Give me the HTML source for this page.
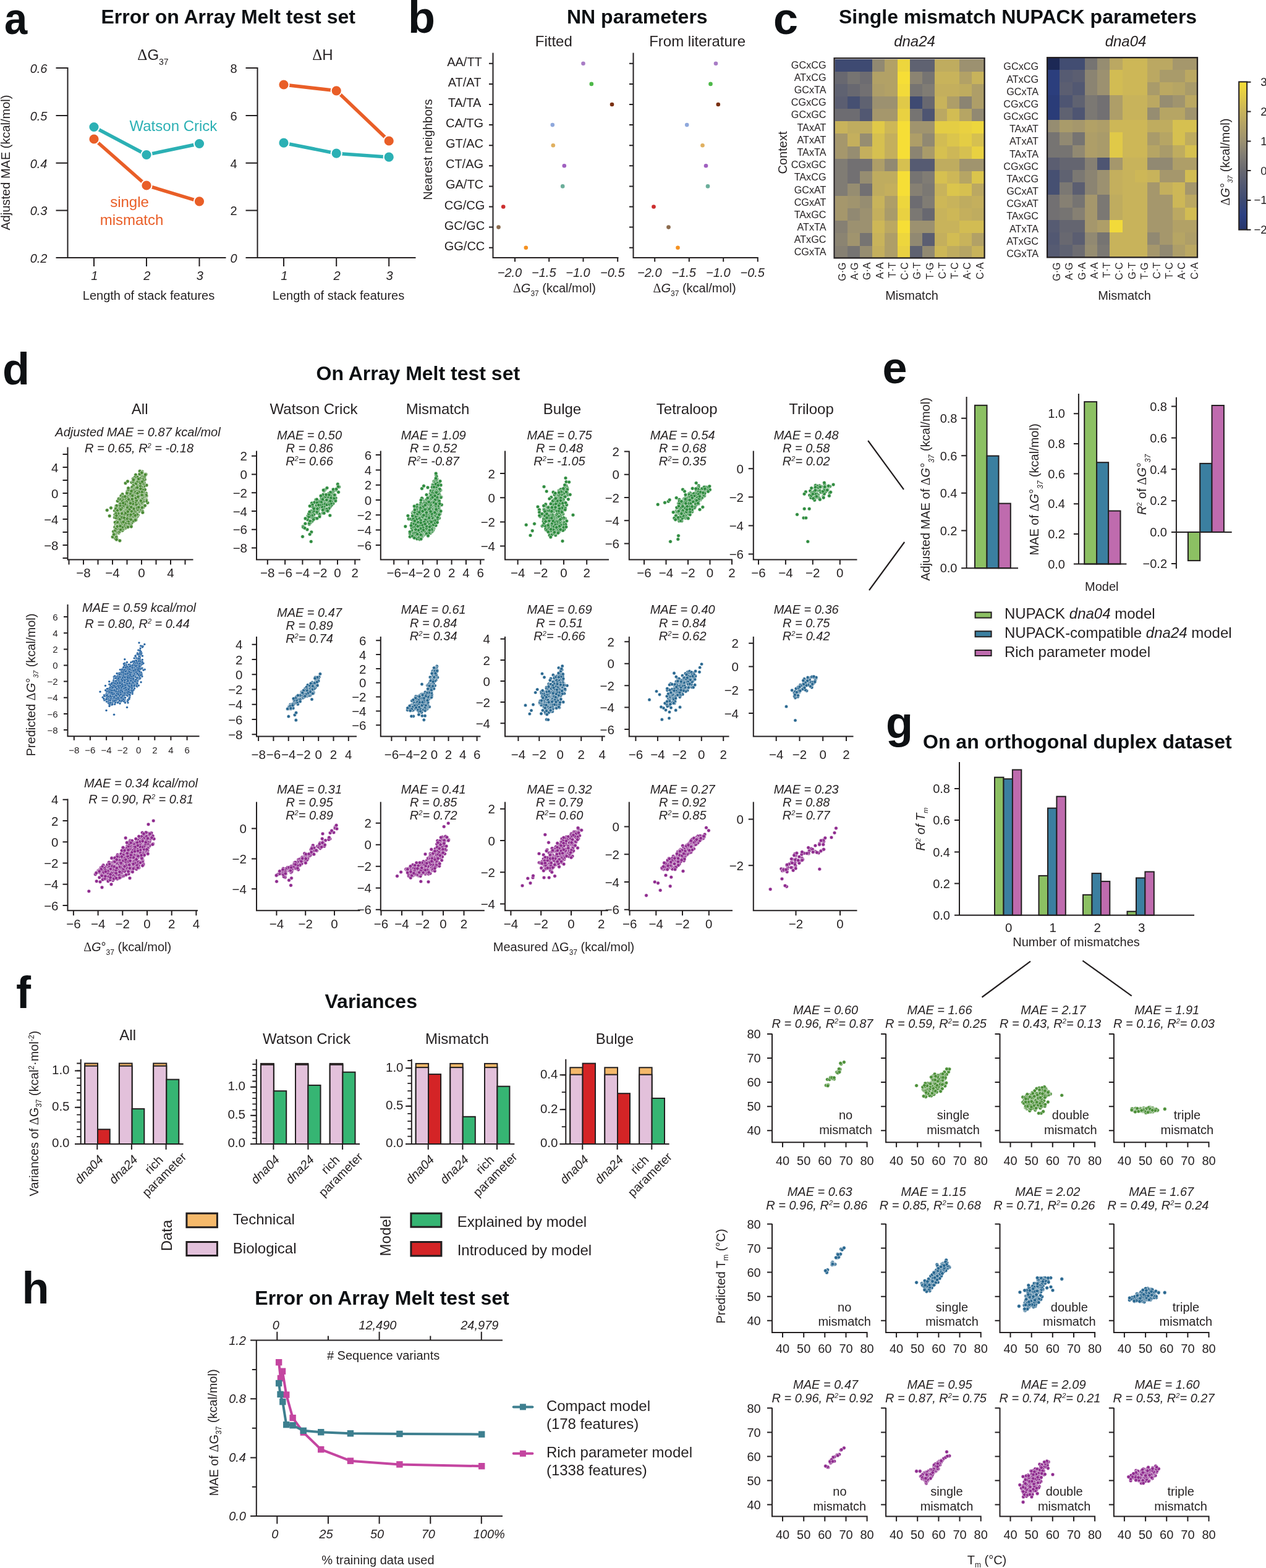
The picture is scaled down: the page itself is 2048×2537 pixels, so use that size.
<!DOCTYPE html>
<html lang="en"><head><meta charset="utf-8"><title>Figure</title>
<style>html,body{margin:0;padding:0;background:#fff}body{width:2048px;height:2537px;overflow:hidden}svg{display:block}.m0{fill:none;stroke:none;marker-start:url(#m0);marker-mid:url(#m0);marker-end:url(#m0)}.m1{fill:none;stroke:none;marker-start:url(#m1);marker-mid:url(#m1);marker-end:url(#m1)}.m2{fill:none;stroke:none;marker-start:url(#m2);marker-mid:url(#m2);marker-end:url(#m2)}.m3{fill:none;stroke:none;marker-start:url(#m3);marker-mid:url(#m3);marker-end:url(#m3)}.m4{fill:none;stroke:none;marker-start:url(#m4);marker-mid:url(#m4);marker-end:url(#m4)}.m5{fill:none;stroke:none;marker-start:url(#m5);marker-mid:url(#m5);marker-end:url(#m5)}.m6{fill:none;stroke:none;marker-start:url(#m6);marker-mid:url(#m6);marker-end:url(#m6)}</style></head>
<body><svg width="2048" height="2537" viewBox="0 0 2048 2537"><defs><marker id="m0" markerUnits="userSpaceOnUse" markerWidth="8.2" markerHeight="8.2" refX="4.1" refY="4.1"><circle cx="4.1" cy="4.1" r="2.8" fill="#4a8a34" stroke="#fff" stroke-width="0.5"/></marker><marker id="m1" markerUnits="userSpaceOnUse" markerWidth="6.2" markerHeight="6.2" refX="3.1" refY="3.1"><circle cx="3.1" cy="3.1" r="1.8" fill="#1f5f9e" stroke="#fff" stroke-width="0.3"/></marker><marker id="m2" markerUnits="userSpaceOnUse" markerWidth="8.2" markerHeight="8.2" refX="4.1" refY="4.1"><circle cx="4.1" cy="4.1" r="2.8" fill="#8e2a8e" stroke="#fff" stroke-width="0.5"/></marker><marker id="m3" markerUnits="userSpaceOnUse" markerWidth="8.2" markerHeight="8.2" refX="4.1" refY="4.1"><circle cx="4.1" cy="4.1" r="2.8" fill="#2e8b3e" stroke="#fff" stroke-width="0.5"/></marker><marker id="m4" markerUnits="userSpaceOnUse" markerWidth="7.8" markerHeight="7.8" refX="3.9" refY="3.9"><circle cx="3.9" cy="3.9" r="2.6" fill="#27668f" stroke="#fff" stroke-width="0.5"/></marker><marker id="m5" markerUnits="userSpaceOnUse" markerWidth="8.2" markerHeight="8.2" refX="4.1" refY="4.1"><circle cx="4.1" cy="4.1" r="2.8" fill="#4a8e36" stroke="#fff" stroke-width="0.5"/></marker><marker id="m6" markerUnits="userSpaceOnUse" markerWidth="8.2" markerHeight="8.2" refX="4.1" refY="4.1"><circle cx="4.1" cy="4.1" r="2.8" fill="#27668f" stroke="#fff" stroke-width="0.5"/></marker></defs>
<g font-family="'Liberation Sans',sans-serif" font-size="20" text-anchor="middle" fill="#231f20">
<text transform="translate(7,54.5) scale(0.93,1)" font-size="72" text-anchor="start" font-weight="bold" fill="#0d1013">a</text>
<text x="163.5" y="38" font-size="32" text-anchor="start" font-weight="bold" fill="#0d1013">Error on Array Melt test set</text>
<path d="M109.5 109V417H365.5M90.5 110H109.5M90.5 187H109.5M90.5 263.8H109.5M90.5 340.5H109.5M90.5 417H109.5M152 417V431M237 417V431M322.5 417V431" fill="none" stroke="#231f20" stroke-width="2"/>
<text x="76.5" y="117.8" text-anchor="end" font-style="italic">0.6</text>
<text x="76.5" y="194.8" text-anchor="end" font-style="italic">0.5</text>
<text x="76.5" y="271.6" text-anchor="end" font-style="italic">0.4</text>
<text x="76.5" y="348.3" text-anchor="end" font-style="italic">0.3</text>
<text x="76.5" y="424.8" text-anchor="end" font-style="italic">0.2</text>
<text x="152.8" y="452.5" font-style="italic">1</text>
<text x="237.8" y="452.5" font-style="italic">2</text>
<text x="323.3" y="452.5" font-style="italic">3</text>
<text x="240.5" y="485">Length of stack features</text>
<text x="247.5" y="97" font-size="24"><tspan font-family="Liberation Serif" font-size="25">Δ</tspan>G<tspan dy="8" font-size="14" font-style="normal">37</tspan><tspan dy="-8"></tspan></text>
<path d="M416.5 109V417H672.5M397.5 110H416.5M397.5 187H416.5M397.5 263.8H416.5M397.5 340.5H416.5M397.5 417H416.5M459 417V431M544.2 417V431M629.2 417V431" fill="none" stroke="#231f20" stroke-width="2"/>
<text x="383.5" y="117.8" text-anchor="end">8</text>
<text x="383.5" y="194.8" text-anchor="end">6</text>
<text x="383.5" y="271.6" text-anchor="end">4</text>
<text x="383.5" y="348.3" text-anchor="end">2</text>
<text x="383.5" y="424.8" text-anchor="end" font-style="italic">0</text>
<text x="459.8" y="452.5" font-style="italic">1</text>
<text x="545" y="452.5" font-style="italic">2</text>
<text x="630" y="452.5" font-style="italic">3</text>
<text x="547.5" y="485">Length of stack features</text>
<text x="522" y="97" font-size="24"><tspan font-family="Liberation Serif" font-size="25">Δ</tspan>H</text>
<text transform="translate(15.5,263) rotate(-90)">Adjusted MAE (kcal/mol)</text>
<path d="M152 205.5 L237 250.5 L322.5 232.5" fill="none" stroke="#2bb0b4" stroke-width="5.5" stroke-linejoin="round"/>
<circle cx="152" cy="205.5" r="8.6" fill="#2bb0b4" stroke="#fff" stroke-width="2"/>
<circle cx="237" cy="250.5" r="8.6" fill="#2bb0b4" stroke="#fff" stroke-width="2"/>
<circle cx="322.5" cy="232.5" r="8.6" fill="#2bb0b4" stroke="#fff" stroke-width="2"/>
<path d="M152 225 L237 300 L322.5 325.8" fill="none" stroke="#e95e27" stroke-width="5.5" stroke-linejoin="round"/>
<circle cx="152" cy="225" r="8.6" fill="#e95e27" stroke="#fff" stroke-width="2"/>
<circle cx="237" cy="300" r="8.6" fill="#e95e27" stroke="#fff" stroke-width="2"/>
<circle cx="322.5" cy="325.8" r="8.6" fill="#e95e27" stroke="#fff" stroke-width="2"/>
<path d="M459 231.2 L544.2 248.2 L629.2 254.2" fill="none" stroke="#2bb0b4" stroke-width="5.5" stroke-linejoin="round"/>
<circle cx="459" cy="231.2" r="8.6" fill="#2bb0b4" stroke="#fff" stroke-width="2"/>
<circle cx="544.2" cy="248.2" r="8.6" fill="#2bb0b4" stroke="#fff" stroke-width="2"/>
<circle cx="629.2" cy="254.2" r="8.6" fill="#2bb0b4" stroke="#fff" stroke-width="2"/>
<path d="M459 137 L544.2 146.8 L629.2 228" fill="none" stroke="#e95e27" stroke-width="5.5" stroke-linejoin="round"/>
<circle cx="459" cy="137" r="8.6" fill="#e95e27" stroke="#fff" stroke-width="2"/>
<circle cx="544.2" cy="146.8" r="8.6" fill="#e95e27" stroke="#fff" stroke-width="2"/>
<circle cx="629.2" cy="228" r="8.6" fill="#e95e27" stroke="#fff" stroke-width="2"/>
<text x="209.5" y="212" font-size="24" text-anchor="start" fill="#2bb0b4">Watson Crick</text>
<text x="209.5" y="335" font-size="24" fill="#e95e27">single</text>
<text x="213" y="364" font-size="24" fill="#e95e27">mismatch</text>
<text x="660" y="52.5" font-size="72" text-anchor="start" font-weight="bold" fill="#0d1013">b</text>
<text x="917" y="38" font-size="32" text-anchor="start" font-weight="bold" fill="#0d1013">NN parameters</text>
<text x="895.8" y="74.5" font-size="24">Fitted</text>
<text x="1128.2" y="74.5" font-size="24">From literature</text>
<path d="M797.5 85.5V417H1000.5M791 102.8H797.5M791 135.9H797.5M791 169H797.5M791 202.1H797.5M791 235.2H797.5M791 268.3H797.5M791 301.4H797.5M791 334.5H797.5M791 367.6H797.5M791 400.7H797.5M833 417V423.5M888.2 417V423.5M943.5 417V423.5M999.2 417V423.5" fill="none" stroke="#231f20" stroke-width="2"/>
<text x="824.5" y="447.5" font-style="italic">−2.0</text>
<text x="879.8" y="447.5" font-style="italic">−1.5</text>
<text x="935" y="447.5" font-style="italic">−1.0</text>
<text x="990.8" y="447.5" font-style="italic">−0.5</text>
<circle cx="943.5" cy="102.8" r="3.3" fill="#a87cc6"/>
<circle cx="956.8" cy="135.9" r="3.3" fill="#4db848"/>
<circle cx="990" cy="169" r="3.3" fill="#7a3010"/>
<circle cx="893.8" cy="202.1" r="3.3" fill="#8fa8dc"/>
<circle cx="894.8" cy="235.2" r="3.3" fill="#e0b060"/>
<circle cx="912.8" cy="268.3" r="3.3" fill="#a060c0"/>
<circle cx="910.2" cy="301.4" r="3.3" fill="#6bae9a"/>
<circle cx="814.2" cy="334.5" r="3.3" fill="#cc2e2e"/>
<circle cx="806.5" cy="367.6" r="3.3" fill="#8b6b4e"/>
<circle cx="850.8" cy="400.7" r="3.3" fill="#f59120"/>
<text x="751.5" y="106.8">AA/TT</text>
<text x="751.5" y="139.9">AT/AT</text>
<text x="751.5" y="173">TA/TA</text>
<text x="751.5" y="206.1">CA/TG</text>
<text x="751.5" y="239.2">GT/AC</text>
<text x="751.5" y="272.3">CT/AG</text>
<text x="751.5" y="305.4">GA/TC</text>
<text x="751.5" y="338.5">CG/CG</text>
<text x="751.5" y="371.6">GC/GC</text>
<text x="751.5" y="404.7">GG/CC</text>
<text x="897" y="472.5"><tspan font-family="Liberation Serif">Δ</tspan><tspan font-style="italic">G</tspan><tspan dy="6" font-size="12" font-style="normal">37</tspan><tspan dy="-6"> (kcal/mol)</tspan></text>
<path d="M1024.5 85.5V417H1226.8M1018 102.8H1024.5M1018 135.9H1024.5M1018 169H1024.5M1018 202.1H1024.5M1018 235.2H1024.5M1018 268.3H1024.5M1018 301.4H1024.5M1018 334.5H1024.5M1018 367.6H1024.5M1018 400.7H1024.5M1059.2 417V423.5M1114.8 417V423.5M1170.2 417V423.5M1225.8 417V423.5" fill="none" stroke="#231f20" stroke-width="2"/>
<text x="1050.8" y="447.5" font-style="italic">−2.0</text>
<text x="1106.2" y="447.5" font-style="italic">−1.5</text>
<text x="1161.8" y="447.5" font-style="italic">−1.0</text>
<text x="1217.2" y="447.5" font-style="italic">−0.5</text>
<circle cx="1158" cy="102.8" r="3.3" fill="#a87cc6"/>
<circle cx="1149.5" cy="135.9" r="3.3" fill="#4db848"/>
<circle cx="1161.8" cy="169" r="3.3" fill="#7a3010"/>
<circle cx="1111.2" cy="202.1" r="3.3" fill="#8fa8dc"/>
<circle cx="1136.5" cy="235.2" r="3.3" fill="#e0b060"/>
<circle cx="1142" cy="268.3" r="3.3" fill="#a060c0"/>
<circle cx="1145" cy="301.4" r="3.3" fill="#6bae9a"/>
<circle cx="1057.5" cy="334.5" r="3.3" fill="#cc2e2e"/>
<circle cx="1081.5" cy="367.6" r="3.3" fill="#8b6b4e"/>
<circle cx="1096.5" cy="400.7" r="3.3" fill="#f59120"/>
<text x="1123.6" y="472.5"><tspan font-family="Liberation Serif">Δ</tspan><tspan font-style="italic">G</tspan><tspan dy="6" font-size="12" font-style="normal">37</tspan><tspan dy="-6"> (kcal/mol)</tspan></text>
<text transform="translate(699,242) rotate(-90)">Nearest neighbors</text>
<text x="1251" y="54.5" font-size="72" text-anchor="start" font-weight="bold" fill="#0d1013">c</text>
<text x="1357" y="38" font-size="32" text-anchor="start" font-weight="bold" fill="#0d1013">Single mismatch NUPACK parameters</text>
<g shape-rendering="crispEdges">
<rect x="1350.7" y="95.6" width="20.5" height="20.5" fill="#3e4a72"/>
<rect x="1370.9" y="95.6" width="20.5" height="20.5" fill="#3e4a72"/>
<rect x="1391" y="95.6" width="20.5" height="20.5" fill="#3e4a72"/>
<rect x="1411.2" y="95.6" width="20.5" height="20.5" fill="#918972"/>
<rect x="1431.3" y="95.6" width="20.5" height="20.5" fill="#b2a166"/>
<rect x="1451.5" y="95.6" width="20.5" height="20.5" fill="#edd63d"/>
<rect x="1471.6" y="95.6" width="20.5" height="20.5" fill="#5f6271"/>
<rect x="1491.8" y="95.6" width="20.5" height="20.5" fill="#5f6271"/>
<rect x="1511.9" y="95.6" width="20.5" height="20.5" fill="#bfac5f"/>
<rect x="1532" y="95.6" width="20.5" height="20.5" fill="#bfac5f"/>
<rect x="1552.2" y="95.6" width="20.5" height="20.5" fill="#9c9170"/>
<rect x="1572.3" y="95.6" width="20.5" height="20.5" fill="#9c9170"/>
<rect x="1350.7" y="115.7" width="20.5" height="20.5" fill="#686870"/>
<rect x="1370.9" y="115.7" width="20.5" height="20.5" fill="#767472"/>
<rect x="1391" y="115.7" width="20.5" height="20.5" fill="#6d6c71"/>
<rect x="1411.2" y="115.7" width="20.5" height="20.5" fill="#b2a166"/>
<rect x="1431.3" y="115.7" width="20.5" height="20.5" fill="#b2a166"/>
<rect x="1451.5" y="115.7" width="20.5" height="20.5" fill="#f6de36"/>
<rect x="1471.6" y="115.7" width="20.5" height="20.5" fill="#8b8472"/>
<rect x="1491.8" y="115.7" width="20.5" height="20.5" fill="#767472"/>
<rect x="1511.9" y="115.7" width="20.5" height="20.5" fill="#c8b35b"/>
<rect x="1532" y="115.7" width="20.5" height="20.5" fill="#c8b35b"/>
<rect x="1552.2" y="115.7" width="20.5" height="20.5" fill="#b2a166"/>
<rect x="1572.3" y="115.7" width="20.5" height="20.5" fill="#c8b35b"/>
<rect x="1350.7" y="135.9" width="20.5" height="20.5" fill="#5f6271"/>
<rect x="1370.9" y="135.9" width="20.5" height="20.5" fill="#686870"/>
<rect x="1391" y="135.9" width="20.5" height="20.5" fill="#727072"/>
<rect x="1411.2" y="135.9" width="20.5" height="20.5" fill="#ae9e68"/>
<rect x="1431.3" y="135.9" width="20.5" height="20.5" fill="#b2a166"/>
<rect x="1451.5" y="135.9" width="20.5" height="20.5" fill="#f2da3a"/>
<rect x="1471.6" y="135.9" width="20.5" height="20.5" fill="#767472"/>
<rect x="1491.8" y="135.9" width="20.5" height="20.5" fill="#807c74"/>
<rect x="1511.9" y="135.9" width="20.5" height="20.5" fill="#c4af5d"/>
<rect x="1532" y="135.9" width="20.5" height="20.5" fill="#c4af5d"/>
<rect x="1552.2" y="135.9" width="20.5" height="20.5" fill="#bfac5f"/>
<rect x="1572.3" y="135.9" width="20.5" height="20.5" fill="#ae9e68"/>
<rect x="1350.7" y="156" width="20.5" height="20.5" fill="#5b5e71"/>
<rect x="1370.9" y="156" width="20.5" height="20.5" fill="#465072"/>
<rect x="1391" y="156" width="20.5" height="20.5" fill="#5f6271"/>
<rect x="1411.2" y="156" width="20.5" height="20.5" fill="#9c9170"/>
<rect x="1431.3" y="156" width="20.5" height="20.5" fill="#9c9170"/>
<rect x="1451.5" y="156" width="20.5" height="20.5" fill="#e0c948"/>
<rect x="1471.6" y="156" width="20.5" height="20.5" fill="#3e4a72"/>
<rect x="1491.8" y="156" width="20.5" height="20.5" fill="#686870"/>
<rect x="1511.9" y="156" width="20.5" height="20.5" fill="#c8b35b"/>
<rect x="1532" y="156" width="20.5" height="20.5" fill="#ae9e68"/>
<rect x="1552.2" y="156" width="20.5" height="20.5" fill="#8b8472"/>
<rect x="1572.3" y="156" width="20.5" height="20.5" fill="#ae9e68"/>
<rect x="1350.7" y="176.1" width="20.5" height="20.5" fill="#6d6c71"/>
<rect x="1370.9" y="176.1" width="20.5" height="20.5" fill="#6d6c71"/>
<rect x="1391" y="176.1" width="20.5" height="20.5" fill="#525872"/>
<rect x="1411.2" y="176.1" width="20.5" height="20.5" fill="#a5976c"/>
<rect x="1431.3" y="176.1" width="20.5" height="20.5" fill="#a5976c"/>
<rect x="1451.5" y="176.1" width="20.5" height="20.5" fill="#e9d141"/>
<rect x="1471.6" y="176.1" width="20.5" height="20.5" fill="#767472"/>
<rect x="1491.8" y="176.1" width="20.5" height="20.5" fill="#4e5572"/>
<rect x="1511.9" y="176.1" width="20.5" height="20.5" fill="#bba862"/>
<rect x="1532" y="176.1" width="20.5" height="20.5" fill="#d2bc53"/>
<rect x="1552.2" y="176.1" width="20.5" height="20.5" fill="#b6a564"/>
<rect x="1572.3" y="176.1" width="20.5" height="20.5" fill="#918972"/>
<rect x="1350.7" y="196.3" width="20.5" height="20.5" fill="#c8b35b"/>
<rect x="1370.9" y="196.3" width="20.5" height="20.5" fill="#bfac5f"/>
<rect x="1391" y="196.3" width="20.5" height="20.5" fill="#bfac5f"/>
<rect x="1411.2" y="196.3" width="20.5" height="20.5" fill="#e0c948"/>
<rect x="1431.3" y="196.3" width="20.5" height="20.5" fill="#cdb757"/>
<rect x="1451.5" y="196.3" width="20.5" height="20.5" fill="#f6de36"/>
<rect x="1471.6" y="196.3" width="20.5" height="20.5" fill="#a0946e"/>
<rect x="1491.8" y="196.3" width="20.5" height="20.5" fill="#a0946e"/>
<rect x="1511.9" y="196.3" width="20.5" height="20.5" fill="#e4cd44"/>
<rect x="1532" y="196.3" width="20.5" height="20.5" fill="#e4cd44"/>
<rect x="1552.2" y="196.3" width="20.5" height="20.5" fill="#e9d141"/>
<rect x="1572.3" y="196.3" width="20.5" height="20.5" fill="#edd63d"/>
<rect x="1350.7" y="216.4" width="20.5" height="20.5" fill="#a5976c"/>
<rect x="1370.9" y="216.4" width="20.5" height="20.5" fill="#c4af5d"/>
<rect x="1391" y="216.4" width="20.5" height="20.5" fill="#968d71"/>
<rect x="1411.2" y="216.4" width="20.5" height="20.5" fill="#d6c050"/>
<rect x="1431.3" y="216.4" width="20.5" height="20.5" fill="#c4af5d"/>
<rect x="1451.5" y="216.4" width="20.5" height="20.5" fill="#f6de36"/>
<rect x="1471.6" y="216.4" width="20.5" height="20.5" fill="#ae9e68"/>
<rect x="1491.8" y="216.4" width="20.5" height="20.5" fill="#918972"/>
<rect x="1511.9" y="216.4" width="20.5" height="20.5" fill="#d2bc53"/>
<rect x="1532" y="216.4" width="20.5" height="20.5" fill="#dbc54c"/>
<rect x="1552.2" y="216.4" width="20.5" height="20.5" fill="#e4cd44"/>
<rect x="1572.3" y="216.4" width="20.5" height="20.5" fill="#d6c050"/>
<rect x="1350.7" y="236.5" width="20.5" height="20.5" fill="#a5976c"/>
<rect x="1370.9" y="236.5" width="20.5" height="20.5" fill="#968d71"/>
<rect x="1391" y="236.5" width="20.5" height="20.5" fill="#c4af5d"/>
<rect x="1411.2" y="236.5" width="20.5" height="20.5" fill="#d6c050"/>
<rect x="1431.3" y="236.5" width="20.5" height="20.5" fill="#c4af5d"/>
<rect x="1451.5" y="236.5" width="20.5" height="20.5" fill="#f6de36"/>
<rect x="1471.6" y="236.5" width="20.5" height="20.5" fill="#8b8472"/>
<rect x="1491.8" y="236.5" width="20.5" height="20.5" fill="#a99b6a"/>
<rect x="1511.9" y="236.5" width="20.5" height="20.5" fill="#d6c050"/>
<rect x="1532" y="236.5" width="20.5" height="20.5" fill="#cdb757"/>
<rect x="1552.2" y="236.5" width="20.5" height="20.5" fill="#d6c050"/>
<rect x="1572.3" y="236.5" width="20.5" height="20.5" fill="#e9d141"/>
<rect x="1350.7" y="256.6" width="20.5" height="20.5" fill="#807c74"/>
<rect x="1370.9" y="256.6" width="20.5" height="20.5" fill="#727072"/>
<rect x="1391" y="256.6" width="20.5" height="20.5" fill="#727072"/>
<rect x="1411.2" y="256.6" width="20.5" height="20.5" fill="#ae9e68"/>
<rect x="1431.3" y="256.6" width="20.5" height="20.5" fill="#918972"/>
<rect x="1451.5" y="256.6" width="20.5" height="20.5" fill="#d6c050"/>
<rect x="1471.6" y="256.6" width="20.5" height="20.5" fill="#565b72"/>
<rect x="1491.8" y="256.6" width="20.5" height="20.5" fill="#565b72"/>
<rect x="1511.9" y="256.6" width="20.5" height="20.5" fill="#bfac5f"/>
<rect x="1532" y="256.6" width="20.5" height="20.5" fill="#bfac5f"/>
<rect x="1552.2" y="256.6" width="20.5" height="20.5" fill="#a0946e"/>
<rect x="1572.3" y="256.6" width="20.5" height="20.5" fill="#a0946e"/>
<rect x="1350.7" y="276.8" width="20.5" height="20.5" fill="#807c74"/>
<rect x="1370.9" y="276.8" width="20.5" height="20.5" fill="#727072"/>
<rect x="1391" y="276.8" width="20.5" height="20.5" fill="#968d71"/>
<rect x="1411.2" y="276.8" width="20.5" height="20.5" fill="#bfac5f"/>
<rect x="1431.3" y="276.8" width="20.5" height="20.5" fill="#bfac5f"/>
<rect x="1451.5" y="276.8" width="20.5" height="20.5" fill="#f6de36"/>
<rect x="1471.6" y="276.8" width="20.5" height="20.5" fill="#767472"/>
<rect x="1491.8" y="276.8" width="20.5" height="20.5" fill="#807c74"/>
<rect x="1511.9" y="276.8" width="20.5" height="20.5" fill="#d6c050"/>
<rect x="1532" y="276.8" width="20.5" height="20.5" fill="#cdb757"/>
<rect x="1552.2" y="276.8" width="20.5" height="20.5" fill="#b6a564"/>
<rect x="1572.3" y="276.8" width="20.5" height="20.5" fill="#dbc54c"/>
<rect x="1350.7" y="296.9" width="20.5" height="20.5" fill="#807c74"/>
<rect x="1370.9" y="296.9" width="20.5" height="20.5" fill="#968d71"/>
<rect x="1391" y="296.9" width="20.5" height="20.5" fill="#727072"/>
<rect x="1411.2" y="296.9" width="20.5" height="20.5" fill="#bfac5f"/>
<rect x="1431.3" y="296.9" width="20.5" height="20.5" fill="#c4af5d"/>
<rect x="1451.5" y="296.9" width="20.5" height="20.5" fill="#f6de36"/>
<rect x="1471.6" y="296.9" width="20.5" height="20.5" fill="#868073"/>
<rect x="1491.8" y="296.9" width="20.5" height="20.5" fill="#7b7873"/>
<rect x="1511.9" y="296.9" width="20.5" height="20.5" fill="#c8b35b"/>
<rect x="1532" y="296.9" width="20.5" height="20.5" fill="#dbc54c"/>
<rect x="1552.2" y="296.9" width="20.5" height="20.5" fill="#d6c050"/>
<rect x="1572.3" y="296.9" width="20.5" height="20.5" fill="#bba862"/>
<rect x="1350.7" y="317" width="20.5" height="20.5" fill="#a5976c"/>
<rect x="1370.9" y="317" width="20.5" height="20.5" fill="#a0946e"/>
<rect x="1391" y="317" width="20.5" height="20.5" fill="#968d71"/>
<rect x="1411.2" y="317" width="20.5" height="20.5" fill="#c8b35b"/>
<rect x="1431.3" y="317" width="20.5" height="20.5" fill="#ae9e68"/>
<rect x="1451.5" y="317" width="20.5" height="20.5" fill="#edd63d"/>
<rect x="1471.6" y="317" width="20.5" height="20.5" fill="#6d6c71"/>
<rect x="1491.8" y="317" width="20.5" height="20.5" fill="#807c74"/>
<rect x="1511.9" y="317" width="20.5" height="20.5" fill="#cdb757"/>
<rect x="1532" y="317" width="20.5" height="20.5" fill="#c8b35b"/>
<rect x="1552.2" y="317" width="20.5" height="20.5" fill="#bfac5f"/>
<rect x="1572.3" y="317" width="20.5" height="20.5" fill="#c4af5d"/>
<rect x="1350.7" y="337.2" width="20.5" height="20.5" fill="#a5976c"/>
<rect x="1370.9" y="337.2" width="20.5" height="20.5" fill="#918972"/>
<rect x="1391" y="337.2" width="20.5" height="20.5" fill="#9c9170"/>
<rect x="1411.2" y="337.2" width="20.5" height="20.5" fill="#c4af5d"/>
<rect x="1431.3" y="337.2" width="20.5" height="20.5" fill="#a99b6a"/>
<rect x="1451.5" y="337.2" width="20.5" height="20.5" fill="#e9d141"/>
<rect x="1471.6" y="337.2" width="20.5" height="20.5" fill="#7b7873"/>
<rect x="1491.8" y="337.2" width="20.5" height="20.5" fill="#686870"/>
<rect x="1511.9" y="337.2" width="20.5" height="20.5" fill="#c8b35b"/>
<rect x="1532" y="337.2" width="20.5" height="20.5" fill="#cdb757"/>
<rect x="1552.2" y="337.2" width="20.5" height="20.5" fill="#c4af5d"/>
<rect x="1572.3" y="337.2" width="20.5" height="20.5" fill="#bfac5f"/>
<rect x="1350.7" y="357.3" width="20.5" height="20.5" fill="#868073"/>
<rect x="1370.9" y="357.3" width="20.5" height="20.5" fill="#9c9170"/>
<rect x="1391" y="357.3" width="20.5" height="20.5" fill="#9c9170"/>
<rect x="1411.2" y="357.3" width="20.5" height="20.5" fill="#cdb757"/>
<rect x="1431.3" y="357.3" width="20.5" height="20.5" fill="#bba862"/>
<rect x="1451.5" y="357.3" width="20.5" height="20.5" fill="#f6de36"/>
<rect x="1471.6" y="357.3" width="20.5" height="20.5" fill="#9c9170"/>
<rect x="1491.8" y="357.3" width="20.5" height="20.5" fill="#9c9170"/>
<rect x="1511.9" y="357.3" width="20.5" height="20.5" fill="#c8b35b"/>
<rect x="1532" y="357.3" width="20.5" height="20.5" fill="#c8b35b"/>
<rect x="1552.2" y="357.3" width="20.5" height="20.5" fill="#d2bc53"/>
<rect x="1572.3" y="357.3" width="20.5" height="20.5" fill="#d2bc53"/>
<rect x="1350.7" y="377.4" width="20.5" height="20.5" fill="#8b8472"/>
<rect x="1370.9" y="377.4" width="20.5" height="20.5" fill="#a0946e"/>
<rect x="1391" y="377.4" width="20.5" height="20.5" fill="#767472"/>
<rect x="1411.2" y="377.4" width="20.5" height="20.5" fill="#c8b35b"/>
<rect x="1431.3" y="377.4" width="20.5" height="20.5" fill="#ae9e68"/>
<rect x="1451.5" y="377.4" width="20.5" height="20.5" fill="#edd63d"/>
<rect x="1471.6" y="377.4" width="20.5" height="20.5" fill="#918972"/>
<rect x="1491.8" y="377.4" width="20.5" height="20.5" fill="#5b5e71"/>
<rect x="1511.9" y="377.4" width="20.5" height="20.5" fill="#c4af5d"/>
<rect x="1532" y="377.4" width="20.5" height="20.5" fill="#d2bc53"/>
<rect x="1552.2" y="377.4" width="20.5" height="20.5" fill="#c8b35b"/>
<rect x="1572.3" y="377.4" width="20.5" height="20.5" fill="#b2a166"/>
<rect x="1350.7" y="397.6" width="20.5" height="20.5" fill="#868073"/>
<rect x="1370.9" y="397.6" width="20.5" height="20.5" fill="#767472"/>
<rect x="1391" y="397.6" width="20.5" height="20.5" fill="#968d71"/>
<rect x="1411.2" y="397.6" width="20.5" height="20.5" fill="#c4af5d"/>
<rect x="1431.3" y="397.6" width="20.5" height="20.5" fill="#ae9e68"/>
<rect x="1451.5" y="397.6" width="20.5" height="20.5" fill="#e9d141"/>
<rect x="1471.6" y="397.6" width="20.5" height="20.5" fill="#5f6271"/>
<rect x="1491.8" y="397.6" width="20.5" height="20.5" fill="#918972"/>
<rect x="1511.9" y="397.6" width="20.5" height="20.5" fill="#cdb757"/>
<rect x="1532" y="397.6" width="20.5" height="20.5" fill="#bfac5f"/>
<rect x="1552.2" y="397.6" width="20.5" height="20.5" fill="#b6a564"/>
<rect x="1572.3" y="397.6" width="20.5" height="20.5" fill="#c8b35b"/>
</g>
<rect x="1349.6" y="94.2" width="243" height="323.2" fill="none" stroke="#231f20" stroke-width="2.3"/>
<text x="1336.5" y="110.8" font-size="16.2" text-anchor="end">GCxCG</text>
<text x="1336.5" y="130.9" font-size="16.2" text-anchor="end">ATxCG</text>
<text x="1336.5" y="151.1" font-size="16.2" text-anchor="end">GCxTA</text>
<text x="1336.5" y="171.3" font-size="16.2" text-anchor="end">CGxCG</text>
<text x="1336.5" y="191.4" font-size="16.2" text-anchor="end">GCxGC</text>
<text x="1336.5" y="211.6" font-size="16.2" text-anchor="end">TAxAT</text>
<text x="1336.5" y="231.8" font-size="16.2" text-anchor="end">ATxAT</text>
<text x="1336.5" y="251.9" font-size="16.2" text-anchor="end">TAxTA</text>
<text x="1336.5" y="272.1" font-size="16.2" text-anchor="end">CGxGC</text>
<text x="1336.5" y="292.3" font-size="16.2" text-anchor="end">TAxCG</text>
<text x="1336.5" y="312.5" font-size="16.2" text-anchor="end">GCxAT</text>
<text x="1336.5" y="332.6" font-size="16.2" text-anchor="end">CGxAT</text>
<text x="1336.5" y="352.8" font-size="16.2" text-anchor="end">TAxGC</text>
<text x="1336.5" y="373" font-size="16.2" text-anchor="end">ATxTA</text>
<text x="1336.5" y="393.1" font-size="16.2" text-anchor="end">ATxGC</text>
<text x="1336.5" y="413.3" font-size="16.2" text-anchor="end">CGxTA</text>
<text transform="translate(1367.7,424.5) rotate(-90)" font-size="16" text-anchor="end">G·G</text>
<text transform="translate(1388,424.5) rotate(-90)" font-size="16" text-anchor="end">A·G</text>
<text transform="translate(1408.2,424.5) rotate(-90)" font-size="16" text-anchor="end">G·A</text>
<text transform="translate(1428.5,424.5) rotate(-90)" font-size="16" text-anchor="end">A·A</text>
<text transform="translate(1448.7,424.5) rotate(-90)" font-size="16" text-anchor="end">T·T</text>
<text transform="translate(1469,424.5) rotate(-90)" font-size="16" text-anchor="end">C·C</text>
<text transform="translate(1489.2,424.5) rotate(-90)" font-size="16" text-anchor="end">G·T</text>
<text transform="translate(1509.5,424.5) rotate(-90)" font-size="16" text-anchor="end">T·G</text>
<text transform="translate(1529.7,424.5) rotate(-90)" font-size="16" text-anchor="end">C·T</text>
<text transform="translate(1550,424.5) rotate(-90)" font-size="16" text-anchor="end">T·C</text>
<text transform="translate(1570.2,424.5) rotate(-90)" font-size="16" text-anchor="end">A·C</text>
<text transform="translate(1590.5,424.5) rotate(-90)" font-size="16" text-anchor="end">C·A</text>
<text x="1479.5" y="74.5" font-size="24" font-style="italic">dna24</text>
<text x="1475" y="484.7">Mismatch</text>
<g shape-rendering="crispEdges">
<rect x="1694" y="93" width="20.6" height="20.6" fill="#1c2855"/>
<rect x="1714.2" y="93" width="20.6" height="20.6" fill="#424d72"/>
<rect x="1734.5" y="93" width="20.6" height="20.6" fill="#424d72"/>
<rect x="1754.8" y="93" width="20.6" height="20.6" fill="#767472"/>
<rect x="1775" y="93" width="20.6" height="20.6" fill="#968d71"/>
<rect x="1795.2" y="93" width="20.6" height="20.6" fill="#bba862"/>
<rect x="1815.5" y="93" width="20.6" height="20.6" fill="#cdb757"/>
<rect x="1835.8" y="93" width="20.6" height="20.6" fill="#cdb757"/>
<rect x="1856" y="93" width="20.6" height="20.6" fill="#bba862"/>
<rect x="1876.2" y="93" width="20.6" height="20.6" fill="#bba862"/>
<rect x="1896.5" y="93" width="20.6" height="20.6" fill="#a5976c"/>
<rect x="1916.8" y="93" width="20.6" height="20.6" fill="#a5976c"/>
<rect x="1694" y="113.2" width="20.6" height="20.6" fill="#2b3e7d"/>
<rect x="1714.2" y="113.2" width="20.6" height="20.6" fill="#565b72"/>
<rect x="1734.5" y="113.2" width="20.6" height="20.6" fill="#5b5e71"/>
<rect x="1754.8" y="113.2" width="20.6" height="20.6" fill="#8b8472"/>
<rect x="1775" y="113.2" width="20.6" height="20.6" fill="#9c9170"/>
<rect x="1795.2" y="113.2" width="20.6" height="20.6" fill="#d2bc53"/>
<rect x="1815.5" y="113.2" width="20.6" height="20.6" fill="#cdb757"/>
<rect x="1835.8" y="113.2" width="20.6" height="20.6" fill="#cdb757"/>
<rect x="1856" y="113.2" width="20.6" height="20.6" fill="#bba862"/>
<rect x="1876.2" y="113.2" width="20.6" height="20.6" fill="#a99b6a"/>
<rect x="1896.5" y="113.2" width="20.6" height="20.6" fill="#a99b6a"/>
<rect x="1916.8" y="113.2" width="20.6" height="20.6" fill="#bba862"/>
<rect x="1694" y="133.4" width="20.6" height="20.6" fill="#2b3e7d"/>
<rect x="1714.2" y="133.4" width="20.6" height="20.6" fill="#5b5e71"/>
<rect x="1734.5" y="133.4" width="20.6" height="20.6" fill="#525872"/>
<rect x="1754.8" y="133.4" width="20.6" height="20.6" fill="#8b8472"/>
<rect x="1775" y="133.4" width="20.6" height="20.6" fill="#9c9170"/>
<rect x="1795.2" y="133.4" width="20.6" height="20.6" fill="#d2bc53"/>
<rect x="1815.5" y="133.4" width="20.6" height="20.6" fill="#cdb757"/>
<rect x="1835.8" y="133.4" width="20.6" height="20.6" fill="#cdb757"/>
<rect x="1856" y="133.4" width="20.6" height="20.6" fill="#a99b6a"/>
<rect x="1876.2" y="133.4" width="20.6" height="20.6" fill="#bba862"/>
<rect x="1896.5" y="133.4" width="20.6" height="20.6" fill="#b6a564"/>
<rect x="1916.8" y="133.4" width="20.6" height="20.6" fill="#a99b6a"/>
<rect x="1694" y="153.7" width="20.6" height="20.6" fill="#2a3c78"/>
<rect x="1714.2" y="153.7" width="20.6" height="20.6" fill="#4e5572"/>
<rect x="1734.5" y="153.7" width="20.6" height="20.6" fill="#5f6271"/>
<rect x="1754.8" y="153.7" width="20.6" height="20.6" fill="#7b7873"/>
<rect x="1775" y="153.7" width="20.6" height="20.6" fill="#727072"/>
<rect x="1795.2" y="153.7" width="20.6" height="20.6" fill="#ae9e68"/>
<rect x="1815.5" y="153.7" width="20.6" height="20.6" fill="#c8b35b"/>
<rect x="1835.8" y="153.7" width="20.6" height="20.6" fill="#c8b35b"/>
<rect x="1856" y="153.7" width="20.6" height="20.6" fill="#bba862"/>
<rect x="1876.2" y="153.7" width="20.6" height="20.6" fill="#968d71"/>
<rect x="1896.5" y="153.7" width="20.6" height="20.6" fill="#a0946e"/>
<rect x="1916.8" y="153.7" width="20.6" height="20.6" fill="#bba862"/>
<rect x="1694" y="173.9" width="20.6" height="20.6" fill="#2a3c78"/>
<rect x="1714.2" y="173.9" width="20.6" height="20.6" fill="#5f6271"/>
<rect x="1734.5" y="173.9" width="20.6" height="20.6" fill="#4e5572"/>
<rect x="1754.8" y="173.9" width="20.6" height="20.6" fill="#7b7873"/>
<rect x="1775" y="173.9" width="20.6" height="20.6" fill="#727072"/>
<rect x="1795.2" y="173.9" width="20.6" height="20.6" fill="#ae9e68"/>
<rect x="1815.5" y="173.9" width="20.6" height="20.6" fill="#c8b35b"/>
<rect x="1835.8" y="173.9" width="20.6" height="20.6" fill="#c8b35b"/>
<rect x="1856" y="173.9" width="20.6" height="20.6" fill="#968d71"/>
<rect x="1876.2" y="173.9" width="20.6" height="20.6" fill="#b6a564"/>
<rect x="1896.5" y="173.9" width="20.6" height="20.6" fill="#b6a564"/>
<rect x="1916.8" y="173.9" width="20.6" height="20.6" fill="#a0946e"/>
<rect x="1694" y="194.1" width="20.6" height="20.6" fill="#968d71"/>
<rect x="1714.2" y="194.1" width="20.6" height="20.6" fill="#a99b6a"/>
<rect x="1734.5" y="194.1" width="20.6" height="20.6" fill="#a5976c"/>
<rect x="1754.8" y="194.1" width="20.6" height="20.6" fill="#b2a166"/>
<rect x="1775" y="194.1" width="20.6" height="20.6" fill="#ae9e68"/>
<rect x="1795.2" y="194.1" width="20.6" height="20.6" fill="#cdb757"/>
<rect x="1815.5" y="194.1" width="20.6" height="20.6" fill="#cdb757"/>
<rect x="1835.8" y="194.1" width="20.6" height="20.6" fill="#cdb757"/>
<rect x="1856" y="194.1" width="20.6" height="20.6" fill="#bfac5f"/>
<rect x="1876.2" y="194.1" width="20.6" height="20.6" fill="#bfac5f"/>
<rect x="1896.5" y="194.1" width="20.6" height="20.6" fill="#d6c050"/>
<rect x="1916.8" y="194.1" width="20.6" height="20.6" fill="#d6c050"/>
<rect x="1694" y="214.3" width="20.6" height="20.6" fill="#767472"/>
<rect x="1714.2" y="214.3" width="20.6" height="20.6" fill="#918972"/>
<rect x="1734.5" y="214.3" width="20.6" height="20.6" fill="#767472"/>
<rect x="1754.8" y="214.3" width="20.6" height="20.6" fill="#ae9e68"/>
<rect x="1775" y="214.3" width="20.6" height="20.6" fill="#a99b6a"/>
<rect x="1795.2" y="214.3" width="20.6" height="20.6" fill="#e0c948"/>
<rect x="1815.5" y="214.3" width="20.6" height="20.6" fill="#cdb757"/>
<rect x="1835.8" y="214.3" width="20.6" height="20.6" fill="#cdb757"/>
<rect x="1856" y="214.3" width="20.6" height="20.6" fill="#a99b6a"/>
<rect x="1876.2" y="214.3" width="20.6" height="20.6" fill="#b6a564"/>
<rect x="1896.5" y="214.3" width="20.6" height="20.6" fill="#d6c050"/>
<rect x="1916.8" y="214.3" width="20.6" height="20.6" fill="#bfac5f"/>
<rect x="1694" y="234.5" width="20.6" height="20.6" fill="#767472"/>
<rect x="1714.2" y="234.5" width="20.6" height="20.6" fill="#767472"/>
<rect x="1734.5" y="234.5" width="20.6" height="20.6" fill="#918972"/>
<rect x="1754.8" y="234.5" width="20.6" height="20.6" fill="#ae9e68"/>
<rect x="1775" y="234.5" width="20.6" height="20.6" fill="#a99b6a"/>
<rect x="1795.2" y="234.5" width="20.6" height="20.6" fill="#e0c948"/>
<rect x="1815.5" y="234.5" width="20.6" height="20.6" fill="#cdb757"/>
<rect x="1835.8" y="234.5" width="20.6" height="20.6" fill="#cdb757"/>
<rect x="1856" y="234.5" width="20.6" height="20.6" fill="#b6a564"/>
<rect x="1876.2" y="234.5" width="20.6" height="20.6" fill="#a99b6a"/>
<rect x="1896.5" y="234.5" width="20.6" height="20.6" fill="#bfac5f"/>
<rect x="1916.8" y="234.5" width="20.6" height="20.6" fill="#d6c050"/>
<rect x="1694" y="254.8" width="20.6" height="20.6" fill="#5b5e71"/>
<rect x="1714.2" y="254.8" width="20.6" height="20.6" fill="#646570"/>
<rect x="1734.5" y="254.8" width="20.6" height="20.6" fill="#646570"/>
<rect x="1754.8" y="254.8" width="20.6" height="20.6" fill="#868073"/>
<rect x="1775" y="254.8" width="20.6" height="20.6" fill="#4e5572"/>
<rect x="1795.2" y="254.8" width="20.6" height="20.6" fill="#a5976c"/>
<rect x="1815.5" y="254.8" width="20.6" height="20.6" fill="#c8b35b"/>
<rect x="1835.8" y="254.8" width="20.6" height="20.6" fill="#c8b35b"/>
<rect x="1856" y="254.8" width="20.6" height="20.6" fill="#918972"/>
<rect x="1876.2" y="254.8" width="20.6" height="20.6" fill="#918972"/>
<rect x="1896.5" y="254.8" width="20.6" height="20.6" fill="#ae9e68"/>
<rect x="1916.8" y="254.8" width="20.6" height="20.6" fill="#ae9e68"/>
<rect x="1694" y="275" width="20.6" height="20.6" fill="#465072"/>
<rect x="1714.2" y="275" width="20.6" height="20.6" fill="#5f6271"/>
<rect x="1734.5" y="275" width="20.6" height="20.6" fill="#7b7873"/>
<rect x="1754.8" y="275" width="20.6" height="20.6" fill="#8b8472"/>
<rect x="1775" y="275" width="20.6" height="20.6" fill="#9c9170"/>
<rect x="1795.2" y="275" width="20.6" height="20.6" fill="#c4af5d"/>
<rect x="1815.5" y="275" width="20.6" height="20.6" fill="#c8b35b"/>
<rect x="1835.8" y="275" width="20.6" height="20.6" fill="#cdb757"/>
<rect x="1856" y="275" width="20.6" height="20.6" fill="#c8b35b"/>
<rect x="1876.2" y="275" width="20.6" height="20.6" fill="#a5976c"/>
<rect x="1896.5" y="275" width="20.6" height="20.6" fill="#a5976c"/>
<rect x="1916.8" y="275" width="20.6" height="20.6" fill="#d2bc53"/>
<rect x="1694" y="295.2" width="20.6" height="20.6" fill="#465072"/>
<rect x="1714.2" y="295.2" width="20.6" height="20.6" fill="#7b7873"/>
<rect x="1734.5" y="295.2" width="20.6" height="20.6" fill="#5b5e71"/>
<rect x="1754.8" y="295.2" width="20.6" height="20.6" fill="#8b8472"/>
<rect x="1775" y="295.2" width="20.6" height="20.6" fill="#9c9170"/>
<rect x="1795.2" y="295.2" width="20.6" height="20.6" fill="#c4af5d"/>
<rect x="1815.5" y="295.2" width="20.6" height="20.6" fill="#c8b35b"/>
<rect x="1835.8" y="295.2" width="20.6" height="20.6" fill="#c8b35b"/>
<rect x="1856" y="295.2" width="20.6" height="20.6" fill="#a5976c"/>
<rect x="1876.2" y="295.2" width="20.6" height="20.6" fill="#c4af5d"/>
<rect x="1896.5" y="295.2" width="20.6" height="20.6" fill="#cdb757"/>
<rect x="1916.8" y="295.2" width="20.6" height="20.6" fill="#a5976c"/>
<rect x="1694" y="315.4" width="20.6" height="20.6" fill="#727072"/>
<rect x="1714.2" y="315.4" width="20.6" height="20.6" fill="#868073"/>
<rect x="1734.5" y="315.4" width="20.6" height="20.6" fill="#767472"/>
<rect x="1754.8" y="315.4" width="20.6" height="20.6" fill="#a5976c"/>
<rect x="1775" y="315.4" width="20.6" height="20.6" fill="#7b7873"/>
<rect x="1795.2" y="315.4" width="20.6" height="20.6" fill="#bfac5f"/>
<rect x="1815.5" y="315.4" width="20.6" height="20.6" fill="#c8b35b"/>
<rect x="1835.8" y="315.4" width="20.6" height="20.6" fill="#c8b35b"/>
<rect x="1856" y="315.4" width="20.6" height="20.6" fill="#a5976c"/>
<rect x="1876.2" y="315.4" width="20.6" height="20.6" fill="#a5976c"/>
<rect x="1896.5" y="315.4" width="20.6" height="20.6" fill="#cdb757"/>
<rect x="1916.8" y="315.4" width="20.6" height="20.6" fill="#bba862"/>
<rect x="1694" y="335.6" width="20.6" height="20.6" fill="#727072"/>
<rect x="1714.2" y="335.6" width="20.6" height="20.6" fill="#767472"/>
<rect x="1734.5" y="335.6" width="20.6" height="20.6" fill="#868073"/>
<rect x="1754.8" y="335.6" width="20.6" height="20.6" fill="#a5976c"/>
<rect x="1775" y="335.6" width="20.6" height="20.6" fill="#7b7873"/>
<rect x="1795.2" y="335.6" width="20.6" height="20.6" fill="#bfac5f"/>
<rect x="1815.5" y="335.6" width="20.6" height="20.6" fill="#c8b35b"/>
<rect x="1835.8" y="335.6" width="20.6" height="20.6" fill="#c8b35b"/>
<rect x="1856" y="335.6" width="20.6" height="20.6" fill="#a5976c"/>
<rect x="1876.2" y="335.6" width="20.6" height="20.6" fill="#a5976c"/>
<rect x="1896.5" y="335.6" width="20.6" height="20.6" fill="#bba862"/>
<rect x="1916.8" y="335.6" width="20.6" height="20.6" fill="#d2bc53"/>
<rect x="1694" y="355.8" width="20.6" height="20.6" fill="#565b72"/>
<rect x="1714.2" y="355.8" width="20.6" height="20.6" fill="#646570"/>
<rect x="1734.5" y="355.8" width="20.6" height="20.6" fill="#646570"/>
<rect x="1754.8" y="355.8" width="20.6" height="20.6" fill="#a5976c"/>
<rect x="1775" y="355.8" width="20.6" height="20.6" fill="#ae9e68"/>
<rect x="1795.2" y="355.8" width="20.6" height="20.6" fill="#f2da3a"/>
<rect x="1815.5" y="355.8" width="20.6" height="20.6" fill="#c8b35b"/>
<rect x="1835.8" y="355.8" width="20.6" height="20.6" fill="#c8b35b"/>
<rect x="1856" y="355.8" width="20.6" height="20.6" fill="#a5976c"/>
<rect x="1876.2" y="355.8" width="20.6" height="20.6" fill="#a5976c"/>
<rect x="1896.5" y="355.8" width="20.6" height="20.6" fill="#b2a166"/>
<rect x="1916.8" y="355.8" width="20.6" height="20.6" fill="#b2a166"/>
<rect x="1694" y="376.1" width="20.6" height="20.6" fill="#525872"/>
<rect x="1714.2" y="376.1" width="20.6" height="20.6" fill="#686870"/>
<rect x="1734.5" y="376.1" width="20.6" height="20.6" fill="#5b5e71"/>
<rect x="1754.8" y="376.1" width="20.6" height="20.6" fill="#918972"/>
<rect x="1775" y="376.1" width="20.6" height="20.6" fill="#767472"/>
<rect x="1795.2" y="376.1" width="20.6" height="20.6" fill="#c8b35b"/>
<rect x="1815.5" y="376.1" width="20.6" height="20.6" fill="#c8b35b"/>
<rect x="1835.8" y="376.1" width="20.6" height="20.6" fill="#c8b35b"/>
<rect x="1856" y="376.1" width="20.6" height="20.6" fill="#918972"/>
<rect x="1876.2" y="376.1" width="20.6" height="20.6" fill="#a5976c"/>
<rect x="1896.5" y="376.1" width="20.6" height="20.6" fill="#b6a564"/>
<rect x="1916.8" y="376.1" width="20.6" height="20.6" fill="#ae9e68"/>
<rect x="1694" y="396.3" width="20.6" height="20.6" fill="#565b72"/>
<rect x="1714.2" y="396.3" width="20.6" height="20.6" fill="#5f6271"/>
<rect x="1734.5" y="396.3" width="20.6" height="20.6" fill="#6d6c71"/>
<rect x="1754.8" y="396.3" width="20.6" height="20.6" fill="#968d71"/>
<rect x="1775" y="396.3" width="20.6" height="20.6" fill="#7b7873"/>
<rect x="1795.2" y="396.3" width="20.6" height="20.6" fill="#c8b35b"/>
<rect x="1815.5" y="396.3" width="20.6" height="20.6" fill="#c8b35b"/>
<rect x="1835.8" y="396.3" width="20.6" height="20.6" fill="#c8b35b"/>
<rect x="1856" y="396.3" width="20.6" height="20.6" fill="#a5976c"/>
<rect x="1876.2" y="396.3" width="20.6" height="20.6" fill="#918972"/>
<rect x="1896.5" y="396.3" width="20.6" height="20.6" fill="#ae9e68"/>
<rect x="1916.8" y="396.3" width="20.6" height="20.6" fill="#bba862"/>
</g>
<rect x="1694.1" y="93.2" width="242.9" height="323.2" fill="none" stroke="#231f20" stroke-width="2.3"/>
<text x="1680" y="113.4" font-size="16.2" text-anchor="end">GCxCG</text>
<text x="1680" y="133.6" font-size="16.2" text-anchor="end">ATxCG</text>
<text x="1680" y="153.7" font-size="16.2" text-anchor="end">GCxTA</text>
<text x="1680" y="173.9" font-size="16.2" text-anchor="end">CGxCG</text>
<text x="1680" y="194.1" font-size="16.2" text-anchor="end">GCxGC</text>
<text x="1680" y="214.2" font-size="16.2" text-anchor="end">TAxAT</text>
<text x="1680" y="234.4" font-size="16.2" text-anchor="end">ATxAT</text>
<text x="1680" y="254.6" font-size="16.2" text-anchor="end">TAxTA</text>
<text x="1680" y="274.8" font-size="16.2" text-anchor="end">CGxGC</text>
<text x="1680" y="294.9" font-size="16.2" text-anchor="end">TAxCG</text>
<text x="1680" y="315.1" font-size="16.2" text-anchor="end">GCxAT</text>
<text x="1680" y="335.3" font-size="16.2" text-anchor="end">CGxAT</text>
<text x="1680" y="355.4" font-size="16.2" text-anchor="end">TAxGC</text>
<text x="1680" y="375.6" font-size="16.2" text-anchor="end">ATxTA</text>
<text x="1680" y="395.8" font-size="16.2" text-anchor="end">ATxGC</text>
<text x="1680" y="416" font-size="16.2" text-anchor="end">CGxTA</text>
<text transform="translate(1715,424.5) rotate(-90)" font-size="16" text-anchor="end">G·G</text>
<text transform="translate(1735.3,424.5) rotate(-90)" font-size="16" text-anchor="end">A·G</text>
<text transform="translate(1755.5,424.5) rotate(-90)" font-size="16" text-anchor="end">G·A</text>
<text transform="translate(1775.7,424.5) rotate(-90)" font-size="16" text-anchor="end">A·A</text>
<text transform="translate(1796,424.5) rotate(-90)" font-size="16" text-anchor="end">T·T</text>
<text transform="translate(1816.2,424.5) rotate(-90)" font-size="16" text-anchor="end">C·C</text>
<text transform="translate(1836.5,424.5) rotate(-90)" font-size="16" text-anchor="end">G·T</text>
<text transform="translate(1856.7,424.5) rotate(-90)" font-size="16" text-anchor="end">T·G</text>
<text transform="translate(1877,424.5) rotate(-90)" font-size="16" text-anchor="end">C·T</text>
<text transform="translate(1897.2,424.5) rotate(-90)" font-size="16" text-anchor="end">T·C</text>
<text transform="translate(1917.4,424.5) rotate(-90)" font-size="16" text-anchor="end">A·C</text>
<text transform="translate(1937.7,424.5) rotate(-90)" font-size="16" text-anchor="end">C·A</text>
<text x="1821" y="74.5" font-size="24" font-style="italic">dna04</text>
<text x="1819" y="484.7">Mismatch</text>
<text transform="translate(1272.5,247) rotate(-90)">Context</text>
<linearGradient id="cb" x1="0" y1="0" x2="0" y2="1"><stop offset="0%" stop-color="#f6de36"/><stop offset="10%" stop-color="#e0c948"/><stop offset="20%" stop-color="#c8b35b"/><stop offset="30%" stop-color="#b2a166"/><stop offset="40%" stop-color="#9c9170"/><stop offset="50%" stop-color="#807c74"/><stop offset="60%" stop-color="#686870"/><stop offset="70%" stop-color="#525872"/><stop offset="80%" stop-color="#3e4a72"/><stop offset="90%" stop-color="#2c4082"/><stop offset="100%" stop-color="#27356a"/></linearGradient>
<rect x="2004.2" y="132.4" width="13" height="239.3" fill="url(#cb)" stroke="#231f20" stroke-width="2"/>
<text x="2049.5" y="139.3" font-size="18.5" text-anchor="end">3</text>
<text x="2049.5" y="187.1" font-size="18.5" text-anchor="end">2</text>
<text x="2049.5" y="234.9" font-size="18.5" text-anchor="end">1</text>
<text x="2049.5" y="282.6" font-size="18.5" text-anchor="end">0</text>
<text x="2049.5" y="330.4" font-size="18.5" text-anchor="end">−1</text>
<text x="2049.5" y="378.2" font-size="18.5" text-anchor="end">−2</text>
<path d="M2017 132.8H2023.5M2017 180.6H2023.5M2017 228.4H2023.5M2017 276.1H2023.5M2017 323.9H2023.5M2017 371.7H2023.5" fill="none" stroke="#231f20" stroke-width="2"/>
<text transform="translate(1989,262) rotate(-90)"><tspan font-family="Liberation Serif">Δ</tspan><tspan font-style="italic">G</tspan>°<tspan dy="5" font-size="11" font-style="italic">37</tspan><tspan dy="-5"> (kcal/mol)</tspan></text>
<text x="4" y="621.5" font-size="72" text-anchor="start" font-weight="bold" fill="#0d1013">d</text>
<text x="511.5" y="615" font-size="32" text-anchor="start" font-weight="bold" fill="#0d1013">On Array Melt test set</text>
<text x="226.2" y="670" font-size="24">All</text>
<text x="507.5" y="670" font-size="24">Watson Crick</text>
<text x="708" y="670" font-size="24">Mismatch</text>
<text x="909.5" y="670" font-size="24">Bulge</text>
<text x="1111.2" y="670" font-size="24">Tetraloop</text>
<text x="1312.5" y="670" font-size="24">Triloop</text>
<path d="M109.5 723.5V905.5H312.5M101.5 735H109.5M101.5 756H109.5M101.5 777H109.5M101.5 798H109.5M101.5 819H109.5M101.5 840H109.5M101.5 861H109.5M101.5 882H109.5M101.5 903H109.5M111.5 905.5V913.5M135 905.5V913.5M158.5 905.5V913.5M182 905.5V913.5M205.5 905.5V913.5M229 905.5V913.5M252.5 905.5V913.5M276 905.5V913.5M299.5 905.5V913.5" fill="none" stroke="#231f20" stroke-width="2" stroke-linecap="butt"/>
<text x="94.5" y="763.6" font-size="20.5" text-anchor="end">4</text>
<text x="94.5" y="805.6" font-size="20.5" text-anchor="end">0</text>
<text x="94.5" y="847.6" font-size="20.5" text-anchor="end">−4</text>
<text x="94.5" y="889.6" font-size="20.5" text-anchor="end">−8</text>
<text x="135" y="933.5" font-size="20.5">−8</text>
<text x="182" y="933.5" font-size="20.5">−4</text>
<text x="229" y="933.5" font-size="20.5">0</text>
<text x="276" y="933.5" font-size="20.5">4</text>
<text x="223" y="705.5" font-style="italic">Adjusted MAE = 0.87 kcal/mol</text>
<text x="225" y="731.8" font-style="italic">R = 0.65, R<tspan dy="-7" font-size="11">2</tspan><tspan dy="7"> = -0.18</tspan></text>
<path d="M109.5 978V1191.2H322.5M103 998.1H109.5M103 1024.2H109.5M103 1050.4H109.5M103 1076.5H109.5M103 1102.6H109.5M103 1128.8H109.5M103 1154.9H109.5M103 1181.1H109.5M119.8 1191.2V1197.8M145.9 1191.2V1197.8M172.1 1191.2V1197.8M198.2 1191.2V1197.8M224.2 1191.2V1197.8M250.3 1191.2V1197.8M276.4 1191.2V1197.8M302.6 1191.2V1197.8" fill="none" stroke="#231f20" stroke-width="2" stroke-linecap="butt"/>
<text x="93.5" y="1003.7" font-size="15" text-anchor="end">6</text>
<text x="93.5" y="1029.8" font-size="15" text-anchor="end">4</text>
<text x="93.5" y="1056" font-size="15" text-anchor="end">2</text>
<text x="93.5" y="1082.1" font-size="15" text-anchor="end">0</text>
<text x="93.5" y="1108.2" font-size="15" text-anchor="end">−2</text>
<text x="93.5" y="1134.4" font-size="15" text-anchor="end">−4</text>
<text x="93.5" y="1160.5" font-size="15" text-anchor="end">−6</text>
<text x="93.5" y="1186.7" font-size="15" text-anchor="end">−8</text>
<text x="119.8" y="1219" font-size="15">−8</text>
<text x="145.9" y="1219" font-size="15">−6</text>
<text x="172.1" y="1219" font-size="15">−4</text>
<text x="198.2" y="1219" font-size="15">−2</text>
<text x="224.2" y="1219" font-size="15">0</text>
<text x="250.3" y="1219" font-size="15">2</text>
<text x="276.4" y="1219" font-size="15">4</text>
<text x="302.6" y="1219" font-size="15">6</text>
<text x="225" y="989.5" font-style="italic">MAE = 0.59 kcal/mol</text>
<text x="222" y="1015.5" font-style="italic">R = 0.80, R<tspan dy="-7" font-size="11">2</tspan><tspan dy="7"> = 0.44</tspan></text>
<path d="M109.5 1292.5V1473.2H320M101.5 1293.8H109.5M101.5 1328H109.5M101.5 1362.2H109.5M101.5 1396.5H109.5M101.5 1430.7H109.5M101.5 1465H109.5M118.9 1473.2V1481.2M158.6 1473.2V1481.2M198.3 1473.2V1481.2M238 1473.2V1481.2M277.7 1473.2V1481.2M317.4 1473.2V1481.2" fill="none" stroke="#231f20" stroke-width="2" stroke-linecap="butt"/>
<text x="94.5" y="1301.4" font-size="20.5" text-anchor="end">4</text>
<text x="94.5" y="1335.6" font-size="20.5" text-anchor="end">2</text>
<text x="94.5" y="1369.8" font-size="20.5" text-anchor="end">0</text>
<text x="94.5" y="1404.1" font-size="20.5" text-anchor="end">−2</text>
<text x="94.5" y="1438.3" font-size="20.5" text-anchor="end">−4</text>
<text x="94.5" y="1472.6" font-size="20.5" text-anchor="end">−6</text>
<text x="118.9" y="1502" font-size="20.5">−6</text>
<text x="158.6" y="1502" font-size="20.5">−4</text>
<text x="198.3" y="1502" font-size="20.5">−2</text>
<text x="238" y="1502" font-size="20.5">0</text>
<text x="277.7" y="1502" font-size="20.5">2</text>
<text x="317.4" y="1502" font-size="20.5">4</text>
<text x="228" y="1273.8" font-style="italic">MAE = 0.34 kcal/mol</text>
<text x="228" y="1300" font-style="italic">R = 0.90, R<tspan dy="-7" font-size="11">2</tspan><tspan dy="7"> = 0.81</tspan></text>
<text transform="translate(57,1108) rotate(-90)">Predicted <tspan font-family="Liberation Serif">Δ</tspan><tspan font-style="italic">G</tspan>°<tspan dy="5" font-size="11" font-style="italic">37</tspan><tspan dy="-5"> (kcal/mol)</tspan></text>
<text x="206.2" y="1538.8"><tspan font-family="Liberation Serif">Δ</tspan><tspan font-style="italic">G</tspan>°<tspan dy="6" font-size="12" font-style="normal">37</tspan><tspan dy="-6"> (kcal/mol)</tspan></text>
<text x="912" y="1538.8">Measured <tspan font-family="Liberation Serif">Δ</tspan>G<tspan dy="6" font-size="12" font-style="normal">37</tspan><tspan dy="-6"> (kcal/mol)</tspan></text>
<path d="M415 729.5V905.5H583M407 737.8H415M407 767.5H415M407 797.2H415M407 827H415M407 856.7H415M407 886.5H415M432.8 905.5V913.5M461.1 905.5V913.5M489.4 905.5V913.5M517.7 905.5V913.5M546 905.5V913.5M574.3 905.5V913.5" fill="none" stroke="#231f20" stroke-width="2" stroke-linecap="butt"/>
<text x="400" y="745.4" font-size="20.5" text-anchor="end">2</text>
<text x="400" y="775.1" font-size="20.5" text-anchor="end">0</text>
<text x="400" y="804.8" font-size="20.5" text-anchor="end">−2</text>
<text x="400" y="834.6" font-size="20.5" text-anchor="end">−4</text>
<text x="400" y="864.3" font-size="20.5" text-anchor="end">−6</text>
<text x="400" y="894.1" font-size="20.5" text-anchor="end">−8</text>
<text x="432.8" y="933.5" font-size="20.5">−8</text>
<text x="461.1" y="933.5" font-size="20.5">−6</text>
<text x="489.4" y="933.5" font-size="20.5">−4</text>
<text x="517.7" y="933.5" font-size="20.5">−2</text>
<text x="546" y="933.5" font-size="20.5">0</text>
<text x="574.3" y="933.5" font-size="20.5">2</text>
<text x="500.5" y="710.8" font-style="italic">MAE = 0.50</text>
<text x="500.5" y="731.8" font-style="italic">R = 0.86</text>
<text x="500.5" y="753" font-style="italic">R<tspan dy="-7" font-size="11">2</tspan><tspan dy="7">= 0.66</tspan></text>
<path d="M615.8 729.5V905.5H783.8M607.8 736.1H615.8M607.8 760.4H615.8M607.8 784.7H615.8M607.8 809H615.8M607.8 833.3H615.8M607.8 857.6H615.8M607.8 881.9H615.8M637.2 905.5V913.5M660.6 905.5V913.5M683.9 905.5V913.5M707.2 905.5V913.5M730.6 905.5V913.5M753.9 905.5V913.5M777.3 905.5V913.5" fill="none" stroke="#231f20" stroke-width="2" stroke-linecap="butt"/>
<text x="601.2" y="743.7" font-size="20.5" text-anchor="end">6</text>
<text x="601.2" y="768" font-size="20.5" text-anchor="end">4</text>
<text x="601.2" y="792.3" font-size="20.5" text-anchor="end">2</text>
<text x="601.2" y="816.6" font-size="20.5" text-anchor="end">0</text>
<text x="601.2" y="840.9" font-size="20.5" text-anchor="end">−2</text>
<text x="601.2" y="865.2" font-size="20.5" text-anchor="end">−4</text>
<text x="601.2" y="889.5" font-size="20.5" text-anchor="end">−6</text>
<text x="637.2" y="933.5" font-size="20.5">−6</text>
<text x="660.6" y="933.5" font-size="20.5">−4</text>
<text x="683.9" y="933.5" font-size="20.5">−2</text>
<text x="707.2" y="933.5" font-size="20.5">0</text>
<text x="730.6" y="933.5" font-size="20.5">2</text>
<text x="753.9" y="933.5" font-size="20.5">4</text>
<text x="777.3" y="933.5" font-size="20.5">6</text>
<text x="701.2" y="710.8" font-style="italic">MAE = 1.09</text>
<text x="701.2" y="731.8" font-style="italic">R = 0.52</text>
<text x="701.2" y="753" font-style="italic">R<tspan dy="-7" font-size="11">2</tspan><tspan dy="7">= -0.87</tspan></text>
<path d="M817 729.5V905.5H985M809 766H817M809 805.2H817M809 844.5H817M809 883.6H817M837.6 905.5V913.5M874.8 905.5V913.5M912 905.5V913.5M949.2 905.5V913.5" fill="none" stroke="#231f20" stroke-width="2" stroke-linecap="butt"/>
<text x="801" y="773.6" font-size="20.5" text-anchor="end">2</text>
<text x="801" y="812.9" font-size="20.5" text-anchor="end">0</text>
<text x="801" y="852.1" font-size="20.5" text-anchor="end">−2</text>
<text x="801" y="891.2" font-size="20.5" text-anchor="end">−4</text>
<text x="837.6" y="933.5" font-size="20.5">−4</text>
<text x="874.8" y="933.5" font-size="20.5">−2</text>
<text x="912" y="933.5" font-size="20.5">0</text>
<text x="949.2" y="933.5" font-size="20.5">2</text>
<text x="905" y="710.8" font-style="italic">MAE = 0.75</text>
<text x="905" y="731.8" font-style="italic">R = 0.48</text>
<text x="905" y="753" font-style="italic">R<tspan dy="-7" font-size="11">2</tspan><tspan dy="7">= -1.05</tspan></text>
<path d="M1017.8 729.5V905.5H1185M1009.8 730.5H1017.8M1009.8 767.8H1017.8M1009.8 805H1017.8M1009.8 842.3H1017.8M1009.8 879.5H1017.8M1042 905.5V913.5M1077.5 905.5V913.5M1113 905.5V913.5M1148.5 905.5V913.5M1184 905.5V913.5" fill="none" stroke="#231f20" stroke-width="2" stroke-linecap="butt"/>
<text x="1002" y="738.1" font-size="20.5" text-anchor="end">2</text>
<text x="1002" y="775.4" font-size="20.5" text-anchor="end">0</text>
<text x="1002" y="812.6" font-size="20.5" text-anchor="end">−2</text>
<text x="1002" y="849.9" font-size="20.5" text-anchor="end">−4</text>
<text x="1002" y="887.1" font-size="20.5" text-anchor="end">−6</text>
<text x="1042" y="933.5" font-size="20.5">−6</text>
<text x="1077.5" y="933.5" font-size="20.5">−4</text>
<text x="1113" y="933.5" font-size="20.5">−2</text>
<text x="1148.5" y="933.5" font-size="20.5">0</text>
<text x="1184" y="933.5" font-size="20.5">2</text>
<text x="1104.2" y="710.8" font-style="italic">MAE = 0.54</text>
<text x="1104.2" y="731.8" font-style="italic">R = 0.68</text>
<text x="1104.2" y="753" font-style="italic">R<tspan dy="-7" font-size="11">2</tspan><tspan dy="7">= 0.35</tspan></text>
<path d="M1218.8 729.5V905.5H1386.5M1210.8 758.2H1218.8M1210.8 804.3H1218.8M1210.8 850.4H1218.8M1210.8 896.5H1218.8M1227 905.5V913.5M1270.9 905.5V913.5M1314.8 905.5V913.5M1358.8 905.5V913.5" fill="none" stroke="#231f20" stroke-width="2" stroke-linecap="butt"/>
<text x="1203" y="765.9" font-size="20.5" text-anchor="end">0</text>
<text x="1203" y="811.9" font-size="20.5" text-anchor="end">−2</text>
<text x="1203" y="858" font-size="20.5" text-anchor="end">−4</text>
<text x="1203" y="904.1" font-size="20.5" text-anchor="end">−6</text>
<text x="1227" y="933.5" font-size="20.5">−6</text>
<text x="1270.9" y="933.5" font-size="20.5">−4</text>
<text x="1314.8" y="933.5" font-size="20.5">−2</text>
<text x="1358.8" y="933.5" font-size="20.5">0</text>
<text x="1304.2" y="710.8" font-style="italic">MAE = 0.48</text>
<text x="1304.2" y="731.8" font-style="italic">R = 0.58</text>
<text x="1304.2" y="753" font-style="italic">R<tspan dy="-7" font-size="11">2</tspan><tspan dy="7">= 0.02</tspan></text>
<path d="M415 1030V1191.5H577M407.5 1042.8H415M407.5 1067H415M407.5 1091.2H415M407.5 1115.5H415M407.5 1139.8H415M407.5 1164H415M407.5 1188.2H415M418.1 1191.5V1199M442.4 1191.5V1199M466.7 1191.5V1199M491 1191.5V1199M515.2 1191.5V1199M539.5 1191.5V1199M563.8 1191.5V1199" fill="none" stroke="#231f20" stroke-width="2" stroke-linecap="butt"/>
<text x="392.5" y="1050.3" font-size="20.5" text-anchor="end">4</text>
<text x="392.5" y="1074.6" font-size="20.5" text-anchor="end">2</text>
<text x="392.5" y="1098.8" font-size="20.5" text-anchor="end">0</text>
<text x="392.5" y="1123.1" font-size="20.5" text-anchor="end">−2</text>
<text x="392.5" y="1147.3" font-size="20.5" text-anchor="end">−4</text>
<text x="392.5" y="1171.6" font-size="20.5" text-anchor="end">−6</text>
<text x="392.5" y="1195.8" font-size="20.5" text-anchor="end">−8</text>
<text x="418.1" y="1227.5" font-size="20.5">−8</text>
<text x="442.4" y="1227.5" font-size="20.5">−6</text>
<text x="466.7" y="1227.5" font-size="20.5">−4</text>
<text x="491" y="1227.5" font-size="20.5">−2</text>
<text x="515.2" y="1227.5" font-size="20.5">0</text>
<text x="539.5" y="1227.5" font-size="20.5">2</text>
<text x="563.8" y="1227.5" font-size="20.5">4</text>
<text x="500.5" y="997.5" font-style="italic">MAE = 0.47</text>
<text x="500.5" y="1018.8" font-style="italic">R = 0.89</text>
<text x="500.5" y="1040" font-style="italic">R<tspan dy="-7" font-size="11">2</tspan><tspan dy="7">= 0.74</tspan></text>
<path d="M615.8 1030V1191.5H777.5M608.2 1036.2H615.8M608.2 1059.1H615.8M608.2 1081.9H615.8M608.2 1104.8H615.8M608.2 1127.6H615.8M608.2 1150.4H615.8M608.2 1173.3H615.8M633.4 1191.5V1199M656.4 1191.5V1199M679.5 1191.5V1199M702.5 1191.5V1199M725.5 1191.5V1199M748.6 1191.5V1199M771.6 1191.5V1199" fill="none" stroke="#231f20" stroke-width="2" stroke-linecap="butt"/>
<text x="592.5" y="1043.8" font-size="20.5" text-anchor="end">6</text>
<text x="592.5" y="1066.7" font-size="20.5" text-anchor="end">4</text>
<text x="592.5" y="1089.5" font-size="20.5" text-anchor="end">2</text>
<text x="592.5" y="1112.3" font-size="20.5" text-anchor="end">0</text>
<text x="592.5" y="1135.2" font-size="20.5" text-anchor="end">−2</text>
<text x="592.5" y="1158" font-size="20.5" text-anchor="end">−4</text>
<text x="592.5" y="1180.9" font-size="20.5" text-anchor="end">−6</text>
<text x="633.4" y="1227.5" font-size="20.5">−6</text>
<text x="656.4" y="1227.5" font-size="20.5">−4</text>
<text x="679.5" y="1227.5" font-size="20.5">−2</text>
<text x="702.5" y="1227.5" font-size="20.5">0</text>
<text x="725.5" y="1227.5" font-size="20.5">2</text>
<text x="748.6" y="1227.5" font-size="20.5">4</text>
<text x="771.6" y="1227.5" font-size="20.5">6</text>
<text x="701.2" y="993" font-style="italic">MAE = 0.61</text>
<text x="701.2" y="1014.5" font-style="italic">R = 0.84</text>
<text x="701.2" y="1035.5" font-style="italic">R<tspan dy="-7" font-size="11">2</tspan><tspan dy="7">= 0.34</tspan></text>
<path d="M817 1030V1191.5H978.8M809.5 1033.8H817M809.5 1067.9H817M809.5 1102H817M809.5 1136.1H817M809.5 1170.2H817M838.4 1191.5V1199M872.3 1191.5V1199M906.2 1191.5V1199M940.2 1191.5V1199M974.1 1191.5V1199" fill="none" stroke="#231f20" stroke-width="2" stroke-linecap="butt"/>
<text x="793" y="1041.4" font-size="20.5" text-anchor="end">4</text>
<text x="793" y="1075.5" font-size="20.5" text-anchor="end">2</text>
<text x="793" y="1109.6" font-size="20.5" text-anchor="end">0</text>
<text x="793" y="1143.7" font-size="20.5" text-anchor="end">−2</text>
<text x="793" y="1177.8" font-size="20.5" text-anchor="end">−4</text>
<text x="838.4" y="1227.5" font-size="20.5">−4</text>
<text x="872.3" y="1227.5" font-size="20.5">−2</text>
<text x="906.2" y="1227.5" font-size="20.5">0</text>
<text x="940.2" y="1227.5" font-size="20.5">2</text>
<text x="974.1" y="1227.5" font-size="20.5">4</text>
<text x="905" y="993" font-style="italic">MAE = 0.69</text>
<text x="905" y="1014.5" font-style="italic">R = 0.51</text>
<text x="905" y="1035.5" font-style="italic">R<tspan dy="-7" font-size="11">2</tspan><tspan dy="7">= -0.66</tspan></text>
<path d="M1017.8 1030V1191.5H1179.5M1010.2 1038.3H1017.8M1010.2 1073.8H1017.8M1010.2 1109.2H1017.8M1010.2 1144.6H1017.8M1010.2 1180.1H1017.8M1028.4 1191.5V1199M1063.9 1191.5V1199M1099.3 1191.5V1199M1134.8 1191.5V1199M1170.2 1191.5V1199" fill="none" stroke="#231f20" stroke-width="2" stroke-linecap="butt"/>
<text x="993.8" y="1045.9" font-size="20.5" text-anchor="end">2</text>
<text x="993.8" y="1081.3" font-size="20.5" text-anchor="end">0</text>
<text x="993.8" y="1116.8" font-size="20.5" text-anchor="end">−2</text>
<text x="993.8" y="1152.2" font-size="20.5" text-anchor="end">−4</text>
<text x="993.8" y="1187.7" font-size="20.5" text-anchor="end">−6</text>
<text x="1028.4" y="1227.5" font-size="20.5">−6</text>
<text x="1063.9" y="1227.5" font-size="20.5">−4</text>
<text x="1099.3" y="1227.5" font-size="20.5">−2</text>
<text x="1134.8" y="1227.5" font-size="20.5">0</text>
<text x="1170.2" y="1227.5" font-size="20.5">2</text>
<text x="1104.2" y="993" font-style="italic">MAE = 0.40</text>
<text x="1104.2" y="1014.5" font-style="italic">R = 0.84</text>
<text x="1104.2" y="1035.5" font-style="italic">R<tspan dy="-7" font-size="11">2</tspan><tspan dy="7">= 0.62</tspan></text>
<path d="M1218.8 1030V1191.5H1380.5M1211.2 1040.8H1218.8M1211.2 1078.5H1218.8M1211.2 1116.2H1218.8M1211.2 1154H1218.8M1255.7 1191.5V1199M1293.5 1191.5V1199M1331.2 1191.5V1199M1369 1191.5V1199" fill="none" stroke="#231f20" stroke-width="2" stroke-linecap="butt"/>
<text x="1195" y="1048.3" font-size="20.5" text-anchor="end">2</text>
<text x="1195" y="1086.1" font-size="20.5" text-anchor="end">0</text>
<text x="1195" y="1123.8" font-size="20.5" text-anchor="end">−2</text>
<text x="1195" y="1161.6" font-size="20.5" text-anchor="end">−4</text>
<text x="1255.7" y="1227.5" font-size="20.5">−4</text>
<text x="1293.5" y="1227.5" font-size="20.5">−2</text>
<text x="1331.2" y="1227.5" font-size="20.5">0</text>
<text x="1369" y="1227.5" font-size="20.5">2</text>
<text x="1304.2" y="993" font-style="italic">MAE = 0.36</text>
<text x="1304.2" y="1014.5" font-style="italic">R = 0.75</text>
<text x="1304.2" y="1035.5" font-style="italic">R<tspan dy="-7" font-size="11">2</tspan><tspan dy="7">= 0.42</tspan></text>
<path d="M415 1297.5V1473.2H582.5M407 1340.5H415M407 1389.4H415M407 1438.3H415M447.4 1473.2V1481.2M494.2 1473.2V1481.2M541 1473.2V1481.2" fill="none" stroke="#231f20" stroke-width="2" stroke-linecap="butt"/>
<text x="398.8" y="1348.1" font-size="20.5" text-anchor="end">0</text>
<text x="398.8" y="1397" font-size="20.5" text-anchor="end">−2</text>
<text x="398.8" y="1445.9" font-size="20.5" text-anchor="end">−4</text>
<text x="447.4" y="1502" font-size="20.5">−4</text>
<text x="494.2" y="1502" font-size="20.5">−2</text>
<text x="541" y="1502" font-size="20.5">0</text>
<text x="500.5" y="1283.8" font-style="italic">MAE = 0.31</text>
<text x="500.5" y="1304.5" font-style="italic">R = 0.95</text>
<text x="500.5" y="1325.8" font-style="italic">R<tspan dy="-7" font-size="11">2</tspan><tspan dy="7">= 0.89</tspan></text>
<path d="M615.8 1297.5V1473.2H783.8M607.8 1331.8H615.8M607.8 1366.8H615.8M607.8 1401.8H615.8M607.8 1436.8H615.8M607.8 1471.8H615.8M616.5 1473.2V1481.2M650 1473.2V1481.2M683.5 1473.2V1481.2M717 1473.2V1481.2M750.5 1473.2V1481.2" fill="none" stroke="#231f20" stroke-width="2" stroke-linecap="butt"/>
<text x="601" y="1339.3" font-size="20.5" text-anchor="end">2</text>
<text x="601" y="1374.3" font-size="20.5" text-anchor="end">0</text>
<text x="601" y="1409.3" font-size="20.5" text-anchor="end">−2</text>
<text x="601" y="1444.3" font-size="20.5" text-anchor="end">−4</text>
<text x="601" y="1479.3" font-size="20.5" text-anchor="end">−6</text>
<text x="616.5" y="1502" font-size="20.5">−6</text>
<text x="650" y="1502" font-size="20.5">−4</text>
<text x="683.5" y="1502" font-size="20.5">−2</text>
<text x="717" y="1502" font-size="20.5">0</text>
<text x="750.5" y="1502" font-size="20.5">2</text>
<text x="701.2" y="1283.8" font-style="italic">MAE = 0.41</text>
<text x="701.2" y="1304.5" font-style="italic">R = 0.85</text>
<text x="701.2" y="1325.8" font-style="italic">R<tspan dy="-7" font-size="11">2</tspan><tspan dy="7">= 0.72</tspan></text>
<path d="M817 1297.5V1473.2H983.8M809 1308.7H817M809 1360H817M809 1411.3H817M809 1462.6H817M826.4 1473.2V1481.2M875.2 1473.2V1481.2M924 1473.2V1481.2M972.8 1473.2V1481.2" fill="none" stroke="#231f20" stroke-width="2" stroke-linecap="butt"/>
<text x="801" y="1316.3" font-size="20.5" text-anchor="end">2</text>
<text x="801" y="1367.6" font-size="20.5" text-anchor="end">0</text>
<text x="801" y="1418.9" font-size="20.5" text-anchor="end">−2</text>
<text x="801" y="1470.2" font-size="20.5" text-anchor="end">−4</text>
<text x="826.4" y="1502" font-size="20.5">−4</text>
<text x="875.2" y="1502" font-size="20.5">−2</text>
<text x="924" y="1502" font-size="20.5">0</text>
<text x="972.8" y="1502" font-size="20.5">2</text>
<text x="905" y="1283.8" font-style="italic">MAE = 0.32</text>
<text x="905" y="1304.5" font-style="italic">R = 0.79</text>
<text x="905" y="1325.8" font-style="italic">R<tspan dy="-7" font-size="11">2</tspan><tspan dy="7">= 0.60</tspan></text>
<path d="M1017.8 1297.5V1473.2H1185M1009.8 1337.5H1017.8M1009.8 1382.2H1017.8M1009.8 1427H1017.8M1009.8 1471.8H1017.8M1018.6 1473.2V1481.2M1061.3 1473.2V1481.2M1104 1473.2V1481.2M1146.8 1473.2V1481.2" fill="none" stroke="#231f20" stroke-width="2" stroke-linecap="butt"/>
<text x="1002" y="1345.1" font-size="20.5" text-anchor="end">0</text>
<text x="1002" y="1389.8" font-size="20.5" text-anchor="end">−2</text>
<text x="1002" y="1434.6" font-size="20.5" text-anchor="end">−4</text>
<text x="1002" y="1479.3" font-size="20.5" text-anchor="end">−6</text>
<text x="1018.6" y="1502" font-size="20.5">−6</text>
<text x="1061.3" y="1502" font-size="20.5">−4</text>
<text x="1104" y="1502" font-size="20.5">−2</text>
<text x="1146.8" y="1502" font-size="20.5">0</text>
<text x="1104.2" y="1283.8" font-style="italic">MAE = 0.27</text>
<text x="1104.2" y="1304.5" font-style="italic">R = 0.92</text>
<text x="1104.2" y="1325.8" font-style="italic">R<tspan dy="-7" font-size="11">2</tspan><tspan dy="7">= 0.85</tspan></text>
<path d="M1218.8 1297.5V1473.2H1386.5M1210.8 1325.5H1218.8M1210.8 1400.2H1218.8M1287.5 1473.2V1481.2M1359 1473.2V1481.2" fill="none" stroke="#231f20" stroke-width="2" stroke-linecap="butt"/>
<text x="1203" y="1333.1" font-size="20.5" text-anchor="end">0</text>
<text x="1203" y="1407.8" font-size="20.5" text-anchor="end">−2</text>
<text x="1287.5" y="1502" font-size="20.5">−2</text>
<text x="1359" y="1502" font-size="20.5">0</text>
<text x="1304.2" y="1283.8" font-style="italic">MAE = 0.23</text>
<text x="1304.2" y="1304.5" font-style="italic">R = 0.88</text>
<text x="1304.2" y="1325.8" font-style="italic">R<tspan dy="-7" font-size="11">2</tspan><tspan dy="7">= 0.77</tspan></text>
<path d="M226.5 818.8 230.5 806.5 219 818.9 199 821.3 198.2 815.4 224.1 784.7 219.3 820.5 225.1 798.1 214.2 829.8 202.7 819.8 229.3 817.5 209.8 845.4 223.5 800.7 202.8 805.1 191.4 857.1 196.9 816.9 213 780.5 231.5 778.3 192 849.6 214.9 806.7 200.5 806.2 226.7 825.5 206.1 794.8 228.7 763.5 202.7 828.7 192.6 823 224.1 774.4 208.8 825.3 206.9 811.6 232.8 801.6 196.1 830.8 201.5 842.1 216.3 814.8 173.2 825.5 229.7 793 215.2 824.7 204.9 812.3 224.8 827.4 211.9 818.7 225 796.5 230.1 763.1 214.9 812.5 206.7 814.7 203.1 810.6 192.7 834.8 228.9 817.4 225.3 795.7 200.8 855.6 203.6 835.6 198 799.6 222.8 788 198.3 815.6 196.6 807 213.1 799.2 216.3 801 211.3 802.1 211.1 807.3 215.5 843.6 223.1 819.7 214.8 815.9 203.7 843 226 817.8 220 815.4 195 817.9 193.5 854.3 223.4 833.6 221.2 780.9 203.4 834.5 225.4 795.1 217.4 806.2 221.3 799.6 224 798.5 217.1 818.3 217 778.5 219.6 808.3 206.6 817.4 227.5 785.3 230.9 797.1 211 811.4 199.3 835.4 219.8 836.1 198.8 823 210.9 825 201.9 843.6 214.3 814.3 191.1 856.5 216 813.5 216 828.4 220.4 818 229.5 769.6 195 811.9 197.6 812.5 220.3 820.8 195 832.4 195.1 846.5 209.6 834.7 229.1 766.5 217.1 807 226.6 807.6 216.9 788.4 236.3 798.1 230.2 801.7 230.9 811.1 230.4 827.1 212.5 800.5 209.2 796.7 206 817.1 230.3 798 204.5 818.7 207.7 837.3 194.9 818.4 202.3 820.2 215.5 836 237 802.6 229.2 774.5 206.1 821.5 186.1 865.7 200.4 836.9 213.7 806.6 194.3 814.5 192.3 807.2 197.8 820 206.8 827.2 219.1 825.2 226.5 800.9 194.4 829.8 238.8 813.5 233.9 798.5 197.3 856.8 219.9 839.1 191.2 822.4 199.9 825.9 212 802.5 217.9 840.3 197.4 840.6 191.6 842.3 193.6 812.7 227.7 815.5 226 777.9 200.3 852.8 216.3 796.1 230.7 802.1 231.1 810.4 206.8 801.7 212.9 821.9 194 827.3 195.1 828.2 206.1 804.6 222.6 789.6 200.6 829.5 204.8 835.5 237.1 785.1 213.4 801.4 225.1 806.3 194.1 818.4 209.6 817.5 190.2 810.7 227.4 800.6 191.4 822.5 192 862.4 193.6 846.5 202 816.9 208.8 841.9 227.7 812.2 201.8 825.1 223.8 784.6 209.4 839.4 195.2 826.3 219.1 802.5 227.4 792.5 193.6 818.5 202.1 807.8 198 806.5 226 784.3 187.1 821.6 212 839.6 228.7 811.9 219.3 774.3 201.5 819.2 214.9 800.7 227 777.5 230.8 829.3 226.3 811.5 190.2 825.2 203 781.8 187.1 863.7 211.6 810.3 202.6 818.8 213.2 790.8 219.1 808.2 193.7 820.7 201.6 812.2 192 840.5 198.6 851.6 197.8 813 212.5 822.8 202.3 825.4 214.9 833.9 213.3 821.4 228.5 781.3 226.1 800.9 226.9 802 219.5 768.2 179.5 821.8 236.7 808.8 218 779 224.8 783.4 229 792.6 193.3 849.8 188.6 833.6 211.1 799.2 215.3 778.6 214 799.3 197.4 824 211.3 826.3 189.1 872.4 219.8 828.6 227.2 789.9 209 799.1 230.4 765.2 218.1 789.6 232.1 799.2 194.8 825.6 202.7 813.2 208 803.5 191.5 827.8 215.2 817.3 226.6 790.6 217.6 827.5 185.8 852.9 198 830.8 206 795.8 190.1 849.2 220.9 830.5 228.4 793.7 226.1 784.7 182.2 868.8 187.1 823 220.6 799 204.6 817.4 224.2 787.8 222.1 792.6 233.1 802 214.2 816.6 221.1 782.2 189.8 843.5 209.2 819.3 192.2 850.3 228.4 818.4 230.6 782.1 236.5 810.5 221.8 783.9 219.7 827 215 820.7 200.9 826.4 215.9 805.9 195.7 818.1 193.3 841.4 183.5 860 204.3 830.8 177.2 834.8 199.1 830.7 207.4 836.6 199.9 809.2 230.9 771.6 229.1 806.3 208.9 832.4 210.1 829.4 232.8 808.4 228.6 814.2 214.3 813 217.8 827.5 221.5 823.9 218.9 814.3 215.8 779.7 209.3 798.1 212.6 837.7 227.2 790.4 185.8 865.4 221.6 775.2 223.2 806.1 213.3 832.4 204.5 846.9 224.5 782.2 191.2 836.5 195.6 842.7 195.6 821 223.5 816.8 219.9 828.1 188.8 820.9 212.8 806.3 186.6 871.3 208 850 189 843.5 222.2 779.5 213.1 846.1 211.3 816.3 231.6 774 206.2 839.5 217.1 791.1 216.4 816 208 818.8 213.8 826.6 215 807.1 233.2 775.9 198.9 848.5 198.5 829.6 200.3 847.7 217.8 841.5 213.4 838.6 211.5 811.9 198 832.8 193.6 844.4 199.1 829.5 220.8 805.5 226 808.2 200.2 853.6 189.1 848 220 827 186.8 866.2 196.6 808.9 207 811.4 233 786.9 222.3 803.2 229.5 814.1 220.8 781.6 223.8 825.7 226.9 788.8 210.3 844.3 188.4 859.3 228.9 801.5 215.8 821.4 216.7 834.5 205.1 802.1 226.1 779.8 213.9 827.5 208 831 196.1 852 199.6 853.1 230 779 211.9 816 234.2 802 188.6 832.7 203.7 843.2 222.5 798.7 208.4 844 205.6 825.7 218 842.1 216.4 805.2 195.7 817.6 212.4 810.3 204.4 817.9 196.3 806.7 197.3 850.5 199.6 842.5 225 784.7 221.9 812.1 220.9 814.6 199.2 849.3 207.9 812.1 201.8 825.3 215.3 803.9 197.9 832.1 214 801.4 219.4 835.1 226.1 812.3 221.6 801.8 193.5 856.4 214.2 830.3 206.6 840.9 201.3 817 220.8 809.2 231.5 799.1 227.9 810.8 214.3 828.5 205.9 816 222.7 790.9 224.3 800.1 227.3 803.7 189.9 845.8 211.1 809.9 222.7 777.7 232.3 810.8 233 793.3 222.4 772 202 820.9 198.1 819.4 236.5 801.3 226.2 762.3 211.6 821.1 192.6 848.1 192.9 827.6 227.7 781.4 203.6 808.5 213.9 837.2 203.2 818.3 216.5 805.2 212.3 851.1 198.9 815 199.9 851.6 200.7 852.2 196 813.6 192.1 828.8 197.3 824 191.9 818.1 223.2 808.7 223.3 815.3 229.1 804.3 217.9 827.6 216.7 825.2 230.3 814.8 187.3 848.4 222 835.4 196.2 836.6 204.3 817.4 201 821.8 197.3 819.2 190.1 854.4 223.1 819.3 220 841.2 207.5 812.4 207.5 811.9 223.2 780.6 224.3 818.3 217.8 798.6 218 795.6 219.5 799.4 195.2 832.6 215.6 816.4 203 809.8 203 844.1 192.4 842.5 206.1 816.7 206.3 823.6 228.6 785.8 233.5 776.7 204.8 807.6 201.9 824.7 216.1 811.2 201.3 808.9 214 798.1 226.9 787.3 208.7 827.1 194.6 819.1 200.8 849.7 233.3 781.6 195 814.2 217.1 832.3 220.7 822.5 208.6 834.8 221.1 808.7 214.2 794.6 192 806.8 189.9 854.8 214.4 818.7 217.1 798.7 211.1 825.5 231.7 821 229.8 786.9 218.8 828.9 212.8 832.8 214.2 799.7 200 804.6 188.3 868.3 216.5 788.1 192.3 807.4 230.8 812.3 208.4 816.9 226.1 804.6 199.9 805.8 223.4 790 221.2 781.1 195.3 837.4 218.7 831.1 198.9 832.9 203 826.8 209.1 808.4 203.3 823 200.1 834.7 196.7 846 212.5 831.4 204.1 848.8 212.3 797.6 200.5 818.3 206.2 824 200.3 824.7 214 811.3 189.7 856.3 222.8 778.4 232.3 808.6 235.2 767.4 220 798.5 226.5 810.4 188.1 869.3 207.6 792.3 230.2 775.4 233.5 804 208 830.5 209.7 842.1 219.6 839.9 185.5 826.5 219.1 819.4 202.7 838.6 213.8 822 213.9 801.2 192.1 861.2 216.3 813 189.9 847.2 196.4 817.1 198.3 821.9 197 837.8 213.9 809.3 209.7 803.4 217 835 201.1 814.4 193.7 848.2 236.1 767.6 195.5 848.8 212.7 816.9 221 780 224.4 807.2 187.9 818.6 195.9 802.3 206.1 842.1 218.2 840.9 213.6 828.2 216.1 832.8 188.7 832.6 221.8 813.3 212.6 837.9 208.1 812.4 229.6 810.8 224.3 786.8 227.5 802.7 197.1 809.2 225.8 767.2 203 854.3 212 803.2 198.3 813.9 195.6 825.1 233.9 770.9 230.9 811.3 198 804.4 232.1 804.4 186 832.5 204.7 842.8 208.2 842.8 195.3 808.4 206.5 823.3 211.2 805.2 188.4 872.9 229.6 822.1 219.7 782.9 209.9 805 201.4 831.2 208.4 819.8 213.7 793.4 226.8 820.8 193 847.7 209.6 805.7 200.5 820.5 192.7 855.7 197.9 822.6 226.8 811.3 220.2 788 193.7 859.7 208.4 825.5 196.3 857.5 218.6 782.6 215.7 799.8 228.2 786.7 225.1 797.2 201.3 811.4 221.2 817 197.6 812.9 193.6 834.9 211.1 820.9 222.6 796.8 211.6 808.1 226.7 823.7 201.7 824.8 219.1 811.1 217 822.4 200.2 811.4 196 836.1 212.8 810.6 201.7 829.4 208.4 822.1 186.2 845.1 201.6 842.6 215.9 842.9 226.8 777 208.8 809.2 217.9 772.6 229.3 777.9 225.2 788.2 218.1 832.5 223.2 806.4 211.4 849.4 231.7 809 221.1 793.8 209.3 838.7 223.5 801.9 222.1 785.6 228.2 775.7 204.5 820.7 230.9 804.9 203.2 810 205.4 816.5 212 815.8 217.1 837.1 210.3 836.6 224.4 777.9 217.3 799.2 189.6 829.7 190.4 827.4 220.2 830.2 221.2 798 189 847.9 193.8 874.8 194.7 853.1 205.9 833.9 224.7 814.2 210.1 827.7 205.9 846.1 197.6 820.5 207.9 818.3 224 799.7 211.4 829.5 208.8 846.1 226.6 778.3 198.3 844.2 216.1 792.1 222.5 821.5 208.2 840.9 232.1 783 222.4 802.1 210.2 809.3 202.2 819.3 219 825.8 214.6 798.2 196.1 821.3 206.3 816.5 218.1 823.8 217.6 798.1 191.6 820.6 218.2 800.4 199.5 822.5 222.3 786.3 205.9 802 198.5 848.2 222.5 821.5 190.8 838.5 221.1 818.9 197.9 858.5 198.7 824.1 187.9 828.3 190.6 849.9 224.8 780 200 813.6 215 811.9 201.7 853 221.1 833.7 208.1 811 225.7 793.5 228.9 813.8 218.1 836.6 205.1 804.7 201.6 806.9 210.1 805.2 199.9 838.9 201 828.3 211.7 829.2 217 775.2 215.6 785.6 195 820.4 195.9 843.6 218.4 807.1 223.3 822.1 211.3 801.1 234.3 775.9 226.5 773.9 227.1 815.3 216.5 806.4 215.3 774.7 201.4 818.3 229.4 807.5 197.4 848 226.5 802.2 200.7 850.4 226.6 784.3 206.8 802.6 201.4 810 201.5 816.5 208 813.1 209.2 847.7 220.2 782.3 210 837.6 210.3 829 220.7 824.4 225.8 818.3 214.3 835.9 217.8 810 190.4 845.2 226.2 821.4 224.8 788.4 229.5 764.6 208.5 808 190.9 831.1 229.5 814.6 185.5 837.3 216.4 798.3 213.7 807.9 207.8 835 198.9 818.8 231 801.3 196.2 829.8 223 779.2 231.7 795.7 202.2 847.3 229.5 808.1 216.4 835.6 218.8 813.7 213 815.9 206 804.2 196.9 851.8 216.9 790.1 201.9 817.7 195.3 826.5 211 808.3 209.5 835.7 229.3 764.9 226.4 799.3 218.9 835.3 221.7 798.9 212.4 807.4 200.4 816.2 229.5 788.1 184.2 864.7 210.2 808.9 195.9 841.1 228.8 781.3 231.8 811.7 205.9 826 220.4 816.3 201.8 840.3 198.8 855.2 189.1 851.7 228.6 795.5 213.4 812.6 222.6 824.9 206.5 778.8 234.5 818.1 229.1 792.7 213.4 808.9 190.3 853.3 229.7 807.6 204.3 845.9 205.4 797.9 197.9 824.6 199.7 804 209.5 844.1 193 855.4 197.9 826.1 207.9 806.5 197.5 811.5 186.3 858.1 208.1 846.3 190 855.2 221.7 832.6 212.1 822.1 206.6 806 216.4 795.8 194.9 848.3 214.5 812.2 217.9 791.3 221.2 789.3 207.9 842.5 201.2 814.1 227.3 788.3 197.1 853.7 228 809.4 225.9 802.2 195 825.7 231.6 775 198.3 856 234.5 792.2 229.3 813.2 188 854.7 235.1 768.1 212.3 852.1 225.1 820 218.4 827.6 195.9 844.1 193.6 848.3 216.8 825.6 191.3 830.8 193.9 821.4 221.5 810.9 194 840.1 230.6 792.4 187.7 831 196.8 824.5 205.7 818.8 224.5 802.9 193.8 850 211.2 822 196.2 824.7 215.6 799.1 218.9 806.5 212.5 810.8 212.8 828.2 197.1 847.4 210.5 833.8 220.5 798.2 200.6 819.3 231.8 777.4 188.8 818.2 229.6 796.1 219 841.4 219.5 812.3 224.2 775 187.5 823 225.9 780.4 197.5 829.7 190.1 825.7 209.9 819.6 204.2 808.2 224.8 796.3 187.6 837.7 199.6 835.4 197.9 853.2 206.5 835.3 214.9 812 197.3 830.9 221.1 808 205.7 810.1 197 814.6 210 813.3 229.6 801 229.1 812.7 205.9 830.2 214 796.1 206.2 821.2 219.5 797.3 206.1 842.9 211.5 840.1 216.3 823.1 229.9 821.3 193.7 817.6 220.8 809.6 217.8 795 223.1 789.8 197.5 845.4 227.9 810.3 196.3 822.5 197.6 837.2 195 857.1 188.4 834.3 209.6 809.7 198.8 808.9 197.8 811.1 222.6 824.3 189.5 851.7 204.3 832.2 206 829.3 194.7 815.3 216 776.4 213.7 788.4 214.9 815.3 222.4 798.1 199.8 818 227.1 786.5 219.9 789.6 212.8 827.3 227.4 790.9 204.8 811.3 222 788.8 208 808 209.4 824.3 201.8 813 211.4 799.1 216.4 831.5 230.8 781.6 202.2 815.6 189.8 851.8 219.9 805.8 208 843.3 202.2 803.4 227.4 781.9 215.1 791.5 194.6 818.7 201.9 832.1 213.9 807.6 199.2 813.9 207.6 789.7 206.5 832.6 221.9 821.6 211 814.3 210.9 834.9 200.8 837.7 206 839.4 203.3 830.1 210.1 839.9 218.7 833.9 230 779.5 211.5 832.8 194 822.8 215.8 792.7 214.2 802 206.9 852.7 206.8 827.8 213.9 793.7 212.2 820.5 194.5 851.2 211.9 840.6 212.5 794.6 224.2 820.8 199.5 844.5 197.1 822.4 195.4 824.3 223.3 803.8" class="m0"/>
<path d="M172 1149.5 211.2 1088.3 203.4 1091.1 185.7 1120.8 200.2 1129.3 198 1131.6 187.6 1125.9 205.1 1094.4 172.5 1135.3 194.1 1101 174.7 1126.9 200.5 1123.2 177.4 1123 186.2 1125.4 215.4 1083.8 204.6 1085.9 211.9 1107.9 201.3 1091.6 221.8 1100.5 208.7 1094.5 187.4 1112.9 220.3 1081.3 214.4 1116.6 198.2 1084.3 208.7 1099.8 198.5 1117 196.2 1130.7 219.3 1091.7 197.8 1089.7 216.3 1084.7 178.3 1113.9 171.6 1126.6 202.9 1086.8 190.8 1099.7 188.1 1133.6 220.1 1092.4 200.5 1126.7 181.1 1123.1 203.2 1095.9 220.5 1090.7 209 1122 219.7 1090.5 194.7 1098.3 208.3 1090 180.9 1123.6 184.3 1131.2 212.1 1094.7 202.5 1119.3 200.8 1096.2 185.3 1134.3 182.5 1121.5 216.9 1085.7 180.7 1115.9 230 1080.9 209.2 1080.7 219.7 1071.8 180 1140.3 225 1040 207.8 1103.1 209.3 1108.8 194.2 1093.7 216.1 1104.8 184.8 1118.7 192.7 1107.2 197.2 1128.4 177.5 1133.3 181.8 1131.4 207.5 1117.1 194 1122.2 226.1 1081.4 193 1130.2 179.2 1115.4 191.1 1120.7 222.2 1103.1 200.4 1099.4 185.9 1109.8 191.8 1101.9 198 1099.9 196.2 1120.8 211.2 1082.9 189.3 1131.9 186.8 1102.4 176.8 1107.2 227.7 1076.8 215.4 1102.6 220.7 1064.8 179.4 1127.6 206.2 1126.1 214.5 1118.6 224.2 1097.5 200.3 1113.2 178.7 1139.3 174.3 1118.2 204.4 1122.5 177.3 1107.2 215.3 1103.5 208.5 1080.4 193.7 1120.8 225.9 1098.6 212.7 1094.3 168.8 1132.9 217.2 1075.2 222.2 1078.4 191.4 1092.1 218.6 1077.1 214.4 1108.7 210.5 1100.4 207.8 1121.8 206.3 1095.7 221.8 1097.5 219.9 1069.7 191.9 1126.8 187.6 1111.2 196.3 1113 204.2 1103.6 192.8 1093.7 176 1120.8 208.9 1082.9 207.4 1091.9 223.2 1096.2 203.8 1118.5 175.6 1135.6 224.8 1064.7 199.2 1116.5 192.6 1090.9 200.4 1092 193 1127.3 229.6 1074.8 190.3 1105.9 192.2 1131.7 215.3 1106 201.1 1087.2 226.7 1092.6 207.2 1131.9 194 1117.7 220.7 1079.7 183.8 1103.5 209.9 1106.8 219.7 1092.1 201.5 1111.1 182.9 1133.4 181.5 1122.7 183.2 1118 207.7 1116.1 216.7 1074.3 210.9 1089 222.1 1058.5 203.5 1086.4 217 1086.4 183.2 1103.8 202.8 1100.6 191.5 1135.9 193.6 1118.8 196.7 1109.8 184.3 1094.9 213.2 1106.2 209.4 1088.3 198.3 1129.1 186.6 1129.2 222.3 1083.2 190.5 1131.4 219.3 1080.5 197.3 1109.6 189.3 1128.9 202.5 1096.2 206.1 1108.8 213.2 1090.8 190.4 1136.9 223.1 1072.9 187.7 1113.6 192.1 1128.1 202.4 1081.5 227.6 1045 199.1 1113.6 217.3 1092.2 211 1105.7 184 1106.5 227.2 1058.7 184.7 1097.5 184 1122 194.8 1127.6 206.6 1096 212.8 1091 188.9 1132.7 213.1 1116.9 179.1 1113.1 224.8 1079.9 183.5 1123.4 214.9 1070.5 183.7 1123.7 203.2 1124.2 196.2 1117 217.8 1075.7 201.8 1135.1 179.8 1118.3 213.1 1091.2 183.7 1133.2 212.9 1085.7 186 1096.7 199.7 1086.7 173.2 1121.9 186.1 1125 210.1 1091.8 201.2 1099.4 222 1080.6 176.9 1129.7 187.5 1134.8 201.1 1129.9 189.2 1101.4 215.1 1085.8 206.2 1118.1 216.9 1071 198.5 1113.5 229.2 1090.1 201.8 1066.8 217.2 1106.6 204.5 1101.2 180.4 1112.8 200.5 1125.7 205.7 1119.5 207.8 1085.8 205.2 1078.3 223.8 1083.6 194.8 1114.9 181 1107 183 1107.9 211.4 1109.7 219.2 1072.4 199.2 1122.3 206.8 1087.2 186.2 1106.5 216.3 1087.6 208.1 1117.6 184.5 1127.1 215.7 1098.3 199.5 1090.5 210.2 1104.1 213 1099.6 203.9 1077.8 196.4 1113.4 208.1 1118.3 195.6 1129.9 211.5 1079.8 207.9 1097.2 192.3 1115 183.7 1100.9 218.2 1103.1 202.7 1097.8 209.2 1101.8 186.8 1096.2 195.3 1112.4 218.4 1081.4 221.9 1111 162 1119.2 198.2 1098.9 209.5 1082.2 205.7 1121.4 221.2 1082.5 203 1087.8 219.5 1073.9 205.2 1078.6 219.8 1087.9 194.3 1117.1 202.5 1091.2 173 1114.7 197.7 1104.8 217.2 1065 211.2 1108.6 187.7 1123.4 222 1076.5 210.6 1102.7 203.5 1108.7 206.5 1132.6 222.9 1076.2 202.6 1111.8 203 1121.4 180.5 1129.7 183.6 1121 178.5 1125.9 191.7 1119.2 200.6 1096.9 193.1 1103.1 200.7 1131.9 218.1 1109.4 199.5 1091.1 221.6 1091.1 216.2 1100.3 218 1079 193.5 1103.3 218.5 1071.1 212.9 1088.8 204.4 1093.3 193.9 1117.5 217.6 1103.1 206 1116.1 193.5 1108.5 200.2 1134.8 222.3 1083.4 224.6 1080.3 204.1 1075 199.7 1084.9 227.3 1089 197.4 1090.5 197.7 1111.1 218 1077.3 196.8 1088.2 225.5 1064.5 193.3 1129.5 222.2 1090.1 175.3 1130.8 174.4 1120.3 184.6 1107.5 197 1128.4 221.1 1103.4 214.2 1122.6 208.4 1113 198 1110.3 208.9 1085.7 222.1 1088.1 223.2 1089.2 191 1096.9 227.6 1069.4 210 1107.9 197.9 1098.5 223.6 1081.4 189.5 1117.5 186.2 1128.7 172.5 1120 231.9 1073.1 192.6 1115.6 199.9 1112.2 223.8 1052 218.3 1081.1 187.8 1112.9 194.7 1098 227.9 1072.6 224 1098.4 179.7 1118.9 193.9 1091 183.8 1128 178.4 1128.6 178.2 1128.8 191.2 1128 205.2 1101.6 212.2 1093.4 185.8 1108 195.9 1120.9 173.2 1131.2 210.8 1083.8 212 1103.5 201.5 1098 209 1104.6 234.2 1083.2 192.1 1096.4 203.2 1093.9 221.4 1089 197.7 1117.2 171.6 1123.6 175.4 1137.7 203.9 1114.3 231.3 1045.8 200 1110.9 222.9 1076.9 197.6 1091.3 184.8 1133.2 207.4 1092.3 209.2 1085.4 214.8 1100.8 188.7 1117 194.2 1092.3 214.8 1105.7 214.3 1078.9 220.8 1106.8 211.6 1120.1 205.2 1097.1 192.6 1109.7 195.2 1098.5 179.6 1118.9 197.2 1092 222.5 1088.3 198.1 1102.3 189.4 1094.2 188.9 1106.7 196.3 1121.6 191.7 1103.4 215.1 1071.2 206.6 1110 224.4 1070.4 197 1094.7 192.4 1116.9 172.8 1118.8 186.8 1131.7 217.2 1085.2 184.8 1119.4 180.1 1125.5 206.7 1106.8 175.1 1135.2 190.2 1126.8 184.9 1106.7 195.6 1105.6 192.5 1127 205.6 1083.6 212.5 1109.2 183.3 1120.8 206.7 1090.9 197 1108.5 216 1101.6 188.4 1124.8 211.6 1110.3 195.4 1133.8 189.1 1131.9 226.9 1097.2 209.9 1094 196.6 1100.1 186.3 1123.1 224.9 1073.4 172.6 1126.2 202.5 1116.6 217.7 1100.9 202 1115 177 1125.9 213.4 1096.8 182.5 1119.6 178.3 1117.7 218.9 1069.9 232.1 1084.2 197.6 1111.1 214 1107.1 226.6 1074.6 210 1081.1 202.5 1112.7 205.4 1081.8 216.2 1091 211.5 1104.4 178.4 1124.6 205.6 1081.9 222.3 1084 221 1106.1 200.7 1087.9 203.3 1103.4 174 1119 197.1 1104 208.9 1129.2 207 1103.1 209.8 1109.1 186.5 1102.1 188 1111.2 226.4 1061.7 196.7 1116.3 201.1 1109.6 183.3 1117.8 209.1 1087.5 212.8 1076.7 215.8 1076.8 176 1121.9 202.4 1115.8 178.5 1116.2 195.9 1101.2 193.3 1114.4 226.6 1074.2 215.5 1078.5 194.9 1115.3 181.4 1132.8 188.1 1111.4 226.3 1066.6 191.2 1105.6 178.7 1108.8 189 1095.5 226 1062.8 198.1 1121.5 172.3 1129.5 222.1 1072.1 199.6 1124.3 194.8 1095.8 186.6 1127.1 199.6 1089.3 181.3 1104.6 188.6 1126.7 215.1 1083.2 219.5 1079.8 201.1 1103.2 193.8 1121.6 184.3 1104.5 225.1 1082.8 211.5 1112.7 207 1116.6 196.6 1131.4 220.1 1085.7 203.6 1095.6 176.7 1102.8 218.6 1108.2 185.9 1116.7 184.7 1107.8 193.7 1123.6 197.3 1127.8 177.6 1130.7 218.1 1086 186.8 1117.6 223.4 1070.2 176.6 1121.1 184.2 1102.9 192.3 1117.6 171.2 1132.2 215.5 1089.8 210.6 1105.6 213.6 1100.9 177.8 1117.1 229.5 1092 213.4 1089.8 198.5 1090.1 216 1089.6 214.4 1079.8 204.9 1102.8 212.7 1116 224.5 1096.8 214.6 1097.6 187.5 1096.4 177.1 1113.3 193 1101.7 204.5 1105 209.7 1103.1 201.8 1132.1 183.7 1134.6 179.4 1137.3 205 1109.3 194.3 1127.3 213 1112.5 176.1 1118.8 220.4 1100.3 205.5 1114.1 204.8 1096.7 213.5 1107.2 188 1115.6 212.2 1099.1 209.1 1110.6 189.4 1089.5 207.1 1133.3 177 1134.7 219 1081.3 207.5 1117.5 184.9 1124.4 171.9 1123.4 226.3 1063.9 217.1 1078.8 200.9 1100.9 183.8 1129.1 229.8 1081.6 217.8 1091 208.9 1105.7 219.9 1087.2 198.5 1090.2 229.9 1094.5 195.1 1113.3 200.3 1129.1 222.4 1056.8 195.8 1100.3 170.3 1126.3 194.2 1096.4 226.9 1080.6 207.2 1114.4 177.9 1121 206.9 1109.4 188.3 1118.4 217 1087.7 219.4 1060.9 193 1107 194.4 1083.5 200.4 1092.6 216.3 1073 207 1137 218.4 1081.9 182.7 1135.9 221.4 1100.3 189.8 1115.4 205.9 1107 173.5 1118.2 185.7 1139.4 188.2 1132.7 216 1116.4 194.9 1088.3 212.2 1080.5 190.5 1131 209.6 1117 203.9 1096.9 202.1 1114 220.7 1099.6 202.1 1129.7 189.5 1125.5 199.5 1131.9 213.3 1077.8 190.3 1098.9 181.4 1126 179.7 1131.9 213.8 1086.5 188.8 1128.2 208.1 1107.3 184.1 1134.6 194.2 1102.8 171 1125.8 193.7 1103.9 201.6 1075.3 223.6 1077.9 186.3 1116.1 173.5 1128.6 214.4 1103 198.4 1122.5 219.9 1078.2 205.6 1109.3 198.5 1100.3 215.2 1096.4 198.8 1121.1 200.9 1080.1 202.9 1097.5 200.4 1107.8 179.2 1127.8 202 1096.6 183 1117.9 195.2 1091.2 195.7 1134.9 203.5 1106.8 194.4 1127.9 209.7 1128 210.9 1084.8 200.3 1108.2 221.7 1080.1 209.7 1106.4 207.9 1105.2 195.9 1106.6 178.1 1112 204.1 1080.9 177.8 1115.4 221.8 1087.1 219.7 1102.9 181.6 1138.1 223.7 1074.9 191 1130.1 166.2 1128.2 195.6 1114.4 231.6 1073.4 221.5 1089.2 185.1 1118.1 203.8 1099.1 194 1138.3 199.5 1130.7 205.6 1124.8 192.1 1096.3 219.5 1095.3 199.7 1123.2 195.1 1125.3 204.1 1095.7 181.6 1121.2 182.4 1117.5 208.5 1130.8 214.2 1119.9 198.8 1098.8 226.3 1078.4 225.6 1085.2 203.2 1098.7 182 1116.3 198.6 1118.6 190.2 1129.2 200.9 1091 196.8 1117.8 217.1 1111.1 222.6 1071 219.7 1073.3 186.5 1115.6 205.2 1099.6 209.3 1093.2 213.1 1080.8 206.6 1081.9 182.4 1108 221.9 1090.7 213.6 1099.5 200.1 1085.4 224.8 1077.9 197.5 1116 200.9 1129.6 183.5 1106.4 191.8 1129.8 215.2 1099.6 223.8 1059.4 217.8 1071.6 223.8 1072.5 211.6 1106 189 1110.3 192.5 1097.5 228.4 1088 206.9 1121.1 213.4 1100.4 230.3 1071.1 198.7 1094.7 179.8 1126.5 216.1 1100.1 225.8 1073.4 211.9 1071.7 205.2 1113 201.7 1075.8 186.7 1108.7 206.3 1101.1 195.9 1118.7 198.3 1084.2 223.6 1070.1 184.4 1118 215.8 1075.8 170.9 1126.3 204.5 1120.3 216.3 1091.2 193.8 1131.4 186.8 1136.7 215.7 1094.8 176 1117.7 226.1 1058.8 197.6 1121.4 179.9 1115.1 226.3 1081.5 183.4 1104.7 199.4 1080.6 215.1 1079.2 191 1115.7 203.5 1104.8 188.2 1119.5 179 1119.1 198.9 1129.8 182.4 1126.7 205.7 1091.8 188.8 1126.2 216.8 1086.8 198 1119 189.9 1103.7 217.6 1114 205.2 1103.5 182.8 1112.3 181.9 1124.1 197.5 1091.5 192.9 1119.6 205.9 1088.2 203.1 1083.1 185.6 1124.2 219 1085.3 202.5 1137 184.8 1115.5 205.4 1118.7 211.2 1101.8 214.3 1084.2 218.6 1101.8 213.6 1096.7 225.2 1090.4 181 1123.2 206.4 1122.1 193.7 1103.4 219.6 1068.5 212.7 1107.8 199.9 1125.8 207.8 1102.1 191.4 1107.9 192.1 1095.3 225.3 1076.7 177.1 1139.9 193.1 1127.8 179 1129.4 210.4 1100.3 203.2 1080.6 212.3 1092.3 196 1127.4 219 1095.4 217.3 1092.8 220 1085.9 229.6 1045.5 207.8 1103 199.9 1098.5 181.4 1105.2 188.8 1132.1 168.5 1124.5 180.3 1130.7 191.7 1111.3 197.2 1126.3 193.7 1123.8 209.3 1090 207.9 1100.8 193.3 1117.9 179.1 1136.3 202.4 1121.6 176.3 1131.2 197.6 1126 211 1087.1 226.4 1054.1 230.4 1047 220.2 1101.6 187.1 1113 211 1083.9 209.3 1106.5 186.3 1102.2 228.6 1081.8 207.9 1093.8 188.5 1129.5 206.3 1102.7 193.4 1131.1 201.2 1124.4 183.6 1130.4 200.6 1100.8 209.9 1102.1 182 1123 202 1107.3 201.5 1128.6 209.3 1114.1 208.2 1085.5 204.4 1108.4 198.8 1125.3 187.4 1097.4 176.9 1129.2 221.9 1073 225.1 1062.2 173.7 1125.9 192.1 1106.4 205.9 1089.2 220 1084.8 187.5 1120.9 189.2 1089.7 193 1128.1 200.5 1095.8 178.1 1137.3 213.1 1090.7 214.6 1070.3 182.8 1109.1 216.2 1092 222.5 1089.7 203.7 1090.1 201.3 1103.9 211.6 1097.6 204.7 1077.6 209.7 1088 194.9 1103.3 198.9 1088.5 192.1 1121.3 192.4 1100.9 167.9 1130.4 230.3 1067.5 220.1 1087.6 200.4 1079.5 178.1 1125.2 202.9 1108.6 210.1 1122.2 222.7 1095.7 196.1 1109.8 223.3 1066.7 199 1092.8 189 1107.4 195.9 1123.7 214.4 1111.2 193.9 1095.3 192.7 1103.5 188 1120.3 179.7 1129.2 224 1064.8 182.3 1117.3 192 1115.9 172 1125.4 200.8 1110.3 205.5 1093 176.8 1119.8 197.3 1113.1 195 1120 181.5 1113.6 220.4 1076.2 205.8 1087.9 185.9 1093.9 200.1 1092 211.5 1090.2 199.7 1084 226.7 1082.4 177.5 1115 190.5 1128.6 228.1 1103.7 206.2 1134.5 196 1115.5 194.1 1112.4 214.4 1078.4 190.1 1099.7 199.9 1130.3 168.4 1125.8 175.2 1131.4 192.7 1118.8 201.4 1110.7 207.1 1082.7 203.5 1091.3 226.3 1097 208.3 1080.1 216.6 1093.2 192.3 1126.4 213.1 1094.8 210.3 1124.9 224.3 1109.1 208.2 1098.2 192 1101.2 221.5 1107.4 191.7 1104.3 193 1103.8 208.3 1103.1 181.8 1139.9 179.8 1122.6 184.6 1109.7 221.2 1070.6 218 1076.4 209.1 1078.8 219.5 1062 185.1 1134.5 191.3 1112.1 190.5 1113.8 199.2 1120.5 233.8 1042.5 180.2 1106.4 222.1 1103.1 175 1114.5 212.7 1088.1 223.5 1091.9 225.8 1093.9 192.2 1098.8 207.3 1117.2 220.6 1105.1 202.3 1117.4 193.4 1113.3 190.7 1119.4 211.3 1090.3 203.2 1099.6 180.7 1111.3 199.2 1084.2 211.7 1101.4 186.8 1123.8 223.1 1096.5 226.8 1069.9 197.4 1131.7 178 1133.2 207.8 1102 187.6 1106.7 224.2 1092.1 192.7 1129.7 189.2 1103.6 201.7 1073 216.2 1081.1 183.2 1121 189.3 1110.5 209.9 1075.4 197.4 1105.1 210.7 1112.2 217.3 1083.4 221.4 1100.7 205.8 1103 208 1088.2 216.1 1084.9 178.8 1132.4 207.8 1109.3 189 1114.3 198.4 1106.4 189 1107.1 191.3 1097.6 187.4 1112.4 205.5 1080.6 201.6 1121.4 223.2 1058.3 208.3 1122.7 210 1080.6 192.9 1132.3 225.4 1078.4 211 1120.6 170.7 1116.9 220.3 1078.3 186.9 1119.5 216.9 1109.9 191 1131.2 202.1 1085.6 211.3 1097.8 221.1 1076.8 193.2 1113.5 222.7 1101.6 205.7 1095 206.1 1078.9 205.9 1121.1 178.1 1133.2 199.9 1094.8 184.4 1122.5 204.2 1116.4 220.6 1100 222.2 1097 200.6 1099.9 196.5 1112.7 223.4 1065.8 220.4 1103 208.7 1113.6 217.5 1090.5 189.9 1114.5 228.4 1090.4 222.1 1105.7 178.4 1126.4 220.9 1110 206.8 1115.1 205.5 1144.5 182.4 1123.3 222.3 1084.2 179.4 1130 211.5 1076.9 189.6 1126.2 197.4 1088.3 175.7 1133.2 198.7 1107.9 204 1085.4 198.2 1096.8 183.1 1134.1 207.1 1118.4 208.3 1080.9 207.7 1087.9 177.1 1127.4 199.2 1108.3 199.3 1088.6 187.5 1102.9 173.7 1114.5 224.7 1066 170.5 1109.5 193.5 1125.7 201.9 1114.7 228.3 1058.7 188 1124.2 188.4 1119.2 224.6 1069.5 189.9 1105.1 168.8 1126.1 181.8 1117 186.1 1105.7 196 1120.8 219.7 1077.8 219.2 1083.9 210.9 1090.1 202 1100.7 190.3 1124.8 194.4 1109.6 187.6 1118.1 198.3 1110.4 188.7 1126.1 216.8 1069.9 209.1 1078.9 216.9 1080.1 210.1 1082.2 216.4 1085.1 219.6 1103.2 207.3 1093.6 211.3 1089.2 202 1095.9 186.5 1136.8 192.3 1112.5 213.9 1098.3 219.7 1101.5 203.2 1079.9 187.7 1130.4 228.9 1056.7 209.5 1096.2 177 1132.9 201.2 1076.8 219 1061.5 205.4 1071.6 190.2 1109.6 205.8 1099.4 202 1121.3 215.1 1104.7 217.9 1109.8 212.4 1111.2 176.9 1127.3 179.1 1117.4 184.5 1156.2 197.6 1127.4 209.2 1105.4 209.4 1090.3 205.5 1091 194.1 1105.3 198.8 1130.6 226.4 1056.6 206.7 1096.4 207 1101.6 227.9 1054.3 190.5 1123.8 208.2 1075.3 207.4 1132.4 211.2 1088.2 203.3 1111.9 209.4 1124.3 199.9 1079.7 200.7 1114 196.9 1085.6 200.3 1074.1 226.5 1052.4 187 1133.5 196.4 1119.5 199.4 1131.9 220.4 1068.8 214.5 1076.4 185 1130 222.1 1089.9 217 1092.7 187.7 1125.3 209.3 1087.1 197.4 1083 184.2 1128.8 190.3 1109.5 182.7 1112.4 179.7 1127.6 213.1 1109.3 178.6 1126.2 202.6 1128.7 192.7 1089.3 173.8 1124.2 215.4 1080.2 228.4 1091.8 196.8 1099.4 189.3 1122 222.2 1082.8 207.9 1115.2 188.1 1111.6 210.7 1093.6 172.2 1131.3 216 1093.2 230.4 1061.3 224.4 1081.4 174.8 1126.7 178.4 1133 223 1085.6 194.8 1120 202.5 1108.7 184.7 1117 187.5 1101.7 186.4 1111.8 184.9 1127.7 194.6 1090.2 227.9 1092.3 208.6 1119.7 210.5 1091.4 190.9 1129.2 177 1142.5 199.7 1086.5 223.6 1084 193.4 1091.3 188.8 1114.7 214.1 1080.4 209.1 1130.7 213.7 1079 218.3 1102.2 197.4 1088.1 197.9 1118.9 181 1117.3 213.4 1117.5 179.4 1120.5 172.7 1125.5 210.5 1078.4 199.9 1088.9 191.4 1123.3 216 1098.3 204.1 1116 225.6 1086.8 195.4 1123.3 208.9 1110.5 206.4 1090 217 1110.2 201 1083.9 214 1080.7 195.5 1128.8 197.3 1133.8 185.2 1134 196.2 1129 202.9 1112.8 201.9 1090.2 213.5 1113.6 197.3 1107.1 203.3 1090.5 203.2 1086.5 209.8 1082.7 205.7 1106.2 195.7 1116.9 193.7 1133.7 181.1 1120.9 197.8 1101.6 227 1049.1 219.8 1099.5 217.2 1109 221.7 1096.9 191.4 1110.1" class="m1"/>
<path d="M231.1 1392.6 178.9 1411.9 225.7 1363.7 216.7 1396.2 238.2 1352.5 190.3 1394.1 184.6 1409.6 181.9 1416.1 224.3 1360.2 208.2 1376.8 181.6 1412.2 185 1407.7 214.8 1383.3 203.4 1384 183.8 1418.9 187 1400.2 241.8 1362.2 231 1374.2 186.3 1402.5 216.5 1389.1 218.9 1385.5 221.2 1378.8 197.1 1406 177.9 1407.7 212.1 1390 202.3 1379.3 238.6 1357.8 179.9 1396 233.1 1362.4 167.3 1412.7 188.4 1402.7 203.8 1394.2 187.1 1390.2 233.8 1380 205.7 1393.7 215.9 1396.7 163.2 1411 225.1 1379 242.5 1348.8 164.5 1413 224.9 1365.3 221.9 1395.6 209.6 1391.1 215.6 1392.4 236.4 1357.8 214.3 1403.3 170.5 1403 230.3 1377.4 186.2 1401.9 195.1 1390.3 241.6 1369.2 222.4 1363.1 190.9 1399.9 228.9 1362.5 204.4 1377.1 234.5 1356.3 221 1389.4 210 1392.7 188.1 1399.8 180.4 1403.3 199.5 1400.9 225.8 1358.6 235.8 1359.7 183.4 1412.3 219.5 1381.8 232.1 1358.8 182.3 1411.3 232.3 1384.8 230.2 1369.4 213.8 1372 198.1 1399 241.2 1348.7 217 1375.4 223.4 1369.4 225.2 1368 208.2 1366.8 230.7 1376.5 189.6 1393.9 234.6 1378.3 182.8 1416.4 201.5 1380.4 242.2 1367.7 225.4 1356.8 210.6 1366.1 180.9 1402.6 181.8 1396.7 240 1352.1 205.8 1399.4 216.1 1387.4 190.2 1396 219.6 1385.7 181 1405.3 230.2 1372.6 229 1395.1 185.9 1407.4 197.2 1386.4 197 1389.1 222.4 1395.4 182.5 1424.5 221.1 1386.3 202.6 1379.4 238.4 1360.7 232.7 1367 204.3 1372.3 229.9 1373 228.9 1375.7 208.2 1393.2 227.4 1363.5 239.2 1356.2 166.4 1408 212.8 1409.9 212 1379.5 186.7 1407.9 194.4 1386.2 231.8 1377.1 234.2 1356.5 174.8 1422.4 193.9 1404.6 210.1 1385.9 233.8 1352.1 208.8 1393.9 216 1373.3 191.5 1421.2 180.7 1419.2 211.7 1363.2 210.4 1386 196.6 1397.5 232.2 1351.8 230.4 1379.4 220.6 1374.8 239.3 1356.6 173 1421.9 182.6 1398.4 196.4 1402.1 164.7 1406.9 179.1 1403.6 184.9 1405.2 228.2 1376.5 197.2 1417.8 193 1403.1 198.1 1398.1 241.1 1354 241.6 1351 199.5 1383.5 182.2 1411.2 175.3 1398.6 225.1 1371.3 206 1397 232.1 1360.5 208.3 1409.3 245.9 1356.1 232.4 1353.4 235.2 1370.8 201.9 1376.4 228.1 1387 230.2 1347.3 193 1409 245.3 1356.5 192.6 1417.6 214.4 1388.4 198.4 1409.7 220.4 1400.3 207.8 1384.2 214.8 1399.7 243.2 1358.1 198.7 1392.2 247.5 1365.4 199.8 1382.4 182.7 1395.6 189.6 1422.1 199.9 1391.7 212.5 1390.2 236.7 1368.8 228.3 1372.8 239 1366.6 229.1 1353.4 180.2 1411.2 223.7 1393.5 192.1 1394.3 216.2 1388.6 160.8 1419.8 202 1408.2 217.6 1374.6 216.7 1375.2 199.1 1386 215.8 1390.5 214.6 1363.8 175.8 1403.5 222 1362.8 218.7 1400.7 214.2 1406 228.1 1373.1 174.9 1412.1 176.3 1395.3 189.6 1408.6 207.4 1387.3 233.7 1359.3 207.8 1396.9 178.3 1408.5 211.2 1406.3 238.7 1351.9 183.7 1399.2 206.9 1369.2 188.7 1400.9 175.1 1409.1 224 1373.4 207.4 1389.8 175 1411.1 212.2 1372.5 231.7 1397.3 199.6 1417.3 220.6 1391.4 186.4 1406.2 194.1 1402.8 222.1 1380.9 209.1 1401.4 196.5 1405.4 239.8 1352.3 227.9 1373 229 1369.9 223.7 1364 195.3 1394.1 161.3 1408.1 186.5 1400.7 193.3 1384.9 205.2 1385.1 207.7 1401.2 223.5 1385.3 215.5 1384.1 193.1 1399.8 189.9 1408.9 233.4 1356.6 221.6 1359.5 188.4 1386.3 195.2 1414.7 197.5 1408.4 195.7 1410.6 195.6 1398.3 197.1 1417.8 214.2 1370.1 220.8 1360.8 217.7 1391.7 166.1 1407.5 193.9 1383.7 225.4 1366.2 213.6 1392.5 232.6 1367 224.1 1377.7 220.1 1368.4 160.4 1408.6 218.5 1399.1 209.7 1387.4 237.3 1350.3 189.8 1389.8 227 1362.5 189.2 1391 172.5 1419.7 223.3 1372.5 186.6 1408.1 231.9 1398.9 184 1399 165 1435.8 242.3 1360.7 209.1 1387.1 204 1401.8 212.6 1377.9 161.2 1411.6 229.7 1364.7 179.6 1403.5 214.1 1365.4 242.7 1351.3 233.6 1365.3 214 1409.3 214.8 1382.2 194.3 1414.7 179.9 1404.4 198.9 1406.3 239.6 1360.1 170.6 1410.2 167.1 1399.8 178 1409.9 210.5 1360.1 216 1393.4 208.4 1399 226.1 1368.6 180 1430.8 239.1 1365.1 171.6 1410.7 214.4 1410.7 225.4 1377.7 199.3 1377.7 181.6 1400.4 193.6 1402.2 200.7 1401.6 187 1399.5 227.8 1365.9 198 1401.1 228.3 1379.5 176.7 1413.3 201.5 1386.5 242.6 1354.9 203.1 1384.3 175.5 1418.3 214.8 1391.6 220.9 1363.8 188 1399.7 200.3 1392.2 235.4 1364.9 203.2 1379.4 228.6 1370.6 202.5 1405.4 208.4 1404.8 173.3 1408 214 1384.7 199.5 1400.2 222.3 1377.9 166.2 1416.6 193.3 1397.9 192.4 1398.7 200.6 1393 196.9 1398.3 171 1414.7 164.8 1414.9 211.2 1393.6 159.1 1408.5 192.6 1403.9 248.2 1328 216.3 1376.1 173.8 1399.3 185.7 1411.3 171.5 1417.5 181.4 1409.3 228.8 1378.2 208.2 1389.9 169.8 1420.9 222.1 1396.8 205.9 1381.6 238.2 1347.8 188.2 1391.8 188.3 1403.8 176.6 1418.2 195 1417.5 178.7 1409.5 187.8 1391.6 212.7 1405.8 187.4 1410.9 213.6 1384.4 222.7 1369 206.8 1398.5 236.3 1367.7 240.2 1353.1 222.8 1373.8 204 1406.8 169.1 1422.3 240.1 1355.4 210.1 1361.9 224.3 1393.8 203.2 1355.8 237.6 1360.1 197.6 1383.9 187.6 1402.6 179.4 1423.2 154.3 1414.7 203.8 1381.6 190.9 1405.9 220.8 1382.8 224.4 1370.4 243.3 1351.4 198.2 1398.4 225.3 1394.7 227.2 1374.4 210.4 1399.4 180.5 1408.2 180.3 1410 223 1385.1 232.9 1383.7 230.5 1372 237.3 1362.8 184.9 1394.7 198.9 1371.7 226.8 1367.3 230.9 1358.1 217.5 1398.4 200 1382.9 190.2 1383 191.4 1385.5 223.2 1367 169.3 1415 170.8 1416.1 155.9 1411.9 196.1 1390.4 229 1389.7 240.3 1352.6 201.7 1387.6 221.3 1361.3 208 1393.2 213.6 1393.8 230.2 1389.3 199.4 1387.2 167.1 1413.5 217.7 1367.9 187.2 1394.3 239.9 1365.3 219.8 1382.1 207.4 1370.5 240.6 1351.3 212.6 1404.4 179.2 1399.6 166.8 1406 230.6 1391.1 224.6 1396.1 176.3 1408.6 177.6 1408.3 221.1 1402.2 231.6 1379.1 206.6 1386.8 225.4 1393.8 210.4 1384.4 235.9 1365.8 241.5 1362.6 201.6 1398.5 207.6 1386.5 214.4 1370 225.7 1375.6 189.7 1396.6 239.4 1352.7 223.9 1394 208 1414 236.1 1346.9 219.4 1369.7 237.6 1364.9 217.9 1366.1 186.2 1401.7 215.5 1386.5 200.2 1405.7 174.8 1417.7 222 1382 212.3 1396.9 143.8 1442 218.9 1390.5 215 1382.5 211.9 1368.9 178.8 1417.3 199.1 1393.5 213.2 1383.2 210.5 1403.1 218 1365.3 227 1380.1 166.9 1404.1 214.1 1364.5 168.7 1413.4 164.6 1414 201.2 1400.1 227.9 1378 231.3 1371.9 194.6 1398 195.7 1408.6 185.5 1419.1 229.5 1372.2 233.6 1369.1 196.1 1381.9 213.9 1389.3 215.9 1373.7 196.9 1412.5 209.9 1380 176.5 1414 175.5 1417.9 215.7 1394.8 207.6 1394 185.3 1408.9 211.6 1381.1 215.9 1403.8 226.9 1385.2 243.8 1347.9 211.5 1392.4 183.3 1420.9 205.5 1388.8 174.3 1413.7 230.5 1393.8 232.3 1366.4 225.2 1375.2 181.1 1404.7 233 1356.4 208.3 1379.8 239.3 1372.3 161.1 1407.3 189.7 1412.6 243.1 1356.8 224.3 1394.1 215.7 1367.2 202 1382.8 212.4 1368.4 229.2 1367.8 189.5 1396.4 226.5 1381.3 211.5 1391.4 174.9 1425.8 226.9 1378.1 180.3 1417.1 211.2 1393.1 190.7 1409.4 192.5 1387.3 175.7 1408.8 217.4 1390.1 209.8 1384.6 222.7 1379.6 183.5 1416.6 205.8 1369.1 233.9 1366 249.1 1357.3 201.3 1407.1 178 1423.7 224.6 1403.9 178.6 1405.1 217.2 1404.1 228.1 1368.4 202 1385.3 217.7 1382 224 1382.3 173.4 1412.9 195.8 1381.5 240 1333.8 188.5 1388.6 222.4 1373.3 222.7 1394.2 185 1392.2 192.5 1387.3 216.1 1395.4 163.4 1403.9 240.1 1365.9 188.9 1414.7 167.2 1420 219.3 1363 223.7 1384.9 230.6 1358.8 209 1394.6 198.8 1407.4 219.3 1377.1 220.3 1382.8 220.7 1406.3 225.1 1360.3 197.4 1398.4 196.3 1394.1 198.2 1398.6 222.9 1359 223.9 1384.6 227 1395.9 245 1347.9 237.1 1363.6 231.1 1370.9 216.1 1365 209.2 1391 192.8 1386.5 201.5 1409.9 222.9 1385.2 214.4 1381.6 227.5 1365.7 211.1 1384.7 202.9 1399 216 1371.2 219.8 1357.2 203.9 1415.4 223.1 1387.6 194.1 1406.5 200.4 1377.9 215.6 1405.4 209.8 1391.5 184.9 1411.5 211.2 1371.7 211.3 1400.1 193.2 1398.7 220.2 1383.3 214.7 1380.3 217 1377.8 165.7 1402.2 239.5 1355.9 176.3 1408.1 183.1 1404 196.8 1405.6 160.6 1408.6 208.2 1383.9 232.9 1370.6 185.9 1418.9 214.1 1388 239.1 1362.1 237.7 1359.5 230 1390 247.2 1352.5 182.6 1421 216.9 1393.5 229.8 1370.2 225.4 1362.1 190.3 1406.6 238.8 1376.2 184.9 1406.2 198.2 1409.2 218.4 1398.6 222.6 1375.1 176.6 1411 217.2 1382.6 222.4 1372.5 194.1 1394.9 224.3 1400.6 201.4 1390.5 210.9 1403.6 164 1415.8 203.9 1398.7 174.5 1412.2 217.1 1372.8 166.3 1409 210 1420.8 231.5 1368.9 237 1353.3 184 1402.2 210 1400 205.4 1384.1 208.1 1387.8 204 1398.1 226.3 1367.3 233.1 1372.2 236.7 1376.1 174.2 1409.1 184.2 1421.9 193.1 1416.4 187.5 1393.5 186.5 1391.7 222.6 1398.4 222.1 1403.3 187.2 1409.5 204.7 1386.5 188 1420.7 180.7 1388.4 209.9 1404.8 234.8 1363.7 193.6 1410.7 219 1391.5 195.5 1403.4 231.4 1383.1 204.6 1403.6 184.1 1406.4 199.6 1405.8 208.7 1390.4 232.9 1374.3 214.7 1383.1 184.1 1394.1 189.6 1391 201.4 1402.4 227.8 1380.6 193.2 1402.7 218.8 1374 233.3 1369.2 208.3 1388.4 221 1371.6 199.4 1383.2 204.1 1373 155.7 1412.5 169.4 1405 185.3 1401.9 232.5 1349.1 162 1426.8 213.7 1360.3 227.5 1378.6 217.9 1385.3 221.6 1400.1 241.7 1350.6 226.5 1361.7 221.9 1386.4 167.9 1416.9 220 1363.8 185.6 1394.2 217.4 1366.5 239.3 1362.8 217.2 1383.6 226.8 1379.6 212.3 1384.1 189.6 1385.9 203.8 1400.5 197 1376.2 227.2 1384 187.7 1412.7 224.2 1373.3 221.9 1378.6 224.7 1353.2 221.4 1367.9 216.8 1370.2 221.4 1369.7 189.5 1404 230 1370.5 185.7 1388.1 215.5 1399.2 200.2 1393.3 214.1 1387.7 214.9 1375.9 200.5 1388.2 192.1 1391.8 231.9 1379.9 201.5 1376 220 1378.1 239.2 1381.4 207.3 1393.9 227.1 1375.3 180.4 1412.4 163.6 1406.4 238.5 1365.3 197.3 1387.5 166.1 1423.2 210.6 1392.8 214.2 1384.5 210.6 1382 245.5 1355.4 210.5 1369.1 220.6 1390.5 222.2 1374.2 220.8 1376.9 206 1371.4 199.4 1392.8 180.5 1412.7 226.5 1370 194.5 1419.8 242.5 1349.1 230.7 1361 170.5 1407.7 195.6 1411.6 231.8 1381.8 209.5 1374.4 195.7 1398 222.2 1384.1 215.9 1387.4 203.2 1393.9 217.9 1373.2 167.8 1411.6 222.9 1376.7 187.7 1407.7 218.1 1396.6 176.8 1400.9 207.3 1376.8 246.8 1366.3 169.7 1421.3 222 1363.3 230.6 1400.6 227.4 1385.2 229.4 1388.6 193.7 1392.3 183.2 1403.6 211 1387.1 207.9 1369.3 194.3 1395.6 178.6 1414.7 177.1 1398 218.8 1370.2 239 1356.5 213.4 1379.2 199.1 1371.3 178.9 1406 164.7 1416.8 233.5 1383.5 201.5 1401.8 235.4 1365.6 170.9 1410.3 218 1377.5 188.7 1390.9 211.8 1383.5 160.7 1409.8 156.2 1425.8 181.7 1401.4 203.3 1390.9 207.5 1410.1 222.9 1404 209.4 1365.5 193.5 1420.2 228.5 1383.9 215.6 1397.9 223.4 1385.3 222.9 1367.9 205.3 1363.4 184.8 1402.2 235.8 1362.9 170.4 1417.8 237.6 1374.3 207.4 1375.3 209.1 1399.4 211.6 1363.7 193.6 1410.7 178.5 1419.9 195.8 1396.3 206.7 1385.3 196.9 1386 188.8 1404.5 205.9 1380.6" class="m2"/>
<path d="M519.5 809.2 530 808 525.5 792.6 530.3 801.8 522.7 825.2 525.2 800.3 510.9 808.5 489.5 868.2 503.8 860.8 512.7 820.4 539.1 795.2 509.6 822.4 530.8 826.4 515.8 823.8 534.2 803.5 534 820.5 536.2 805.7 513.9 829.3 519.9 806.3 547.5 796.3 504.5 814 497.7 840.8 528.8 823.8 513.4 829.7 506.6 836.7 535.5 815.8 531.9 816.5 510.5 821.2 537.4 796.3 503.6 844.5 522.4 830.1 527.3 825.5 505.9 820.3 493.8 847.2 537.4 803.2 522.7 800.4 518.4 820.4 503.7 836.8 537.5 799.1 524 811.1 526.1 813.7 517.2 833.1 506.6 838.1 514.4 826.2 514.2 821.8 490.2 851.7 534.6 819.3 531.9 801.6 529 789.5 539.1 807.7 497 856.8 510.2 838.6 528.8 802.3 515.5 810.7 523.2 814.4 523.2 816 531 805.4 508.4 830.2 516.1 821.8 515.3 830.2 539.8 800.6 518.9 819.1 523.9 794.2 508.8 812.9 531.2 799.7 500.3 848.3 506.2 830.2 531.8 798.6 531.7 809.2 532.2 822.6 524.2 830.3 522.2 818.6 539.1 791.9 524.3 819.8 524.6 814.4 517.9 813.2 528.6 823.6 521 814.5 538.9 814.7 512.9 838.7 533.1 800.4 533.6 809.5 490.6 853.1 511.6 817.8 521.1 816.3 534.6 796.6 533.8 834 506.9 831.3 512.4 817.8 523.5 823.9 511.2 828 528.4 816.3 530.1 827.1 516.9 812.1 508.7 821.8 536.9 807.2 506.1 827.3 543.1 805.8 546.3 783.4 530.9 804 530.5 814.8 520.9 820.1 514.2 827.8 543.7 792.6 505.3 842.8 498.2 834.8 515.7 831 512.9 813.2 532.5 811.8 505.5 816.8 544.1 791.2 523.4 805.7 520.2 809.2 516.4 831.8 525.9 815.5 507.8 832.6 528.7 816.9 512.5 808 504.9 834 493 854.4 536.3 817.2 501.2 864.5 526.6 803.6 501.6 834.8 507.2 840.6 527.3 800.2 503.2 876.2 542.8 810.4 513 829.9 534.8 802.8 503.6 826.8 499.6 836.2 523.2 793 506.4 828.5 535.4 805.7 540.6 806.1 548.6 787.8 512.6 828.5 501.6 846.3 547.1 787.4 527.6 800.5 515.7 820.3 506.5 821.1 494 838.9 529.8 826.5 501.8 829.9 515.3 817.4 500.3 846.6 517.9 817.1 507.8 826.4 501.2 818.8 515.3 817.1 542 801.1 532.5 800.6 501.5 843.1 533.1 816 541.3 801.4 507.8 823 519 802.2 519.9 812.1 521.9 807.9 517 835.9 528.3 809 536.6 811.7 522.1 825.1 535.8 814.5 499.6 831.3 541.2 800.9 513.4 823.2 500.8 828.2 534.3 810.7" class="m3"/>
<path d="M669.7 860.1 701.9 837.4 706.1 797.1 702.8 793.9 671.8 839.8 706.3 792.7 702 778.9 684.4 829 702.6 798.7 699.3 839.9 706.5 837.8 682.9 847.2 701.6 801.5 684.9 840.8 670 835.1 697.1 823.8 705.1 847 685.3 837.2 708.1 827.8 707 775 693.3 834.5 672.9 851.7 688.5 862.3 678.8 829.2 679.9 865.6 695.5 839 704.2 787.6 688.7 820.8 689.1 811.4 705.4 792.1 676.9 855.4 705.4 778.8 680.4 843.4 700.6 832.4 670.1 850 700.8 793.5 677.9 838.8 683.3 827.8 711.2 801.2 697.8 848.6 687.8 829.5 700.9 812.4 707.2 814.5 702 811.1 680.8 840.5 668.9 862.3 666.2 854.4 698 843.1 678.2 826.3 708.9 804.4 702.3 818.8 695.6 856.2 677.9 852.9 710.6 824 702.6 817.1 712.2 827.1 684 823.1 684.7 815.8 698.4 816.7 693.1 833.3 674.4 833.8 684.2 857.7 682 865.3 674.6 835.4 694.5 827.4 704.3 811.3 683.7 822.1 678.4 831.1 681.2 851.7 702.3 794.2 679.7 822.8 674 844.2 661.1 839.6 689.9 857.5 702.2 820.1 703.7 813.6 713.8 804.3 695.9 859.3 691.4 813.7 686.7 811.1 688 851.6 679.1 849.3 690.3 855.6 683.1 859.5 706.3 791.3 700.5 793.5 677.6 834 696 854.1 682.4 868.1 670.1 852.7 675.2 848.3 702.9 830 677.3 840.5 681 821.1 687.1 819.3 667.7 849.5 685.9 854.6 666.1 847 701.8 836.5 697.5 856.8 675.8 847.1 693.4 850.1 704.3 791 675.5 834.5 707.5 826.9 691.4 864.7 700.5 826 674.7 836.2 706.1 814.6 670.1 852.6 704.5 827.2 673 868.8 687.9 857.4 712.7 793.2 702.7 842.6 684 844.7 703.3 780.2 659.9 834.5 701.3 786.2 681 830.7 699.7 826.2 672.9 847.9 703.4 805.4 710.2 820.1 697.4 832.7 705.1 789.4 666 862.6 700.7 850.2 678.3 857.7 699.8 850 684.1 844.9 709.5 792.7 707 842.3 703.2 824.5 696 825.1 667.4 829.6 683.3 806.7 704.5 815 696.7 850.8 689.6 850.3 680.7 826.6 673.8 850.5 706.4 815.4 678.6 847.8 693.2 840.1 704.9 804.1 688.1 833.2 680.9 833.8 684.9 837.5 671.2 831.6 671.3 822 675 817.1 694.8 842.4 694.6 855.4 702.2 790.7 690.7 823.3 678.2 829.6 694.2 843 678 846 698.3 807.4 685.6 865.6 705 850.2 699.9 784.4 686.6 861.1 671.7 852.7 695.9 862.8 681.3 817.5 698.4 831.5 671 857 700.9 788.2 663.3 863.3 710.4 825.3 703.1 828.2 709.1 828.5 689.7 836.4 703.6 801.2 680.9 826.7 699.9 823.4 701 842.1 691.1 829.5 687 835.8 684.8 844.9 698.1 842.3 687.2 813.1 677.5 865.4 707.3 789.1 711.3 793.4 684.6 848.1 710.4 838 682.7 856.6 682.9 827.4 711.2 793.9 706.7 802.6 686.1 821.6 707.5 796.2 701.2 820.1 685.8 860.8 713 805 704.9 788.2 680.8 814.1 702.4 828.5 679.4 818.1 681 825.1 687.4 864.1 704.2 815.8 703.5 835.5 694.8 825.1 681.3 864.4 687.3 816.3 695.7 855.6 668.7 830 705.2 819.5 670.5 867.4 670.8 854.5 710.1 782 699.4 828.5 693.9 840.3 693.9 831 699.5 812.2 684.2 816.4 684.9 824.4 696.3 830.2 696.6 798.1 702.1 835.9 701.7 855.2 699.1 860.1 689.7 853.6 686.1 831.4 707.6 795.9 691.9 855.1 708 839.2 683.7 830 697.4 823 668.6 834.3 683 868.5 691.5 810.3 704 845.1 682.7 854.5 683.8 846 698.8 819.8 698.8 811.6 691.1 858 700.6 785.4 705.5 768.9 669.3 833.1 698.7 802.3 689.5 855.4 676 857.5 689.6 826.1 676 861.1 687.1 810.7 706.9 821.9 687.9 823.2 699.5 818.8 708.9 805.4 669.2 837.9 696.3 798.9 689.8 839 708.6 791.7 701.2 818.6 667.8 861.9 664.5 840 675.8 860.3 677.5 855.4 687 832.8 676.7 839.7 689.8 808.9 681.4 829.8 669.5 843.9 672.5 866 693.9 857.9 690.5 831.8 676.5 857.7 709.1 819.2 700.9 856.8 699.7 846.7 682.7 834 704.5 788.6 684 826.1 682.7 858.5 700.5 858.1 669.5 869.6 702.3 805.9 684.2 825.8 697.2 835.3 692.6 857.4 697 812.2 705.7 790.9 693.3 841.3 689 848.1 668.9 864.4 696.3 813.8 671.7 832.9 688.2 826.3 674.6 871.8 698.6 797.1 695.1 842.3 695.5 858.8 691.8 856.9 675.4 853.5 672.4 851.5 706.6 789.8 682.4 806 704.4 846 675.9 848.1 667.7 830.7 668.9 828.1 672.1 859.1 681.4 853.1 701.9 831.8 680.6 822.9 699.1 858.2 694.3 814.5 689.6 836.3 707.7 825.7 691.8 835.7 671.3 857.5 679.1 859.6 669.2 838.5 682.6 867.6 695.2 856.6 679.9 850.3 707.3 797.7 675.7 840.8 693.5 816.4 706.9 822.2 669.5 828.5 696.7 801.5 673.7 861 684.7 841.7 674.3 850.7 677.3 842.6 686.5 823.5 711.8 831.6 694.7 815.7 687.3 830.3 698.6 814.1 685.6 854.8 708.3 833.8 714.4 816.8 698 844.6 702.1 793.7 694.5 846.2 672 853.6 702.2 827.5 671.9 836.6 712 778.5 699.5 815.4 679.3 825.6 681.1 860.8 677.9 869.5 701.6 827.3 713.1 784.9 695.2 816.7 700.8 833.5 692.6 815.5 706.7 798.3 706.2 771 697.8 844.3 690 800.5 706.7 799 706 780.3 686.6 828.7 675.7 822.6 691.1 809.6 679.4 832.7 699.9 849 669.6 850 681.1 839.8 703.7 816.7 702.4 809.7 677 855.8 699.8 855.1 702.2 840.8 677 846.8 707.5 800.7 680.8 831.4 694.4 814.5 702.2 831.6 678.7 847.3 672 843.9 697.6 826.3 691.6 846 663.2 868.4 697.6 836.5 694.4 831.6 681 809.2 705.9 827.8 699.5 837.1 678.1 861 687.8 857.7 694.4 844.4 698.8 854.6 697.1 794.1 681.4 857.5 681.5 829.7 679.3 855.4 678.1 822.8 671.5 836.9 690.6 835 686.6 820.5 701.6 840.7 668.4 841.5 675 820.5 694.7 804.3 671.7 834.1 680.1 817.5 687.5 822 685.5 862.5 689.6 809 681 865.8 700.4 800.1 671.8 862.8 674.6 860.7 678 838.9 703.2 805 684.1 865 681.7 824.5 674.3 862.8 682.5 790.5 677.3 856.5 707.8 833.9 674.2 850.6 704.5 797.3 694.6 847.8 703 800.9 677.6 852 711.3 791.4 704.6 775.8 692.4 852.2 694.6 860 692.1 812.1 698.4 835.6 702.7 816.8 670.3 863.4 689.5 856.5 674.2 824.7 674.6 858.9 690.3 832.7 687.3 848.7 669.8 852.9 695.5 820.6 686.4 813.5 695.3 838.3 691.8 845.8 675.2 833.8 688 839.9 697.8 831.4 687.6 818 687.2 821.5 678.7 842.9 688.4 843.3 688.3 841.1 677.1 864.3 710.9 830.4 693.9 856.3 692.8 852.9 690.1 839.9 698.4 839.3 705.1 815.2 708.4 832.5 675.4 835.1 696.5 839.2 701.7 805.3 668.1 834.5 689.8 846.5 699.9 821.3 694.5 832 705.5 794.7 689.1 847.2 669.3 864.1 683.4 864.5 704.6 833.8 697.9 802.4 701.5 814.5 676.1 856.8 686.1 845.9 710.1 798.7 708.9 821.6 692.1 838.2 678.5 850.5 685.5 836.3 689.4 820 683.7 862.4 675.6 836.9 687.8 817.3 705.8 810.5 694.5 810.4 672.5 836.6 696.5 821.7 694.8 842.6 705.2 807.4 674.7 863.6 670.7 839.1 676.3 851.1 690.5 807.9 679.5 851.5 708.7 818.7 673.3 851.3 687.2 836.3 687.1 818.2 677 849.2 698.6 819.2 679 836.4 678.7 822.6 703.3 806.6 692 858 690.2 815.5 699.3 813 699.2 788.2 707 831.8 680.6 864.7 677.7 849.7 695.3 831.1 688.4 851.6 682.7 862.4 695.6 828.2 690.1 852 668.9 852.8 678.5 862.7 689.9 838.4 688.8 828.7 694.4 834 674 832.8 691.7 853.3 699.4 835.2 676.3 857.4 684.9 838.1 700.2 794.5 682.7 819 688.4 849.7 704 779.9 677.1 850.4 680.7 837.3 703.8 821.9 691.2 822.7 693.7 852.7 684.5 827.3 706.7 827.8 697.7 825.1 697.9 831.9 671.6 852.6 700.5 826 672.5 835.8 667.2 858.6 667.2 867.3 678.9 872.6 691.8 811.8 674.8 835 663.1 860.6 684.2 846.6 697.8 840.5 681.5 853 679.9 820.2 704.3 797.5 682.6 864.7 699.4 837.8 697 804.9 695 838.6 672 864.4 655.8 851.8 688.7 853.6 690.9 856 673.4 843.6 690.8 842.1 695 835.9 694.2 816.7 683.1 854.2 699.6 844.6 704.8 825.6 705.2 830.8 704.9 825.4 681.1 872.1 705.4 802.5 689.8 838 705.2 820.9 693.4 844.3 694.9 805.6 700.7 849.2 678.2 844.8 701.1 843.4 670.7 832.6 713.1 827.1 698.4 823.6 680.8 826.9 686.2 843.6 684.6 859.7 702.9 811.3 696.6 803.8 682.8 821.2 684.3 859.6 705.9 801.2 691.6 815.4 694.1 862.1 697 819.5 677 847.1 693.9 856.1 692 788.8 705.6 774.6 682.5 847.1 709.5 813 678.6 821.2 686.3 824.6 667.1 840.9 674.9 841.4 686.7 859.3 697.6 801.1 697.6 834.5 682.7 854 706.3 781.5 670.2 819 696.1 830.4 703.6 817.6 704.1 827.8 693.4 833.6 697 807.5 680.2 821.4 698.4 856.7 701.9 810.8 709.3 812.9 671.1 859.5 681.5 843.1 703.3 812.7 669.8 847.5 670.3 861.6 672.4 860.2 682.9 859.3 671.3 857.5 671.2 833 704.1 846.1 690.2 843.5 692 840.7 698.9 813.2 676.1 844.1 704.6 776.4 704.6 842.1 705.2 803.6 705.1 819.8 707.4 845.3 674.1 845.2 696.2 823.7 682.7 834.6 691.8 844.6 701.5 799.8 705.2 766.1 680.5 820.4 693.6 827.4 696.3 830.1 672.7 836.4 698.5 830.2 698.9 829.4 707.6 805.4 694.1 836.1 690.3 828.7 686.4 835.9 676.9 843.9 695.3 841.2 665.1 850.3 695.8 824.5 706.5 825.8 682.8 844.1 685.1 835.7 700 796.8 690 863.3 706 775.7 682.1 866.5 699.5 829.6 691.1 824.8 687.7 813.7 684.9 857.2 681.5 823.4 707.6 808 676.7 865 710.6 810.8 679.2 837.8 684 836.2 680.3 842 704.6 817.6 677.8 829.1 696.7 816.9 698.1 806.1 679.8 848.9 686.7 845.6 711.3 815 684.4 824 679 850.9 699.8 804.6 695.6 823.7 688.8 823.8 685 848.6 669.1 862.8 694.1 837.9 684.3 845.2 682.5 853.7 694.8 857.9 674.6 840.9 670.9 829.2 688 841.2 689.8 854.7 694.9 848.1 707.1 781.4 688.5 846.2 704 808.6 689.4 814.8 668.6 839.5 710.4 838.2 671.2 861.9 680.8 865.3 705.4 788.4 671.4 856.7 684.2 853.4 689.6 834.8 667.3 834.8 698.6 831.2 690.2 851.6 692.5 866.9 670.3 870.3 686.4 844.5 680.4 855.3 705.1 773.9 703.4 829.2 686.6 818.7 702 788.1 683.2 849.3 695.9 821.7 673.5 862.3 680.2 822.1 709.1 836 685.2 819.5 704.9 783.2 707.9 839.8 691.9 805.7 702.1 813.1 670.8 829 676.7 828.5 676.8 857.9 705.6 824.3 695.5 813.4 685.5 786.2 689.7 831.9 705.1 815.4 707 804.5 687.8 817.3 671 825 708 837.3 674.6 832 679.4 830.7 678.9 844.8 696.6 851.2 683.7 836 696.3 843.3 706.6 793.5 674.1 840.3 678.7 839 694.6 823.9 673 849.2 680.8 842.1 683.1 826.4 687.4 824.6 689.9 829.4 672.5 856.8 710.4 832.7 706 793.8 703 797.4 703.6 802.1 685 857.6 697.7 844.6 696.6 827.6 676.4 845 676 828 679.7 826.5 704.8 795.7 675.8 851.6 683.6 827.2 708.7 785.2 685.4 833.6 708.5 799.1 675.1 864.2 675.6 831.4 693.7 812.1 670.8 842.8 687.6 847.9 707.3 795.9 680.7 845.9 695 852.5 678.2 828.8 705.8 796.8" class="m3"/>
<path d="M496.7 1126.6 514 1102.2 513.7 1098.5 481.4 1136.7 498.1 1118.6 503.9 1116.3 480.6 1132.4 505.7 1116.9 468.3 1144.1 479.7 1131.6 509.2 1110.5 514.5 1096.5 496.3 1122.1 486.1 1129.2 477.2 1134.1 513.4 1101.3 505.7 1107.8 490.6 1126 492.1 1122.2 511.4 1108.4 480.6 1132.2 479.2 1128.6 501.4 1125.5 512.8 1107.5 487.8 1121.6 479.9 1128.6 503.5 1109.6 475.9 1133.7 474.3 1145.8 507.4 1120.4 471.9 1140.9 500.6 1112.7 469.6 1139.8 504.8 1108 505.1 1104.2 498.6 1124.5 501.7 1116.9 481.8 1139.4 511.6 1097.3 510.8 1104.3 487.3 1127.3 478.5 1133.7 495.8 1116.6 470.3 1147 506.6 1115.8 505.1 1119.1 488.1 1128.4 497.3 1116.6 512.5 1109.4 503.9 1119.3 510.4 1103.1 487.9 1119.5 493.9 1123.3 468 1142.5 508.4 1111.1 478.8 1165.2 497 1121 496.7 1116.3 494.9 1116.5 503.2 1112.8 505.3 1106.4 506.1 1113.3 487.4 1125.4 487 1130.6 490 1120.3 508.4 1109.5 489.9 1128.9 509.1 1112.4 500.3 1117.1 502.1 1124.6 513.1 1108.1 489.1 1126 510.3 1112.4 476.4 1135 476.8 1156.8 470.7 1141.5 500 1117.3 503.7 1108.8 510.6 1104.7 473.6 1140.8 498.1 1120.4 479.9 1135.5 513.4 1097.6 505.3 1120.8 467 1146.6 493.2 1119.2 517.9 1090.4 512.1 1104.2 510.1 1098.1 494.2 1119.3 506.5 1106.3 479.1 1137 505.2 1118.4 466.8 1159.2 503.3 1119 498.3 1118.9 493.5 1114.3 516.2 1095.3 496.6 1122.8 496.1 1122.5 497.8 1108.3 470.5 1141.7 502.5 1111.9 501.1 1109.7 515 1097.9 498.5 1123.4 511.5 1104.1 502.7 1122.2 490 1123.7 491.5 1121.7 512.3 1109.1 485.6 1125.2 510.1 1106 489.7 1125.7 503.8 1115.6 510.1 1095.8 483.1 1131.7 497.2 1120.8 491.3 1118.3 488.6 1120.9 513.5 1109 495.7 1126.3 475.3 1139.5 512.8 1098.6 474 1141.6 509.2 1105 467.6 1143.9 495.8 1111.8 510.5 1098.6 501.1 1120.9 495.4 1124.1 498.7 1119.8 481.7 1134.2 506.9 1121.8 504 1116 469.6 1141.6 502.4 1113.3 513.4 1095.9 501.6 1114.7 501.3 1118.2 479.9 1127.2 500.1 1125.2 494.9 1125.2 490.5 1128.8 508.6 1114.1 492.5 1127.6 507.1 1111.5 491.8 1126.4 502.7 1105.8 473.4 1139.2 496.6 1115.4 469.7 1142.7 465.1 1146.9 498.2 1119 503.2 1116.8 480.9 1136.2 505.9 1122.1 515.2 1101.8 505.2 1115.6 509.5 1097.5 481.2 1132.1 504.5 1131.5 479.7 1133.1 505.8 1110.1 497.6 1121.8 482 1125.2 498.9 1123.1 490.6 1122.2 512.8 1103.5 476.1 1132.6 501.9 1117.5 499.6 1121.2 479 1153.2 485.4 1132.1 495.8 1122.9 493.4 1116.8 496.9 1117.6 491 1117.1 478 1129.4 485.6 1135 470.4 1146 498.7 1121.2 489.2 1120.8 493.4 1126.3 474.8 1130.3 502 1119.4 473.4 1141.2" class="m4"/>
<path d="M705.5 1090.1 684.1 1139.7 681.5 1123.4 680.3 1140 685.6 1126.8 694.9 1112.1 668.8 1158.8 682.8 1147.5 683.3 1123.1 677.9 1134.8 673.5 1126.7 692.1 1144 696.9 1113.1 680.1 1133.9 698 1115.8 689 1122.5 673.9 1146.7 659.2 1148.8 705.3 1086.8 692.2 1118.3 694.9 1126.7 677.6 1129.3 663.9 1144.8 684.9 1136.8 688 1119.8 683 1158.2 669.4 1145.3 674 1139.1 679.7 1137.5 701.6 1094.1 688.6 1144.3 675.7 1131.3 691.5 1128.6 696.5 1116.6 667.1 1143.3 676.4 1133.1 688 1130.3 677.6 1131.3 690.4 1132.9 695.9 1095.7 691.4 1109 679.7 1147 669.7 1136.5 690.8 1122.9 686.3 1138.7 674.7 1140.4 661.3 1146.5 675.2 1142.2 686.4 1144.2 671.5 1143.2 688.3 1142.8 697.9 1115.3 697.7 1105.5 679.2 1146.5 677.8 1142 699 1113.7 681.2 1140.7 665.3 1144.7 698.7 1113.7 697.5 1103.7 682 1149.4 674.9 1139.3 707.9 1096 684.6 1130.2 687 1125.8 696 1120.8 697.6 1109.1 694.6 1143.7 704.8 1085.8 675.1 1135.1 694.4 1120.4 696.9 1111.8 706.6 1079 684.1 1128.6 678.8 1146.3 678.3 1146.2 692.6 1130.1 700.9 1098.8 680.4 1152.1 697.2 1115.1 685.5 1130.5 671.8 1141.2 670.2 1139.6 684.7 1124.6 686.7 1146.8 690.4 1133 703.8 1094.9 694.2 1123.3 674.9 1137.2 696.4 1123.5 666.4 1142.6 705.3 1100.3 672.5 1133.5 702.2 1095.1 684.7 1130.8 705.2 1096 701 1092.7 692.9 1107.5 684.2 1129.7 687.6 1135.4 683.4 1144.2 689.4 1123.5 692.2 1141.1 678.7 1125.4 691.3 1133.6 685.6 1133.3 698.4 1127.1 695.6 1123.3 673.2 1143.7 700.2 1113 696.4 1118.4 678.5 1133.5 685.2 1140.2 698.3 1113.8 671 1139.6 687.5 1158.2 687.9 1134.7 692.5 1122 684.5 1135.9 679.2 1135.1 672.1 1143.9 694.4 1121.1 694.5 1112.7 695.4 1109.5 693 1109.3 688.6 1140.8 682.2 1127.8 682.6 1141.4 697.8 1098.7 682.1 1152.6 686.5 1133.3 697 1129.1 687.4 1127.3 678.3 1147.5 667.5 1149.5 704.6 1083.7 691.2 1145.2 677.7 1126.9 705.9 1083.9 676.3 1140.5 706.7 1077.9 681.8 1131.4 675.1 1144.5 697.2 1113.4 692.4 1131.6 681.9 1130.4 671.3 1140 669.7 1133.8 699 1099.8 680.7 1134.2 690.9 1122.5 701.3 1099 699.7 1085.7 683.4 1130.9 698.3 1110.9 678.6 1130.3 694.2 1128.3 705 1079.9 686.9 1142.5 701.3 1085.1 692.8 1117.7 676.2 1149.8 696.4 1121.1 696.4 1118.7 672.6 1133.7 672.9 1139.6 698.8 1112.3 678.7 1144 684.7 1145.1 688.2 1122.1 695.1 1105 683.8 1131.7 686.4 1142.3 697.7 1119.3 685.8 1164.8 685.3 1143.8 686.5 1129.4 704.2 1086.9 697.8 1128.2 672.6 1126.7 707.2 1085.8 688 1119.9 671.9 1128.7 688.9 1126.2 703.7 1101.8 700.5 1099.9 670.6 1143.6 676.1 1146.8 685.5 1142.3 670.1 1136.6 671.5 1140.8 666 1140.5 674.6 1133.5 697.2 1122.1 690.4 1129.2 677.5 1149.7 689.4 1126.4 690.7 1147.3 664 1146 689.2 1146.7 703.3 1096.4 682.3 1126.6 706 1080.5 673.8 1133.8 668.8 1148.6 698.1 1101.6 680.5 1137.2 679 1142.3 700.6 1093.4 698.2 1117.2 702.3 1087.2 666.2 1143.4 704.2 1081.5 705 1082.6 669.2 1139.1 684.1 1133.5 697.7 1109 676.1 1127.2 679.1 1139.3 679.4 1147 671.6 1146.8 692.6 1119.5 692.1 1131.4 699.8 1105.4 690.3 1141 662.6 1144.7 685 1148.4 685.3 1141.6 677.9 1129.3 697 1118 680.2 1133.4 688.3 1142.4 680.9 1134.5 687.1 1132.6 665.5 1158.8 675.1 1145.9 687.7 1149.8 665.1 1147.7 696 1117.1 673.1 1142.3 679.4 1127.3 670.1 1136.9 697.6 1106.5 677.1 1136 668.9 1140.5 689.7 1136 696.1 1113.8 690 1138.4 697.3 1106.9 700.3 1089.2 698.5 1123.9 702.1 1095.5 666 1142.8 693.5 1127.4 688.4 1145.9 679.3 1144.4 698.6 1105.9 686 1137.2 704.2 1084.2 688.7 1126 661.3 1144.7 687.7 1144.4 665.5 1144.2 699.2 1106.8 686 1123.1 670.5 1142.9 679.2 1135.2 678.5 1137.2 671.6 1141 692.2 1114.6 693.4 1123.7 693.8 1125 696 1102.1 662.6 1146.7 677.5 1156.2 692.5 1122.3 698 1121.4 698.7 1089.7 702.9 1096.4 681.7 1131.8 693.5 1131.4 674.6 1131 681.2 1129.8 680.1 1139.6 705.9 1087.4 677.5 1132.9 694.1 1120.7 701.9 1114.3 703.6 1085.5 690.8 1121.3 680.9 1141.9 703.6 1109.3 684.8 1127.1 703.9 1090.7 703.6 1094.7 673.8 1137 679.6 1139 677.6 1151 684.1 1133.7 683.3 1129.5 706.1 1092.7 689.1 1125 701.5 1106 696.9 1101.4 696.5 1108.2 668.1 1143 700.5 1109.4 667.9 1143.8 702.1 1080.5 683.6 1124.5 702.3 1095.7 675.3 1135.8 688.8 1141.3 692 1131.1 705.3 1091.5 676 1148.2 692.1 1138 704.4 1089.3 662.7 1142.2 692.4 1136.3 686.3 1135.1 671.9 1146.1 691.4 1133.3 674.2 1141.4 700.6 1102.9 679.1 1128.9 684.5 1139.7 692.6 1127.6 682.5 1141.4 672.3 1129.5 689.3 1124.4 696.9 1110 659.4 1145.5 680.2 1150.5 678.5 1126.9 698.1 1112.5 671.1 1141.5 700.1 1110.2 666.4 1133.9 686.1 1132.1 679.8 1146.4 688.8 1126.4 666 1147.2 663.7 1149.8 673.1 1144.8 677.7 1138.5 682.5 1107 707.3 1084.6 694.7 1109.8 698.2 1116.7 697.7 1116.4 679 1136.3 678.2 1144 685.9 1129.6 707 1085.4 668.5 1132.4 683.5 1136.2" class="m4"/>
<path d="M487 1397.7 526.5 1359.7 470.8 1411.6 484.2 1395.4 455.5 1411.4 501.5 1383.7 470.5 1408.1 523.1 1368.2 522.7 1362.3 447.5 1426.2 482.8 1393.9 491.9 1388.4 522 1349 478.9 1399.7 472.7 1407.6 459.2 1415.3 492.1 1393 515.6 1369.2 458.2 1405.2 467.9 1408.4 466.2 1405.2 462.6 1410.1 466 1405.6 494.3 1392.9 497.6 1383.2 487.9 1389.9 506.3 1367.8 478.2 1397.1 532 1356.9 519.5 1364.5 506.4 1378 486.9 1389.6 460.4 1410 523.3 1364 497.8 1389.2 492.3 1389.9 482.5 1401.2 463.3 1406.5 469 1403.6 508.9 1372 513.6 1369.3 539.9 1347 474.2 1402.3 477.7 1405.2 488.5 1392.8 471.8 1410.3 489.4 1389.7 485.4 1400.1 454.2 1410.3 489.2 1386.9 494.3 1391.9 462.5 1407.1 461.2 1419.4 512.5 1376.4 534.1 1347.6 496.5 1391.5 480.5 1405.8 480.5 1401.4 518 1372.6 482.7 1390.9 476.5 1395.6 484.5 1390.4 475.6 1399.7 470.9 1401.9 485.8 1392.6 477.1 1402.4 504.6 1373.9 452.1 1411 479.9 1396.9 488 1397.4 533.8 1357.2 471.5 1420.8 465.5 1405.5 455.3 1409.5 470.5 1432.5 498.6 1383.8 504.9 1375 465 1403.6 490.9 1388.1 506.2 1380.8 449.4 1414.8 463 1405.6 471.3 1401.5 492.7 1385.1 456.2 1410.8 481.5 1395 531.8 1358.3 478.6 1398.2 487.3 1393.6 490.2 1387.7 505.8 1372.7 460.2 1408.2 524.6 1369.3 505.2 1375.4 522 1363.5 508.4 1375.8 503 1374.4 481.2 1397.3 525.5 1367 481.6 1394.8 491.8 1387 477.6 1396.5 505 1371.5 515.4 1370.5 516.6 1367.8 504.7 1371.4 492.7 1380.8 457.9 1413.1 461.3 1408.3 506.9 1372.6 455.7 1411.1 457.5 1407.2 496.8 1382.7 479.2 1400 532.4 1355 542.3 1338 542 1339.9 494.4 1396.2 461.4 1410.9 462.3 1414 467.4 1403.6 459.2 1418.5 536.6 1344.1 500.9 1384.8 478.4 1404.7 494.6 1384.7 479.7 1396.7 452.7 1413.7 517.7 1363.9 544.1 1335.3 475 1402.1 485.1 1399.6 517.1 1365.5 521.2 1357.1 502.3 1383.5 494.9 1382.1 457.5 1412.3 488.8 1387.4 520.1 1370.5 507.9 1371.9 511.4 1375.9 504.3 1372.9 472.2 1406.4 457.4 1414.3 470 1408.5 494.4 1388.1 521.6 1363.6 458.5 1415.3 477.8 1395.2 482.6 1407.1 481.4 1400.6 452.4 1409.6 461.7 1413.4 481.4 1404.8 489.3 1389 467.5 1424.2 447.1 1416.4 494.7 1389.4 502.6 1381.1 499.7 1381.7 503.7 1378.7 507.8 1382.2 475.9 1398.2 471 1403.6 477.8 1398.7 544.9 1341" class="m2"/>
<path d="M710 1362.9 691.7 1396.5 704.1 1385.8 689.5 1396.9 714.9 1374.7 672.3 1405.7 674.2 1415.6 678.4 1398.3 678.3 1410.4 669.6 1407.5 702.4 1400.3 713.1 1359.9 687.3 1408.2 683.2 1405.5 696.2 1381.3 663.2 1408 666.9 1408 701.8 1392.3 710.3 1379.3 684.5 1401.2 669 1415.3 707.7 1370.9 681.5 1402.8 718.3 1375.8 707.8 1375.8 709.1 1368.3 706 1381.5 697.9 1396.7 715.6 1374 697.9 1403.4 688 1382 691.4 1412.7 661.9 1414.6 713.7 1386.3 660.6 1405.3 708.9 1374.3 698 1399.1 693.6 1403.6 688.1 1414.1 659.5 1409.3 675.7 1411.9 686.4 1405 712.4 1365.8 661.6 1408.5 704.6 1391.4 670.9 1414 708.8 1382.7 674.9 1400.5 719.4 1357.7 672.5 1399.8 705.2 1379.5 684.4 1403.8 693.7 1394.4 711.2 1363.1 670.7 1412 719.3 1355.6 673.4 1407.3 702.9 1387.6 687.8 1411.8 709.9 1385.9 694.7 1397.9 718.7 1363.3 697.8 1385.8 677.2 1417 699.3 1383.1 675.7 1402.6 692.2 1402.6 720.8 1357.5 719.5 1381.5 715.8 1358.1 665.9 1408.4 699.3 1408.3 705 1388.7 690.3 1392.6 691.3 1398.4 667.5 1407.7 701.5 1407.3 700.2 1398.5 712 1362 697.3 1387.7 683.8 1410.1 677.2 1410 686.8 1395.9 676.5 1401.8 697 1392.9 710.8 1380.1 706.8 1397.9 715.9 1368.4 705.1 1393.7 697.3 1382.9 677.6 1413.5 711.3 1370 693.2 1414.1 709.9 1364.8 707.4 1390.7 714.3 1381.4 713.6 1365.3 702.1 1402.3 724.9 1360 720.2 1357.3 721.5 1375.3 668.8 1404.5 687 1409.5 705.2 1373.3 674.6 1411.9 713.8 1364.4 711.2 1384.3 664.3 1409.6 695.9 1393.1 697.9 1390.4 697.3 1391.7 704.4 1389.2 709.2 1382.8 705.3 1402.5 682.8 1398 703.1 1399.3 715.5 1386.3 690.7 1398.5 707.3 1393 715.4 1360 705 1377 696.5 1392.2 680.2 1417.6 657.3 1405.7 678.9 1413.6 681.7 1409.2 668.3 1416.7 702.5 1380 674.1 1415.1 665.3 1417.8 695.7 1401.2 681.4 1410.4 695.5 1396.8 695.9 1393.8 680.5 1399.7 677.7 1403.5 671.2 1403.4 704.2 1373.3 702.4 1380 693.3 1407.2 656.7 1406.5 676.3 1407.8 681.4 1398.7 680.8 1409.7 709.1 1366.9 715.3 1366.5 667.9 1399.2 711.2 1365.4 671.1 1415.2 697 1387.7 711.7 1387.9 708.9 1384 701.8 1378.4 697.5 1405.3 696.8 1402.7 691.9 1407.5 664.2 1404.3 709.5 1395.6 661.1 1411.2 676 1415.3 711.5 1369.5 658.2 1407.7 708.1 1381.7 719 1362.1 677.8 1399.5 719.8 1358.1 678.8 1396.4 678.9 1411.1 705 1380.2 715.3 1373.8 687.8 1408.4 702 1392.3 725.7 1358.7 714.9 1357 683.3 1397.2 717.4 1359.2 698.7 1404.5 684.2 1399 710.7 1401.3 696.2 1399.6 659.6 1407.2 661.2 1417.3 665.1 1408.1 715.5 1358.1 685 1395.7 706.7 1365.8 713.7 1375.3 694.3 1390.7 669 1406 707.6 1375.5 711.9 1363.2 704.8 1391.7 707.3 1391.6 664.4 1411.4 698.4 1384.1 691.2 1396.2 698 1388.7 719.5 1360.2 692.5 1388.6 700.5 1380.9 687.9 1399.3 670.1 1403.2 683.2 1405.8 676.2 1402.3 677 1406 693 1426.8 696.1 1384.5 719.3 1368.3 718.8 1359 669.2 1408.6 669.2 1404.8 673.7 1396 690.4 1411.3 715.7 1377 698.1 1387.9 700.9 1406.7 715.4 1354.2 708 1371.6 698.2 1403.2 692.1 1407.1 693 1408.8 711.7 1370.1 680.5 1411.1 697.3 1392.9 708.7 1386.5 699.1 1407.1 695.1 1387.4 712.4 1362.2 660.8 1414.6 687.3 1405.3 696.7 1387.3 714.6 1392 697 1393.6 690.2 1407.2 680.6 1408.5 694 1394.4 712.2 1367.6 682.3 1413.8 696 1389.6 691.1 1402.6 694.4 1400.1 670.7 1414.9 707.7 1360.3 685 1393.8 712.8 1371.8 692.3 1401.9 704 1376.9 696 1393.4 689.7 1408.9 688.7 1401.2 683.8 1412.2 682.2 1405.9 680.8 1426.2 669.9 1410 684.9 1407.6 702.7 1388.4 659.3 1412 710.3 1384.5 719.8 1374 700.1 1401.6 705.9 1399.6 711.5 1360.6 683.5 1398.8 711.9 1375.7 682.7 1396 671.1 1400.2 665 1415.4 688.3 1395.7 679.4 1400.5 707.7 1377.1 700.5 1406.1 713.2 1355 720.7 1353.9 686.8 1399.1 681.8 1405 709.9 1370.2 700 1398.9 707.2 1389.6 707.2 1370.7 725.3 1360 696.7 1396.6 698 1392.2 703.5 1377.1 678.3 1403.4 695.9 1413.2 674.1 1413.4 683.9 1407.2 678.3 1404.4 691 1407.4 698.9 1387.6 664.3 1420.3 725.2 1332 711.5 1385.4 680.1 1405.4 692.8 1395.5 684.6 1411.7 699.9 1394.5 642.5 1417.5 706.5 1383.3 711.2 1397.5 710 1379.2 718.5 1359.7 675 1414.9 710.6 1364.4 692.1 1395.5 670.9 1408.1 680.7 1408.3 688.7 1401 712.5 1372.2 696.5 1398.5 720.7 1353.3 671.8 1405.4 671.1 1414 677.7 1412.1 711 1364.2 705.7 1394.8 715.2 1371.1 666.6 1413.7 706.1 1393.1 679 1395.9 703.3 1409.3 695.4 1395.4 718.3 1364.6 718.2 1337.5 664.5 1410.5 715 1374.4 666.2 1416.5 648.6 1411 709 1382.6 678.1 1411.6 707.5 1387.9 676.7 1400.8 722.1 1369.1 669.3 1412.8 697.8 1374.3 698.9 1389.1 703.8 1402.9 723 1354.7 710.7 1372.9 698.3 1393.5 703.6 1390.7 712.5 1366.6 708.5 1389.1 681.8 1403.4 693.7 1411.5 716.7 1379.6 711.8 1384.2 659.3 1406.4 664 1401.5 703.3 1405 688 1407.8 675.3 1405.3 690.3 1396.7 682.2 1404.2 708.4 1363.4 716.5 1374.1" class="m2"/>
<path d="M877.2 851.1 901.9 800 906.5 792.1 904.4 800.4 904.5 849.9 887.7 836.5 910.4 797.4 905 839 881.1 841.1 907 794.7 886.9 852.2 885.9 858.6 887.5 856.6 897.5 856.1 906.4 802.6 908.3 853.3 883.9 850.5 887.6 820.8 898.7 841.2 889.3 826.7 898.8 866 899.9 840.4 905.7 816.5 891.1 834.3 884.2 835.2 903.7 858.7 904.8 810.3 861.2 858.8 899.1 803.6 905.9 826.3 886.9 855.9 881.6 818.3 916 786 900.1 822.4 881.6 837.1 904.3 793.9 896.1 855.8 892.5 841.3 898.8 848.4 910.6 848.5 885.4 843.2 912.7 845.5 905.9 793.5 901.1 810.1 904.9 798 906.4 835 885.4 820.8 899.8 832.5 887.6 848.3 909.9 838.9 895.5 816.6 915 773.5 905.1 842.7 891.2 856.1 880.7 830.4 880 787.5 900.2 838.5 864.5 847.5 916.6 816.9 889 865.9 898.6 811.1 904.3 805.2 877 833.5 916 798.5 910.8 831.7 900.1 836.5 899.8 847.7 900.9 811.8 887.3 820.3 909.9 806.2 896 834.6 901.4 858.3 881.1 844.7 905 859.9 888.1 861.2 884.6 843.3 894.6 856.4 895.5 841.1 885.7 835.1 878.9 849.9 913.7 789.7 886.5 851.3 870 820 886.9 851 903.9 844 879.1 843.4 894.2 851.4 898.4 811.5 906.8 855.9 881.9 836.1 901.6 809.1 897 800.5 905.6 840 911.8 839.8 872.5 824.9 905 847.1 881.3 833.8 910.7 800.3 903.8 826.2 895.2 835.4 899.5 853.6 902.1 808.3 899.7 811.1 917.4 796.5 880.1 837.1 890.6 825.6 918.1 801 884.3 857.1 886.9 821.2 910.4 796 900 862.6 908.2 829.3 882.4 851.7 902.6 845.4 884.6 832.1 902.3 813.4 904.8 816.7 891.7 804.5 898.1 854.5 904.6 842.6 883.5 825.3 897.1 861.9 873.7 835.7 895.7 827.6 903.7 835.5 911.5 810.5 893.1 857.3 896 824.4 900.5 805.4 898.8 855.2 909.7 854.5 892.5 813.6 898 834.2 889.8 833.1 903.5 798.9 901.1 823.8 912.8 856.4 909.5 795.4 896.6 849.2 900.7 860.8 904.9 810.3 900.5 860.2 894.4 810.4 895.3 840.7 904.1 842.8 911.1 824.7 892.2 835 895.3 841.4 882.8 856.9 896.4 851.9 904.2 853.9 902.6 812 887.2 835.1 880 838 918.1 799.2 902.9 801 911.3 808.4 907.2 844.2 913.3 788.7 915 848.4 897.6 824.3 897.6 820.2 911.9 798.3 908.6 854.5 892 823.9 872.4 824.7 907.5 791.8 896.2 846.1 891.7 828 880.2 846.5 903.7 861 887.2 839.1 893.2 864.7 911.1 848.7 911 819.1 887.1 855 897.4 838.7 900.7 844.3 912.8 803.4 922.2 800.3 887.5 854.7 903.2 848.5 910 875.5 889.9 856.8 903.3 814.4 899.3 820.9 907.9 798.8 914.5 822.2 902.9 857.4 908.3 848.9 917.5 789.3 888.8 858.8 917.9 791.5 916 779.6 893.3 848.3 891.8 822.2 884.2 795 882.8 855.7 896.4 840 879.6 839.7 890.8 827.9 911.7 853.4 892.3 836.4 893.8 859.3 872.5 828.8 905.3 808.4 904 860 920.6 780 893.7 845.8 909 812.5 896.8 858.9 907.1 805.7 900.6 832.6 892.2 825.8 919.3 807.8 909.8 810.5 884.7 857.9 915.9 852.6 879.2 833.1 882.5 825.8 889.8 837.2 906.9 856.5 895.5 839.3 872.7 834.2 914.3 790.4 907.4 856.4 901.8 830.7 908 794.6 887.4 854.3 886.3 826.9 894.2 826.5 882.7 815.9 881.7 835.6 906.9 830.6 899.2 824.7 908.3 800.2 888.8 807 882.3 830.6 890.4 849.4 899.2 815.4 901.8 810.4 882.4 840.2 904.4 801.1 917.1 791.6 894.3 836.3 892 849.1 889.3 826.3 914.2 824.7 907 839.8 887.2 834 898.8 805.6 898.2 848.5 893.6 853.1 910.6 858.3 896.1 849.5 905.7 841.4 927 833.2 892.3 835.8 906.1 814.7 914.2 803.7 891.1 858.9 906.2 822.5 886.9 833.9 917.1 797.2 904 853.4 906.1 851.6 890.2 841 901.8 826.2 896.1 862.9 888.4 842.8 895.2 857.1 893.4 832 880 824.1 885.1 831 893.4 850 900.9 823 893.7 824.7 903.9 824 907.8 821.4 900.1 843 885.5 836.4 894.6 834.2 891 815.2 858 866.2 905.2 844.7 898.7 824.1 909.1 812.2 909.5 795.8 892.3 827.3 914.4 839 891.5 834.1 889.1 837.7 895.3 836.3 901 847.7 893.9 833.7 902.8 819 892.9 820.9 893.1 846.8 917.7 791.9 877.6 831.4 900.1 820.9 912.8 838.4 903.2 822 896.2 851.8 895 796.2 907.7 825.3 898.5 849 905.5 845.2 904.3 829 881.6 834.5 906.7 856.8 897.1 844.5 900.4 852.4 902.2 843.7 880.4 825.1 851.2 849.2 912.2 791.9 916.8 843 916 795.8 913.6 784.7 887.5 852.2 905 842.1 890.8 868.9 893.3 836.4 886.9 834.2 898.5 820.9 896.9 861.2 905.1 799 901 826.8 897.5 807.6 891.1 856.4 909.2 821.8 903.9 822.6 911.3 790.5 907.2 849.6 881.5 827.5 910.3 814.2 911.6 837.7 899 806.5 908.3 838.9 907.5 795.7 902.8 862.3 886.8 860.6 879.6 818.3 886.7 849.9 915 813.5 904.2 796.9 898.2 798 876.7 831.5 884.5 831.5 884.6 837.7 904 826.4 900.2 853.3 906.9 809.9 894.6 842.9 882.6 843.7 909.9 829.7 906.4 840.5 905.1 822.7 904 818 908.9 828.6 892.3 838.2 905.1 851.4" class="m3"/>
<path d="M1112.1 837.8 1113.6 832.2 1135.2 799.6 1125.4 797.6 1119.6 827.9 1102.9 822.8 1116.5 797.7 1133.1 808.6 1100.4 824.1 1125 802.6 1126.6 806.7 1118.9 818 1129.2 810.7 1119.4 803.6 1109 836.7 1120.9 808 1108.7 805.5 1093.6 828.3 1101.7 817 1125.2 808.5 1098.6 817.5 1097.5 866.8 1094 834.2 1132.3 807.8 1123.6 798 1143.5 790.8 1111.7 824.9 1112.6 810.7 1114.6 824.8 1109.9 833.7 1101.3 820.4 1114.7 817.1 1110.2 832 1103.1 822.5 1130.2 785.8 1114.1 824.9 1095.6 836.9 1106.1 807.8 1106 833.2 1098.3 830.3 1130.7 801.3 1113.8 828.1 1093.4 834.4 1130.5 797.7 1108.1 823.3 1102.8 816.1 1111.9 815.2 1106.9 808.2 1106.7 835.6 1097.2 821.5 1111.3 818.6 1081.2 811.2 1139.4 802 1098.9 808.4 1102.7 842.9 1135.6 805.6 1114.2 806.8 1098.7 842.9 1094.1 826.9 1125.8 802.7 1097.2 839.4 1119.6 804.4 1108.2 833.3 1125 814 1107.6 810.2 1139.5 802.3 1109.3 835.1 1132 824.5 1114.6 799.1 1105.5 810.4 1129.7 802.4 1119.6 825.2 1111 819.6 1135.3 795.4 1103.1 826 1114.7 820.6 1104.5 792 1127.8 810.1 1104.6 813 1145.5 788.9 1108.2 820 1132.7 806.9 1107 807 1108.8 838.2 1125.9 791.1 1132.5 800.1 1097.6 814.6 1114.1 831.6 1064.2 816.2 1106.7 825.8 1144.7 792.9 1110 816.9 1119.1 800.4 1130.9 803.5 1104.7 826.6 1098.1 827.7 1126.3 792.7 1105.7 830.2 1128.6 804.8 1139.8 794.8 1100.9 823.5 1130.1 788.2 1101.1 812.7 1107.5 825 1119.4 822.8 1075.5 813.2 1126.2 781.5 1121.8 802.8 1123.7 821.6 1139.8 796.7 1114.9 826.6 1107.5 795 1103.1 821.7 1095.5 828.6 1127.4 804 1098.3 830.2 1105.6 824 1130.1 814.7 1109 800.6 1094.8 821.3 1114.2 803.9 1083.2 808.8 1125.5 813.8 1124.5 819.3 1125.3 800.4 1111.1 809.8 1108 808.3 1101 842.5 1100.5 831.7 1108 811.5 1117.5 805.6 1109.7 827.5 1126 817 1117.3 816.3 1148.4 792.4 1129.5 811.1 1126.5 798.9 1099.1 811.1 1129.9 815.1 1116.5 826.9 1119.6 805 1115.4 826.6 1108.7 826.7 1112.8 814.5 1128 789.7 1121.9 800.6 1084.5 876.2 1127.2 815.4 1096.8 872.5 1107.2 836.4 1131.5 792.7 1094.2 805.5 1105 824.8 1134.8 796.8 1130.9 796.5 1110.9 806.6 1118 809.1 1101.6 815.7 1095.2 827.7 1134.4 795.9 1138.7 800.9 1129.9 795.6 1112.9 828.2 1105.5 837.5 1115.8 818.1 1091.4 839.3 1119 806.7 1108.6 822.2 1130.8 807 1131.8 800.5 1102.1 820.9 1113.1 809.1 1124.9 814.7 1116.3 819.1 1103.4 838.8 1109.4 810.6 1142 788.4 1100.8 836 1096.4 828 1098 818.2 1103.6 832.6 1098.8 815 1110.8 817.7 1123.3 811.3 1115 800.5 1119.3 818.3 1126.9 809.8 1129.1 814.2 1097.9 827.1 1130.1 799.6 1122.2 798.7 1110.2 828.1 1124.7 801.7 1119.5 824.9 1108.8 807.5 1135.9 790.5 1116.3 803.7 1104.2 817.6 1105.2 834.4 1102.1 832 1131.9 803.2 1097.3 839.5 1089.2 828.8 1119.5 819.7 1123.1 802.5 1097 837.4 1115.1 824.4 1090.8 838.2 1116.2 832.8 1114.7 814.5 1104.5 826.2 1128.9 791.1 1116.4 828.1 1102.6 829.6 1140 798.2 1139.2 788.1 1102.3 811.2 1098 819 1136.8 820.5 1119.1 805.5 1111.7 837.9 1146.1 788 1113.3 838.7 1120.2 790.3 1147.8 786.8 1125.7 790.7 1111.6 819.4 1118.6 802.5 1145.5 795.2 1115.9 823.9 1140.3 790.9 1117.6 814.2 1092.7 840.8 1121 811.8 1133.3 796.2 1137.3 797.3 1111.1 824.6 1117 809.3 1104.4 819.3 1119.7 805.6 1102.4 831.1 1115.7 809.1 1109.3 814.5" class="m3"/>
<path d="M893.4 1110.3 901.3 1108.5 904.4 1093.5 891.6 1113.5 895.5 1130.4 900.3 1131.7 881.5 1124.1 906.2 1113.6 894.8 1132.1 897.9 1100.8 901.9 1098 899.5 1125.2 882 1129.5 911 1104.4 901.8 1138.9 905.9 1133.9 900.2 1094.6 892.4 1135.8 902.5 1136.1 907.4 1125.3 886.4 1119.7 903.1 1091.5 894.4 1132.5 887.6 1106.6 883 1120.5 900.4 1103.6 912 1105.5 892.2 1120.3 874.5 1137.7 878.8 1126.2 892.3 1151.4 881.1 1121.7 879.3 1132.2 909.9 1090.2 900.1 1145.7 880.5 1095.8 891.5 1148.3 886.9 1132.7 888.9 1128.5 898.7 1098.2 901.1 1123.9 876.3 1133.8 893.4 1138.1 902.5 1124.7 893.2 1129.1 893.6 1128.2 889.3 1125.4 850 1141.2 914.2 1116.3 887.2 1123 889.8 1134.5 909.2 1083.6 892.2 1126.2 888.9 1126.4 904.4 1122.3 888.7 1120.3 888.9 1111.4 897.9 1140.3 898.4 1128.4 891.2 1140.3 885.5 1137.9 881.5 1123.8 903.9 1103.8 904 1117 904.9 1144.8 884.8 1134.4 891.9 1128.3 908.3 1108.3 890 1137.4 894.1 1126.8 893.2 1146.8 883.3 1129.3 889.8 1143.2 909.1 1091 884.2 1164.2 898.8 1113.5 881.7 1119.5 910.2 1105.6 882.7 1121.9 875.5 1119.4 901.5 1099.6 888.7 1141.1 891.4 1120.3 907.5 1101.8 897.2 1094 904.7 1137.7 907.1 1104.7 909.1 1116.4 897.6 1102.8 879.6 1121 889 1108.8 910.7 1105.8 885.3 1154.2 875.8 1121.7 889.8 1135.4 885.8 1127.9 881.1 1128.1 894.9 1146.3 906.7 1091.2 875.5 1154.7 879.4 1127.5 898.1 1135.9 862.5 1140 894.8 1092.1 890.7 1142.5 891.1 1097.8 894.6 1103.2 907.2 1130.5 903.7 1124.7 907.6 1101.7 895.6 1140.1 897 1113 880.8 1128.1 885.4 1139.5 890.7 1147.4 909.9 1119.5 896.9 1097.3 893.6 1148.4 905.9 1098.6 901.2 1097.4 909.9 1113.3 882.3 1151.8 893.7 1151.2 885.9 1149.2 904.2 1105.2 913 1122.1 902.5 1093.7 901.2 1135 893.7 1142.7 903.4 1126.7 903.8 1080.5 895.4 1133.3 906.8 1125.3 893 1147.9 898.2 1110 904.6 1094.8 902.1 1140.3 873.2 1137.7 884.1 1113.4 906.3 1090.2 895.9 1127.1 882.5 1154.1 898.5 1136 884 1112 899.3 1140 884.5 1123.1 901 1102.7 893.4 1135.6 885 1143.4 896.9 1112.5 897.2 1095 910.5 1100.2 907.3 1094.9 894.3 1128.3 895.3 1129.3 893.8 1125 869.2 1115.5 889.7 1122.1 892.1 1109.3 886.8 1164.5 893.9 1147.5 879.4 1132 903.3 1122.8 891 1137.7 889.8 1100.7 904.8 1114.3 902.7 1101.1 877 1090 898.2 1133.7 896.3 1138.9 859.5 1149.5 901.7 1103 893.9 1114.5 907.3 1131.3 912.4 1107.7 880.3 1133.1 877.7 1117.3 881.3 1137.6 906.1 1091.7 904.6 1093.7 877.5 1139.5 890.7 1120.8 900.2 1139.5 899 1140.9 911 1115.2 907.7 1107.8 877.4 1124.4 889.9 1151.2 894.8 1119.3 907.3 1082.3 895.3 1134.4 880 1143.7 911 1112.2 878 1149.3 881.4 1137.1 888 1118.2 884.1 1114.1 902.1 1138.5 894.8 1117.7 909.7 1077.7 884.9 1147.4 894.1 1123.3 888 1108.9 879 1130.5 902 1132.6 891.6 1142.3 894.5 1119.9 912.2 1109.4 904.8 1112.2 891.5 1114.4 897.4 1115.1 898.4 1139.8 905.2 1136.7 888.8 1127.3 899.7 1126.3 901.6 1141 891.6 1138.8 896.9 1106.2 887.8 1145.9 891.9 1108.3 878.1 1122.9 903 1109.6 901.2 1104.1 900 1122.3 899.1 1127.6 902.1 1122 911 1106.4 905.3 1139.7 898.7 1132 903.9 1121.8 894.2 1110.2 877.1 1127 875.6 1140.8 910.4 1094.1 904.4 1093.6 892.5 1132.6 901 1126.4 896.6 1139.4 885.5 1142.8 874.3 1137.6 909.5 1111.3 917.4 1109.3 892.8 1121.6 891 1107 888.1 1126.5 901 1104.5 893.3 1118.8 887.6 1153 900.7 1094 893.9 1131.2 909.3 1105.7 901.7 1128.4 910.2 1104.5 904.9 1113.9 905.4 1115.2 893.6 1111.6 884.8 1156 895.4 1133.5 903.6 1089.1 907.7 1094.9 905.6 1123.1 886.6 1126.3 903 1097.9 905.8 1122.1 891.3 1120.9 890.5 1145 904.6 1120.3 900 1110.4 880.5 1123.3 903.9 1113.7 913.2 1108.6 909.9 1122.5 887.4 1122.6 894.1 1142.6 875.2 1137.4 894.7 1134.1 856.8 1155 902.7 1107.3 899.3 1140.3 886.3 1115.8 894.1 1139.2 885.1 1132.1 911.3 1098.1 902.9 1111.8 896.7 1096.9 884.6 1124.5 904.8 1101.3 892.6 1137.1 894.8 1139.9 894.5 1140.1 896.4 1126.8 897 1140 901.3 1130.9 897.5 1120.1 911.2 1135.9 901.2 1119.9 903.7 1125.2 900.3 1100.7 902.2 1133.6 888.2 1117.6 899.8 1122.9 898 1131.9 884.5 1148 883.1 1130.4 881.4 1125.9 899.7 1128 906.5 1104.4 887.5 1111.2 881.9 1151.9 905.6 1109.6 894.4 1109 901.5 1104.3 883.7 1128 884 1138 883.1 1141.4 909.1 1117.9 906.8 1109.3 899.5 1095.5 904 1143.9 903.2 1095.9 884 1118.8 883.7 1140.3 891.3 1149 890.6 1149.3 884.7 1119.3 895.6 1120.2 900.9 1116 899.4 1135.8 873.3 1136.3 878.3 1129.1 891 1119.5 889.6 1120.3 900.4 1128.7 914 1114.8 866.2 1120.5 901.6 1106.7 905.9 1136.6 874 1133.9 907.1 1085.9 894.7 1121.7 886.4 1132.6 881.6 1139.7 906.8 1105.1 908.3 1082.2 911.2 1108.3 887.7 1136.2 876.1 1134.7 883.9 1148.9 907.5 1107.7 875.9 1133.5 895.7 1112.7 881.2 1140.4 906.9 1107.8 898.8 1128 884 1150.2 888.1 1118.6 903.9 1095.6 893 1135.4 881.8 1145.4 910.7 1090.7 883.5 1140.8" class="m4"/>
<path d="M1099.8 1127.8 1115.9 1097.9 1090.2 1131.4 1095.5 1116.6 1112.2 1116.9 1118.8 1089.2 1099.7 1117.8 1090.5 1089.2 1090.7 1119.5 1113.8 1096.6 1115.8 1092 1083.7 1123.5 1110.5 1100.4 1086 1129.1 1103.9 1093 1118.4 1090.6 1096.1 1113.1 1122.1 1088.8 1118.6 1111 1102.6 1120.7 1062 1118.5 1111.4 1093.9 1092.1 1124.3 1105.7 1117.1 1081.1 1141.9 1103.6 1109.9 1109.3 1102.4 1117.1 1097.2 1120.8 1099.4 1094.1 1104.1 1091.5 1111.6 1096.1 1118 1103.1 1102.8 1050.5 1132.2 1092.9 1126.1 1082.5 1162 1112.3 1105.2 1116.4 1105.7 1121.4 1099.2 1112.6 1099.3 1119.4 1112.1 1095.8 1104.1 1092.3 1119.9 1096.4 1097.9 1086.9 1128.3 1101.5 1116.6 1093.7 1105.4 1109.7 1102.1 1110.3 1103.3 1109.1 1095.9 1104.9 1108.6 1088.3 1135.8 1110 1098.7 1091.1 1137.9 1078.7 1135.9 1107.7 1099.3 1095.6 1120.4 1123.1 1092.1 1088.8 1116.5 1083.2 1125.3 1099.5 1099.5 1135 1074.5 1091.8 1135.4 1111.6 1093 1106.9 1110.6 1095.1 1121 1100.3 1109.3 1116.4 1097.9 1083 1152 1088.3 1119.5 1112.3 1099.5 1091.7 1108.3 1116.7 1097.9 1082.4 1141.5 1105.9 1096.4 1113.9 1098.5 1094.8 1114.1 1131.5 1087.3 1121.4 1097.5 1118.4 1101 1112.3 1087.4 1104.3 1123.4 1116.1 1089.2 1099.8 1121.2 1078.9 1126.5 1100.9 1109.2 1101.2 1118.6 1105.2 1099.1 1113.4 1089.4 1095.3 1115 1094 1102.6 1090.3 1119.2 1093.2 1149.2 1087.3 1124.8 1091.5 1109.8 1088.3 1117 1103.3 1112.5 1118.8 1096.6 1105.9 1100.5 1109.1 1096.1 1116.5 1088.7 1097.8 1099.5 1089.6 1129 1081.2 1130.8 1110.5 1112.4 1108.8 1098.2 1113.2 1113.2 1079.6 1142.8 1077 1148.8 1093.9 1108.1 1119.2 1091.8 1124.1 1099.2 1086.8 1124 1073.4 1145.6 1093.8 1095 1070.8 1164.2 1115.4 1086.1 1096.6 1105 1106.4 1097.9 1093.3 1109.9 1109.3 1118.7 1132.2 1080 1101.7 1108.1 1081.7 1115.5 1081.7 1115.4 1084.4 1128.6 1125.1 1085.9 1079.1 1137.6 1095.8 1104.9 1118.3 1107.7 1088.3 1129.8 1078.2 1139.4 1080.7 1134.2 1102.4 1111.6 1093.9 1116.2 1086.5 1137.8 1116.7 1107.6 1095 1107.7 1101.5 1106.5 1100.9 1124.7 1079.5 1116.8 1088.9 1128.8 1094.7 1117.1 1104.5 1116.5 1104.9 1115.6 1098.2 1102.3 1107 1096.7 1106.9 1104.8 1091.9 1134.7 1116.4 1106.2 1100 1144.2 1103.3 1105.3 1118.3 1107.4 1099.1 1116.7 1088.5 1121.3 1119.6 1091 1095.9 1113.5 1079.3 1135.3 1098.6 1098.2 1116.3 1094.8 1083.8 1132.2 1089.8 1137.6 1099.6 1123.4 1124.6 1092.9 1120.6 1102.4 1087.2 1115.1 1114.8 1108 1113.5 1102.7 1085.5 1145.1 1122.8 1093.2 1088 1122.9 1117.5 1099.1 1084.9 1106.1 1097.9 1101.5 1111.6 1093.8 1083.1 1108 1107.5 1113.6 1084.3 1122.2 1097.5 1120.3 1082.3 1132.9 1087.1 1125.6 1105.8 1117.6 1119.3 1103.3 1108.5 1111.8 1093.4 1126.5 1083.6 1116.6 1116.7 1100.2 1125 1094.1 1082.9 1135.5 1084.9 1136.8 1118.5 1087.7 1079.3 1114 1093.3 1111.5 1113.9 1098.3 1091.1 1114.7 1110.1 1098.8 1104.5 1109.8 1083.1 1134.4 1116.8 1100 1121.7 1095.3 1113.9 1112.4 1112.6 1093.4 1107.2 1108.4 1089.7 1131.2 1108.8 1089.7 1069.5 1143.8 1119.9 1091.3 1113.1 1106.9 1099.4 1110.1 1090.5 1117.5 1122.6 1091.4 1107.2 1105.2 1106.5 1104.5 1091.8 1107.4 1111.7 1096.6 1121.6 1112.1 1110.5 1091.5 1075.7 1137.8 1067 1123.8 1086.9 1124.7 1095.6 1124.3 1081.1 1122.5 1088.3 1123.8 1102.7 1103.3 1086.2 1121.5 1095.7 1109.5 1096.1 1124.6 1096.4 1102.1 1094.3 1111.6 1102.4 1101.1 1093 1129.9 1120.5 1094 1087.1 1107.2 1084.3 1139.3 1101.8 1102.9 1115.8 1106.6 1079 1135 1101.5 1112.9 1124.1 1108.2 1099.6 1120.4 1085.3 1120.6 1101.6 1116.6" class="m4"/>
<path d="M912.7 1390.4 906.1 1369.3 896.4 1377.7 926.5 1376.4 915.2 1364.2 889.5 1404.9 907.7 1392.1 891.7 1392.5 892.5 1386.6 892.3 1406.5 892.5 1383.7 902.7 1391.4 912.9 1372.3 893.9 1386.1 913.6 1372.9 924.5 1367.6 894.8 1377.2 924.6 1362 886.1 1400.3 882.6 1389.5 903.3 1369.4 890.7 1395.6 892.3 1378.1 919.9 1385.7 889.7 1386.7 931.3 1353.7 921.4 1379.2 898.4 1371.3 903.2 1389.4 881.9 1406.3 900.2 1374.6 935.7 1357 924.3 1348.8 925.5 1373.5 900.9 1381.6 907.8 1382.7 926.7 1369.1 884.4 1396.1 894.2 1402.3 882 1397.6 923.6 1375.9 934 1345.6 892.5 1399.8 904.2 1378.6 907.7 1361.9 886.4 1392.6 919.3 1368.8 900.6 1370.5 895.5 1402.7 886.5 1393.9 880 1420 917.6 1357 913.1 1382.5 908.2 1381.2 918.8 1368 915.6 1378.7 913.7 1358.2 858 1428.8 892.7 1381.3 909.1 1393.5 888.2 1379.8 907.3 1384.5 901.5 1373.8 927.5 1370.5 892.8 1379 884.4 1376.6 937.6 1352 913 1385.1 881.1 1393.2 877 1394.1 899.7 1399 900.9 1393.9 912.8 1382.9 927.3 1368.6 916.7 1354.5 928.6 1345.9 910.5 1377.7 910.3 1385.2 881.8 1350.5 927 1354.3 899.5 1369.7 925.6 1361 885.5 1389.7 892.5 1382.1 922.3 1356.5 909.3 1375.4 880.9 1402 879.3 1408.8 891.2 1405.5 887.2 1405 933.9 1357.7 845 1433 930.7 1346.1 882.8 1396.9 925.9 1366.9 920 1357.2 910 1361.1 911.9 1386.7 920.5 1372.5 935.9 1346.3 916.4 1355.4 923.8 1350.6 925.6 1355.9 892.4 1399.4 916.2 1354 884.7 1393.4 908.7 1395.7 913.1 1374.1 899.7 1388 902.2 1391 891.6 1398.3 881.9 1402.1 891.1 1379.9 901.4 1378.7 889.2 1392.8 893.2 1390.1 927.3 1359.8 931.8 1362.6 894.5 1384.3 888.8 1397.7 935.1 1341.1 903.9 1386.6 924 1356.1 909 1357.2 911.8 1375.4 862 1420 914.6 1358.6 906.5 1391.9 879.2 1383.1 925.9 1378.4 925.4 1361.7 872.2 1395.7 900.8 1396.8 903.2 1377.2 912.1 1398.1 912.1 1384.3 929.1 1363.4 913.6 1378.7 920.7 1358.2 911.2 1370.5 933.4 1346.9 898.2 1377.1 906.1 1392.3 903 1389.1 890.8 1383.9 853.8 1421.2 889.6 1391 919.5 1373 892.3 1400.2 910.8 1359.9 904.7 1373.4 910.7 1372.2 888.4 1392.4 933.3 1347.1 914.2 1380.9 886.2 1388.8 890.5 1408.7 898.2 1388.4 915.2 1380.6 915.4 1365.8 914.3 1376.3 898 1393.8 927 1376.2 888.2 1420 931.8 1355.1 926.6 1352.8 921.1 1363.5 912.8 1388.1 922.3 1380.2 904.6 1375 919.5 1379.9 896.6 1386.4 900.8 1396.5 888.1 1401 924 1358.4 919.1 1369.4 914.5 1378.7 906.6 1377.3 884.9 1400.4 897.5 1417.5 924.2 1356.4 913 1387.9 911.2 1381 892.1 1387.7 897.3 1399.1 904.8 1391 896.9 1375.9 885.8 1388 926 1385.3 926.5 1372.4 919.2 1353.8 917.5 1358.5 908.5 1362.7 893 1377.7 927.5 1363.8 932.9 1349.6 890.1 1385.2 899.6 1384.7 913.9 1377.8 910.2 1389.7 880.8 1396.7 881 1400.5 877.7 1397.7 884.2 1392.7 893.1 1372.5 904.5 1402.4 887.5 1363.2 906.3 1366.5 874.6 1396.4 892.8 1411.2 885 1375 905.5 1380.9 923.3 1356.5 899.7 1385.6 891.8 1404.4 884.7 1401.7 905.6 1372.4 883.4 1403.5 901.9 1386.3 930.4 1361.7 875.7 1404.4 936 1341.2 862.5 1417 879.2 1389.7 891.2 1400.2 907.8 1376.6 924 1387.5 935 1339.6 923.9 1365.7 901.5 1389.8 908.1 1388.1 883.4 1405.1 914 1356 880.5 1392.5 931.5 1361.7 932 1348.9 914.9 1363.8 890.7 1382.8 900.8 1382 912.4 1368.3 925.1 1352.8 881.2 1392.5 924.7 1375.6 913.3 1374.2 902.6 1397.3 883.2 1399.1 915.4 1374.3 914.7 1376.5 928.4 1367.5 935.9 1347.4 927.7 1376.7 903.2 1390.9 934 1358.5 921.8 1382.1 925.5 1364.8 916.5 1385.1 885.8 1392 907.4 1368.2 926 1358.5 903.8 1372.2 920.8 1376.9 930.5 1368.1 931.9 1355.3 923.1 1377.8 904.4 1372.3 883.6 1398.8 889.1 1404.5 911.6 1364.2 904.4 1390.5 898.1 1374.1 934.4 1354.2 901.7 1364.3 924.3 1375.6 896 1376.8 882.5 1400 894.1 1375.9 885.1 1387.6 905.7 1390 891.7 1396.2 876.6 1396.8 890.2 1389.2 923.1 1379.5 903.4 1390.8 900.6 1376.6 911.9 1374.7 934.5 1372 900.2 1377 924.6 1363.3 934.2 1358.5 889.9 1383.3 881.9 1387 901.5 1371 901.9 1376.1 929.8 1352.9 903.4 1397.3 904.7 1390.7 894.4 1387.6 919.2 1372.2 940.7 1343.2 884.1 1376.8 885.8 1404.4 907.9 1394 901.7 1394 894.2 1403.7 910 1380.5 896.1 1392.1 872 1381.2 881.8 1396.4 898.1 1389.2 911.8 1355.2 927.5 1351.1 916 1360.7 894.4 1388.9" class="m2"/>
<path d="M1113.2 1376.8 1116.3 1373.6 1097.1 1384.7 1083.8 1404 1134.7 1356.3 1125.7 1357.8 1110.1 1372.5 1126.6 1363.8 1106.3 1384 1126.8 1363.7 1080.5 1398.5 1116.5 1362.6 1087.6 1406.1 1118.2 1365.4 1093 1404.1 1095.3 1384.7 1068.2 1440.5 1101.5 1382.4 1127.5 1365.1 1096.6 1391.1 1121 1365.7 1097.3 1384.1 1108.4 1373.2 1083.6 1403.8 1122.2 1362.6 1084.4 1400.9 1082.1 1394.2 1083.8 1402.9 1108.8 1385.1 1135.2 1352.7 1073.4 1406.6 1097 1386.2 1130.4 1359.8 1090.4 1388.6 1089.2 1385.3 1135.2 1356.6 1103.7 1381.4 1082.2 1390.7 1095.2 1401 1102.2 1379.2 1076.1 1406 1096.9 1387.8 1094.2 1390.1 1110.4 1371.6 1123.2 1360.6 1108.9 1370.5 1106.4 1380.1 1097.4 1385.6 1122.4 1367.6 1098.5 1398 1079.4 1404.3 1094.7 1390.8 1091.8 1392.3 1132.4 1352.4 1085.6 1398.5 1123.4 1363.5 1118.5 1369.7 1115 1380 1090.7 1392.1 1126.6 1360.5 1096.4 1389 1102.8 1376.4 1083.6 1402.6 1096.6 1384.7 1133.4 1356.6 1105 1409.5 1093.2 1401.1 1131 1359 1100.8 1374.5 1104.4 1377 1086.5 1397.6 1085.8 1419.2 1101.3 1394.1 1114.9 1369.4 1076 1398.7 1121 1360.8 1090.9 1394 1099.5 1379.7 1107.7 1377.1 1096.6 1378.1 1125.2 1358.9 1079.5 1394.8 1103.5 1388.2 1104.4 1368.3 1095.5 1397.9 1106.3 1378 1118.6 1364.9 1114.4 1373.9 1082.8 1393.4 1093.9 1402.3 1121.4 1362.5 1146.4 1343.8 1117.7 1379 1091.6 1403.6 1075.6 1402.9 1127.4 1365 1096.7 1389.8 1107 1374.9 1119.1 1373 1082.6 1399.3 1111.1 1383 1080.2 1398.9 1112.3 1366.5 1128.9 1352.8 1142.5 1339.2 1131.3 1359.9 1079 1397.1 1128.1 1358.6 1123.4 1360.5 1110.6 1367.7 1093.3 1388.4 1083.4 1396.1 1129.2 1363.3 1124.5 1366.4 1099.1 1398 1074.3 1404.9 1098.5 1391 1136.2 1354.4 1085.1 1393.9 1137.6 1356.4 1095.2 1393.6 1084.6 1399.6 1137.1 1353.1 1095.9 1383.9 1099.4 1376 1096.5 1387.6 1125.4 1366.5 1114.7 1369 1091.2 1387.3 1126.4 1361.7 1095.1 1388.3 1122.5 1373.3 1116.1 1367.2 1076.5 1400.7 1087.5 1388.7 1114.8 1372.6 1130.6 1357.7 1102.7 1385.2 1075 1399.7 1080.4 1402.9 1133.8 1358.1 1115.3 1374.1 1117.5 1371.1 1127 1354.9 1113.7 1365.7 1082 1396.5 1064.5 1428.8 1106.4 1392.6 1102.7 1378.3 1098.6 1382.1 1084 1396 1116.7 1367 1119.8 1369.7 1123.5 1357 1108.6 1376.6 1090.9 1392.3 1105.7 1372 1084.2 1433.8 1086.1 1401.3 1097.1 1388.9 1124.3 1362.8 1071 1405.5 1105.6 1388.4 1059.2 1427 1075.4 1405.7 1111.9 1381.9 1104.3 1378.7 1082.2 1388.9 1070.9 1404.3 1139.3 1353.8 1128.2 1356.4 1140.1 1350 1108.5 1379.2 1095.1 1381.4 1088.6 1393.6 1083.8 1396.6 1099.5 1376.7 1112.1 1371.6 1087.2 1392.4 1107 1374 1107.3 1389.9 1097 1397.7 1110.3 1369 1117.5 1369.2 1045.5 1448.8 1104 1375.5 1109 1380.5 1138.6 1353 1122.8 1362.8 1077.2 1397.5 1114.2 1368.7 1126.7 1357.1 1081.4 1399 1084.5 1400.2 1077 1416.2 1119.6 1358 1081.5 1404.3 1080 1391.9 1119.6 1370.9 1108.3 1377.2 1113.4 1375 1102.9 1375.7 1078.5 1404.9 1119.1 1368.9 1118.5 1369.9 1074.5 1396.1 1085.5 1396.2 1122.5 1356.1 1075.4 1402.8 1117.1 1376.3 1099.6 1383.7 1119.9 1375.1 1085.2 1394.8 1132 1360.2 1115.1 1375.9 1125.1 1360.4 1117.8 1360.4 1127.9 1357.6 1097 1394.3 1093.9 1402.7 1082.8 1389.5 1073.1 1402.2 1133.6 1356.2 1080.8 1403.7 1103.3 1384.5 1092 1406.7 1113.6 1367.4 1102.6 1391.5 1100 1377.4 1091.3 1397 1080.5 1400.8 1091 1397.7 1118 1369.9 1108 1381.9 1079.6 1406.8 1126.8 1358.5 1097.3 1399.9 1091.3 1388.8 1106.1 1381.2" class="m2"/>
<path d="M1311.8 805.3 1303.4 795.8 1319.3 785.3 1323.7 793.8 1300 838 1323.3 792.2 1324.3 790 1310.7 794.2 1342.5 787 1317.7 809.2 1323.4 800.7 1326.6 794 1319.9 789.8 1309.8 801.2 1333.9 783.6 1318.6 789.8 1335.7 787.8 1348.1 784.1 1321 804.7 1320.8 798.8 1339 791.9 1321.3 799.4 1323.7 789.1 1331.7 803.3 1325.2 805.9 1318.8 795 1312.5 801.8 1313.3 797.2 1326.4 808.2 1315.1 798.5 1314.8 796.8 1325.8 785.7 1319.2 799.4 1317.8 804.9 1322.5 786.5 1309.2 823.2 1324 789 1327.9 796.6 1333.4 791.1 1322.5 803.7 1328.6 787.3 1327.3 788.3 1342.4 797.6 1320.9 803.1 1319.1 788.3 1339.6 787.5 1340.1 786.6 1335.7 795.4 1333.1 793.3 1330.7 796.8 1326.8 787.8 1332.1 804.7 1306.8 876.2 1312.7 789.7 1332.2 805.2 1341.4 802.2 1338.6 792.7 1301.2 823.2 1317.3 795 1289.5 832.5 1315.5 806.5 1333.5 799.1 1314.9 799.3 1343.7 796.3 1331.1 795.2 1319 793.3 1340.2 786.2 1303.8 838 1333.4 781.1 1334.1 787.8 1301.1 799.2 1338.1 793" class="m3"/>
<path d="M1294.8 1116.5 1297.8 1108.5 1320.2 1097.6 1303.5 1101.4 1313.3 1112.3 1312.6 1104.9 1309.3 1104 1312 1095.8 1293.1 1119.9 1286.3 1121 1305 1117.7 1302.9 1116.3 1311.1 1103.9 1292.6 1119.2 1293.8 1110.1 1290.6 1127.4 1299.6 1111.6 1294.6 1108.2 1301.6 1111.3 1301.5 1102 1300.4 1102.8 1287.9 1123.9 1285.7 1120.2 1316.5 1105.3 1291 1125.2 1286.5 1165.5 1286.5 1129.1 1302.8 1102.6 1312.3 1103.5 1300 1111.9 1315.1 1103.6 1319.7 1097.4 1296.2 1109.2 1301.1 1098.4 1305.8 1099.3 1284.9 1120.7 1313.9 1095.1 1292.3 1117.8 1313.7 1108.2 1294.4 1117.7 1314.2 1106.8 1305.6 1108.4 1281.2 1116.8 1286.3 1118.8 1316.8 1096.1 1302.4 1107.4 1287.8 1114.2 1310.8 1110.3 1299.2 1114 1304.4 1102.7 1301.5 1110 1272 1143.2 1298.6 1114.9 1307.1 1100.7 1309.6 1099.7 1307.4 1108.2 1288.8 1120.1 1313.6 1095.1 1299.3 1106.5 1285.2 1126.6 1285.9 1124.2 1306.8 1097.7 1320.4 1096 1304.5 1109.1 1303 1104.4 1291.2 1111.7 1301.4 1112.8 1316.5 1094.6 1318.6 1101.3 1291.9 1113.3 1299.4 1101.1 1306.2 1101.5 1300.1 1107 1293.6 1111.3 1306.7 1096 1318.2 1103.3" class="m4"/>
<path d="M1287.3 1383.9 1319.1 1377.7 1331.8 1374.6 1328.9 1359.9 1272.8 1399.2 1274.4 1403.4 1331 1360.7 1309.2 1376.6 1292.4 1395.1 1297.4 1388.6 1272.5 1434.5 1286 1381.5 1263.8 1405.8 1286.1 1395.8 1332.5 1361.4 1308.1 1381.2 1352.5 1340 1246.2 1438.8 1296.3 1392.2 1284.7 1383.9 1332.2 1359.3 1280.3 1395.2 1281.1 1403.6 1312.4 1373.3 1297.8 1379.3 1286.9 1400.7 1276.6 1398.1 1328.1 1360.1 1281.9 1390.2 1287.4 1390.1 1265 1422 1314.5 1374.4 1273.4 1406.4 1325.8 1406.2 1325.7 1364.9 1285.8 1398.5 1267.5 1406.2 1324.3 1379.9 1272.8 1399.9 1301.1 1380.5 1327.9 1376.9 1345 1355 1325.6 1366.4 1281.4 1396.3 1287.2 1405.1 1316.1 1378.1 1307.7 1371.5 1288.9 1380.3 1292.8 1396.5 1296.8 1382.4 1273.2 1410.7 1280.3 1389.7 1273.3 1399.2 1318.9 1368.2 1321.5 1379.3 1298.6 1390.8 1350 1347.5 1315.1 1378.6 1265.6 1409 1297.6 1391.7 1279.8 1403.7 1286.5 1391.2 1307.8 1380 1267.8 1408.5 1283.1 1408.3 1270 1433 1334.8 1355.8 1297.5 1378.6 1305.3 1380.7 1331.8 1366.4 1332.6 1374.3 1267.7 1407.3 1271.5 1407.1 1292.9 1386.2 1291.2 1392.1" class="m2"/>
<path d="M1404.2 713L1462 792M1463.2 877L1406 955" fill="none" stroke="#231f20" stroke-width="2.2"/>
<text x="1427.5" y="620" font-size="72" text-anchor="start" font-weight="bold" fill="#0d1013">e</text>
<rect x="1577" y="655.8" width="19.5" height="263.4" fill="#8cc063" stroke="#231f20" stroke-width="2"/>
<rect x="1596.5" y="737.6" width="19" height="181.6" fill="#3b7fa0" stroke="#231f20" stroke-width="2"/>
<rect x="1615.5" y="814.6" width="19.3" height="104.6" fill="#bf6bae" stroke="#231f20" stroke-width="2"/>
<path d="M1563.6 642V919.2H1647M1555.1 676.8H1563.6M1555.1 737.2H1563.6M1555.1 797.8H1563.6M1555.1 858.5H1563.6M1555.1 919.2H1563.6" fill="none" stroke="#231f20" stroke-width="2" stroke-linecap="butt"/>
<text x="1548.5" y="684" text-anchor="end">0.8</text>
<text x="1548.5" y="744.5" text-anchor="end">0.6</text>
<text x="1548.5" y="805" text-anchor="end">0.4</text>
<text x="1548.5" y="865.7" text-anchor="end">0.2</text>
<text x="1548.5" y="926.4" text-anchor="end">0.0</text>
<text transform="translate(1504,791.5) rotate(-90)">Adjusted MAE of <tspan font-family="Liberation Serif">Δ</tspan><tspan font-style="italic">G</tspan>°<tspan dy="7" font-size="12" font-style="italic">37</tspan><tspan dy="-7"> (kcal/mol)</tspan></text>
<rect x="1754.2" y="650.1" width="19.9" height="262.5" fill="#8cc063" stroke="#231f20" stroke-width="2"/>
<rect x="1774.1" y="748.2" width="19" height="164.4" fill="#3b7fa0" stroke="#231f20" stroke-width="2"/>
<rect x="1793.1" y="826.6" width="19.4" height="86" fill="#bf6bae" stroke="#231f20" stroke-width="2"/>
<path d="M1744.9 637V912.6H1822.4M1736.9 669.2H1744.9M1736.9 718H1744.9M1736.9 766.6H1744.9M1736.9 815.2H1744.9M1736.9 864.1H1744.9M1736.9 912.6H1744.9" fill="none" stroke="#231f20" stroke-width="2" stroke-linecap="butt"/>
<text x="1723" y="676.4" text-anchor="end">1.0</text>
<text x="1723" y="725.2" text-anchor="end">0.8</text>
<text x="1723" y="773.8" text-anchor="end">0.6</text>
<text x="1723" y="822.4" text-anchor="end">0.4</text>
<text x="1723" y="871.3" text-anchor="end">0.2</text>
<text x="1723" y="919.8" text-anchor="end">0.0</text>
<text transform="translate(1679.5,792) rotate(-90)">MAE of <tspan font-family="Liberation Serif">Δ</tspan><tspan font-style="italic">G</tspan>°<tspan dy="7" font-size="12" font-style="italic">37</tspan><tspan dy="-7"> (kcal/mol)</tspan></text>
<text x="1782.3" y="956">Model</text>
<rect x="1921.9" y="860.9" width="19.3" height="46.2" fill="#8cc063" stroke="#231f20" stroke-width="2"/>
<rect x="1941.2" y="749.9" width="19.3" height="111" fill="#3b7fa0" stroke="#231f20" stroke-width="2"/>
<rect x="1960.5" y="656" width="19.4" height="204.9" fill="#bf6bae" stroke="#231f20" stroke-width="2"/>
<path d="M1902.9 642.8V920H1902.9M1894.9 657.5H1902.9M1894.9 708.4H1902.9M1894.9 759.3H1902.9M1894.9 810.2H1902.9M1894.9 860.9H1902.9M1894.9 912H1902.9" fill="none" stroke="#231f20" stroke-width="2" stroke-linecap="butt"/>
<text x="1888" y="664.7" text-anchor="end">0.8</text>
<text x="1888" y="715.6" text-anchor="end">0.6</text>
<text x="1888" y="766.5" text-anchor="end">0.4</text>
<text x="1888" y="817.4" text-anchor="end">0.2</text>
<text x="1888" y="868.1" text-anchor="end">0.0</text>
<text x="1888" y="919.2" text-anchor="end">−0.2</text>
<path d="M1895 860.9H1992.7" fill="none" stroke="#231f20" stroke-width="2"/>
<text transform="translate(1853.5,784) rotate(-90)"><tspan font-style="italic">R</tspan><tspan dy="-7" font-size="11">2</tspan><tspan dy="7"> of </tspan><tspan font-family="Liberation Serif">Δ</tspan><tspan font-style="italic">G</tspan>°<tspan dy="7" font-size="12" font-style="italic">37</tspan></text>
<rect x="1577.6" y="990.6" width="26" height="9" fill="#8cc063" stroke="#231f20" stroke-width="2"/>
<text x="1624.9" y="1001.2" font-size="24" text-anchor="start">NUPACK <tspan font-style="italic">dna04</tspan> model</text>
<rect x="1577.6" y="1021.3" width="26" height="9" fill="#3b7fa0" stroke="#231f20" stroke-width="2"/>
<text x="1624.9" y="1031.9" font-size="24" text-anchor="start">NUPACK-compatible <tspan font-style="italic">dna24</tspan> model</text>
<rect x="1577.6" y="1052" width="26" height="9" fill="#bf6bae" stroke="#231f20" stroke-width="2"/>
<text x="1624.9" y="1062.6" font-size="24" text-anchor="start">Rich parameter model</text>
<text x="1433" y="1193.5" font-size="72" text-anchor="start" font-weight="bold" fill="#0d1013">g</text>
<text x="1493" y="1210.5" font-size="32" text-anchor="start" font-weight="bold" fill="#0d1013">On an orthogonal duplex dataset</text>
<rect x="1609" y="1257.7" width="14.5" height="223.1" fill="#8cc063" stroke="#231f20" stroke-width="2"/>
<rect x="1623.5" y="1260.3" width="14.5" height="220.5" fill="#3b7fa0" stroke="#231f20" stroke-width="2"/>
<rect x="1637.9" y="1245.5" width="14.4" height="235.3" fill="#bf6bae" stroke="#231f20" stroke-width="2"/>
<text x="1631.6" y="1508.3" font-size="20.5">0</text>
<rect x="1680.5" y="1416.9" width="14.5" height="63.9" fill="#8cc063" stroke="#231f20" stroke-width="2"/>
<rect x="1695" y="1307.6" width="14.5" height="173.2" fill="#3b7fa0" stroke="#231f20" stroke-width="2"/>
<rect x="1709.4" y="1288.7" width="14.4" height="192.1" fill="#bf6bae" stroke="#231f20" stroke-width="2"/>
<text x="1703.3" y="1508.3" font-size="20.5">1</text>
<rect x="1752" y="1447.8" width="14.5" height="33" fill="#8cc063" stroke="#231f20" stroke-width="2"/>
<rect x="1766.5" y="1413.1" width="14.5" height="67.7" fill="#3b7fa0" stroke="#231f20" stroke-width="2"/>
<rect x="1780.9" y="1426.1" width="14.4" height="54.7" fill="#bf6bae" stroke="#231f20" stroke-width="2"/>
<text x="1775.1" y="1508.3" font-size="20.5">2</text>
<rect x="1823.5" y="1474.7" width="14.5" height="6.1" fill="#8cc063" stroke="#231f20" stroke-width="2"/>
<rect x="1838" y="1420.5" width="14.5" height="60.3" fill="#3b7fa0" stroke="#231f20" stroke-width="2"/>
<rect x="1852.4" y="1410.5" width="14.4" height="70.3" fill="#bf6bae" stroke="#231f20" stroke-width="2"/>
<text x="1846.8" y="1508.3" font-size="20.5">3</text>
<path d="M1552 1233V1480.8H1932M1544 1276H1552M1544 1327H1552M1544 1378.4H1552M1544 1429.4H1552M1544 1480.8H1552" fill="none" stroke="#231f20" stroke-width="2" stroke-linecap="butt"/>
<text x="1537" y="1283.2" text-anchor="end">0.8</text>
<text x="1537" y="1334.2" text-anchor="end">0.6</text>
<text x="1537" y="1385.6" text-anchor="end">0.4</text>
<text x="1537" y="1436.6" text-anchor="end">0.2</text>
<text x="1537" y="1488" text-anchor="end">0.0</text>
<text x="1741" y="1530.7">Number of mismatches</text>
<text transform="translate(1496,1341.5) rotate(-90)" font-style="italic">R<tspan dy="-7" font-size="11">2</tspan><tspan dy="7"> of T</tspan><tspan dy="5" font-size="11" font-style="italic">m</tspan></text>
<path d="M1667 1555.3L1588.5 1613.5M1751.4 1554.3L1830.7 1611.4" fill="none" stroke="#231f20" stroke-width="2.2"/>
<path d="M1249 1672.5V1848.3H1403.6M1241 1673H1249M1241 1712H1249M1241 1751.1H1249M1241 1790.2H1249M1241 1829.2H1249M1266 1848.3V1856.3M1300.2 1848.3V1856.3M1334.3 1848.3V1856.3M1368.5 1848.3V1856.3M1402.6 1848.3V1856.3" fill="none" stroke="#231f20" stroke-width="2" stroke-linecap="butt"/>
<text x="1230.7" y="1680.2" text-anchor="end">80</text>
<text x="1230.7" y="1719.2" text-anchor="end">70</text>
<text x="1230.7" y="1758.3" text-anchor="end">60</text>
<text x="1230.7" y="1797.4" text-anchor="end">50</text>
<text x="1230.7" y="1836.4" text-anchor="end">40</text>
<text x="1266" y="1884.7">40</text>
<text x="1300.2" y="1884.7">50</text>
<text x="1334.3" y="1884.7">60</text>
<text x="1368.5" y="1884.7">70</text>
<text x="1402.6" y="1884.7">80</text>
<text x="1335.6" y="1640.9" font-style="italic">MAE = 0.60</text>
<text x="1330.4" y="1663.2" font-style="italic">R = 0.96, R<tspan dy="-7" font-size="11">2</tspan><tspan dy="7">= 0.87</tspan></text>
<text x="1368" y="1811">no</text>
<text x="1368" y="1835">mismatch</text>
<path d="M1433.1 1672.5V1848.3H1587.7M1425.1 1673H1433.1M1425.1 1712H1433.1M1425.1 1751.1H1433.1M1425.1 1790.2H1433.1M1425.1 1829.2H1433.1M1450.1 1848.3V1856.3M1484.2 1848.3V1856.3M1518.4 1848.3V1856.3M1552.5 1848.3V1856.3M1586.7 1848.3V1856.3" fill="none" stroke="#231f20" stroke-width="2" stroke-linecap="butt"/>
<text x="1450.1" y="1884.7">40</text>
<text x="1484.2" y="1884.7">50</text>
<text x="1518.4" y="1884.7">60</text>
<text x="1552.5" y="1884.7">70</text>
<text x="1586.7" y="1884.7">80</text>
<text x="1520" y="1640.9" font-style="italic">MAE = 1.66</text>
<text x="1514" y="1663.2" font-style="italic">R = 0.59, R<tspan dy="-7" font-size="11">2</tspan><tspan dy="7">= 0.25</tspan></text>
<text x="1542" y="1811">single</text>
<text x="1542" y="1835">mismatch</text>
<path d="M1617.5 1672.5V1848.3H1772.1M1609.5 1673H1617.5M1609.5 1712H1617.5M1609.5 1751.1H1617.5M1609.5 1790.2H1617.5M1609.5 1829.2H1617.5M1634.5 1848.3V1856.3M1668.7 1848.3V1856.3M1702.8 1848.3V1856.3M1737 1848.3V1856.3M1771.1 1848.3V1856.3" fill="none" stroke="#231f20" stroke-width="2" stroke-linecap="butt"/>
<text x="1634.5" y="1884.7">40</text>
<text x="1668.7" y="1884.7">50</text>
<text x="1702.8" y="1884.7">60</text>
<text x="1737" y="1884.7">70</text>
<text x="1771.1" y="1884.7">80</text>
<text x="1703.8" y="1640.9" font-style="italic">MAE = 2.17</text>
<text x="1699.1" y="1663.2" font-style="italic">R = 0.43, R<tspan dy="-7" font-size="11">2</tspan><tspan dy="7">= 0.13</tspan></text>
<text x="1731.8" y="1811">double</text>
<text x="1731.8" y="1835">mismatch</text>
<path d="M1801.9 1672.5V1848.3H1956.5M1793.9 1673H1801.9M1793.9 1712H1801.9M1793.9 1751.1H1801.9M1793.9 1790.2H1801.9M1793.9 1829.2H1801.9M1818.9 1848.3V1856.3M1853.1 1848.3V1856.3M1887.2 1848.3V1856.3M1921.4 1848.3V1856.3M1955.5 1848.3V1856.3" fill="none" stroke="#231f20" stroke-width="2" stroke-linecap="butt"/>
<text x="1818.9" y="1884.7">40</text>
<text x="1853.1" y="1884.7">50</text>
<text x="1887.2" y="1884.7">60</text>
<text x="1921.4" y="1884.7">70</text>
<text x="1955.5" y="1884.7">80</text>
<text x="1887.7" y="1640.9" font-style="italic">MAE = 1.91</text>
<text x="1883" y="1663.2" font-style="italic">R = 0.16, R<tspan dy="-7" font-size="11">2</tspan><tspan dy="7">= 0.03</tspan></text>
<text x="1920.4" y="1811">triple</text>
<text x="1920.4" y="1835">mismatch</text>
<path d="M1249 1980V2155.9H1403.6M1241 1980.5H1249M1241 2019.5H1249M1241 2058.6H1249M1241 2097.7H1249M1241 2136.7H1249M1266 2155.9V2163.9M1300.2 2155.9V2163.9M1334.3 2155.9V2163.9M1368.5 2155.9V2163.9M1402.6 2155.9V2163.9" fill="none" stroke="#231f20" stroke-width="2" stroke-linecap="butt"/>
<text x="1230.7" y="1987.7" text-anchor="end">80</text>
<text x="1230.7" y="2026.8" text-anchor="end">70</text>
<text x="1230.7" y="2065.8" text-anchor="end">60</text>
<text x="1230.7" y="2104.8" text-anchor="end">50</text>
<text x="1230.7" y="2143.9" text-anchor="end">40</text>
<text x="1266" y="2188.6">40</text>
<text x="1300.2" y="2188.6">50</text>
<text x="1334.3" y="2188.6">60</text>
<text x="1368.5" y="2188.6">70</text>
<text x="1402.6" y="2188.6">80</text>
<text x="1326.2" y="1934.9" font-style="italic">MAE = 0.63</text>
<text x="1321.2" y="1957.1" font-style="italic">R = 0.96, R<tspan dy="-7" font-size="11">2</tspan><tspan dy="7">= 0.86</tspan></text>
<text x="1366.2" y="2121.9">no</text>
<text x="1366.2" y="2145.4">mismatch</text>
<path d="M1433.1 1980V2155.9H1587.7M1425.1 1980.5H1433.1M1425.1 2019.5H1433.1M1425.1 2058.6H1433.1M1425.1 2097.7H1433.1M1425.1 2136.7H1433.1M1450.1 2155.9V2163.9M1484.2 2155.9V2163.9M1518.4 2155.9V2163.9M1552.5 2155.9V2163.9M1586.7 2155.9V2163.9" fill="none" stroke="#231f20" stroke-width="2" stroke-linecap="butt"/>
<text x="1450.1" y="2188.6">40</text>
<text x="1484.2" y="2188.6">50</text>
<text x="1518.4" y="2188.6">60</text>
<text x="1552.5" y="2188.6">70</text>
<text x="1586.7" y="2188.6">80</text>
<text x="1510" y="1934.9" font-style="italic">MAE = 1.15</text>
<text x="1504.8" y="1957.1" font-style="italic">R = 0.85, R<tspan dy="-7" font-size="11">2</tspan><tspan dy="7">= 0.68</tspan></text>
<text x="1540" y="2121.9">single</text>
<text x="1540" y="2145.4">mismatch</text>
<path d="M1617.5 1980V2155.9H1772.1M1609.5 1980.5H1617.5M1609.5 2019.5H1617.5M1609.5 2058.6H1617.5M1609.5 2097.7H1617.5M1609.5 2136.7H1617.5M1634.5 2155.9V2163.9M1668.7 2155.9V2163.9M1702.8 2155.9V2163.9M1737 2155.9V2163.9M1771.1 2155.9V2163.9" fill="none" stroke="#231f20" stroke-width="2" stroke-linecap="butt"/>
<text x="1634.5" y="2188.6">40</text>
<text x="1668.7" y="2188.6">50</text>
<text x="1702.8" y="2188.6">60</text>
<text x="1737" y="2188.6">70</text>
<text x="1771.1" y="2188.6">80</text>
<text x="1694.8" y="1934.9" font-style="italic">MAE = 2.02</text>
<text x="1689.3" y="1957.1" font-style="italic">R = 0.71, R<tspan dy="-7" font-size="11">2</tspan><tspan dy="7">= 0.26</tspan></text>
<text x="1729.9" y="2121.9">double</text>
<text x="1729.9" y="2145.4">mismatch</text>
<path d="M1801.9 1980V2155.9H1956.5M1793.9 1980.5H1801.9M1793.9 2019.5H1801.9M1793.9 2058.6H1801.9M1793.9 2097.7H1801.9M1793.9 2136.7H1801.9M1818.9 2155.9V2163.9M1853.1 2155.9V2163.9M1887.2 2155.9V2163.9M1921.4 2155.9V2163.9M1955.5 2155.9V2163.9" fill="none" stroke="#231f20" stroke-width="2" stroke-linecap="butt"/>
<text x="1818.9" y="2188.6">40</text>
<text x="1853.1" y="2188.6">50</text>
<text x="1887.2" y="2188.6">60</text>
<text x="1921.4" y="2188.6">70</text>
<text x="1955.5" y="2188.6">80</text>
<text x="1878.7" y="1934.9" font-style="italic">MAE = 1.67</text>
<text x="1873.5" y="1957.1" font-style="italic">R = 0.49, R<tspan dy="-7" font-size="11">2</tspan><tspan dy="7">= 0.24</tspan></text>
<text x="1918.4" y="2121.9">triple</text>
<text x="1918.4" y="2145.4">mismatch</text>
<path d="M1249 2277.8V2453.4H1403.6M1241 2278.3H1249M1241 2317.4H1249M1241 2356.4H1249M1241 2395.5H1249M1241 2434.5H1249M1266 2453.4V2461.4M1300.2 2453.4V2461.4M1334.3 2453.4V2461.4M1368.5 2453.4V2461.4M1402.6 2453.4V2461.4" fill="none" stroke="#231f20" stroke-width="2" stroke-linecap="butt"/>
<text x="1230.7" y="2285.5" text-anchor="end">80</text>
<text x="1230.7" y="2324.6" text-anchor="end">70</text>
<text x="1230.7" y="2363.6" text-anchor="end">60</text>
<text x="1230.7" y="2402.7" text-anchor="end">50</text>
<text x="1230.7" y="2441.7" text-anchor="end">40</text>
<text x="1266" y="2489.7">40</text>
<text x="1300.2" y="2489.7">50</text>
<text x="1334.3" y="2489.7">60</text>
<text x="1368.5" y="2489.7">70</text>
<text x="1402.6" y="2489.7">80</text>
<text x="1335.6" y="2247.1" font-style="italic">MAE = 0.47</text>
<text x="1330.4" y="2268.5" font-style="italic">R = 0.96, R<tspan dy="-7" font-size="11">2</tspan><tspan dy="7">= 0.92</tspan></text>
<text x="1358.4" y="2419.7">no</text>
<text x="1358.4" y="2444">mismatch</text>
<path d="M1433.1 2277.8V2453.4H1587.7M1425.1 2278.3H1433.1M1425.1 2317.4H1433.1M1425.1 2356.4H1433.1M1425.1 2395.5H1433.1M1425.1 2434.5H1433.1M1450.1 2453.4V2461.4M1484.2 2453.4V2461.4M1518.4 2453.4V2461.4M1552.5 2453.4V2461.4M1586.7 2453.4V2461.4" fill="none" stroke="#231f20" stroke-width="2" stroke-linecap="butt"/>
<text x="1450.1" y="2489.7">40</text>
<text x="1484.2" y="2489.7">50</text>
<text x="1518.4" y="2489.7">60</text>
<text x="1552.5" y="2489.7">70</text>
<text x="1586.7" y="2489.7">80</text>
<text x="1520" y="2247.1" font-style="italic">MAE = 0.95</text>
<text x="1514" y="2268.5" font-style="italic">R = 0.87, R<tspan dy="-7" font-size="11">2</tspan><tspan dy="7">= 0.75</tspan></text>
<text x="1531.5" y="2419.7">single</text>
<text x="1531.5" y="2444">mismatch</text>
<path d="M1617.5 2277.8V2453.4H1772.1M1609.5 2278.3H1617.5M1609.5 2317.4H1617.5M1609.5 2356.4H1617.5M1609.5 2395.5H1617.5M1609.5 2434.5H1617.5M1634.5 2453.4V2461.4M1668.7 2453.4V2461.4M1702.8 2453.4V2461.4M1737 2453.4V2461.4M1771.1 2453.4V2461.4" fill="none" stroke="#231f20" stroke-width="2" stroke-linecap="butt"/>
<text x="1634.5" y="2489.7">40</text>
<text x="1668.7" y="2489.7">50</text>
<text x="1702.8" y="2489.7">60</text>
<text x="1737" y="2489.7">70</text>
<text x="1771.1" y="2489.7">80</text>
<text x="1704" y="2247.1" font-style="italic">MAE = 2.09</text>
<text x="1698.5" y="2268.5" font-style="italic">R = 0.74, R<tspan dy="-7" font-size="11">2</tspan><tspan dy="7">= 0.21</tspan></text>
<text x="1721.7" y="2419.7">double</text>
<text x="1721.7" y="2444">mismatch</text>
<path d="M1801.9 2277.8V2453.4H1956.5M1793.9 2278.3H1801.9M1793.9 2317.4H1801.9M1793.9 2356.4H1801.9M1793.9 2395.5H1801.9M1793.9 2434.5H1801.9M1818.9 2453.4V2461.4M1853.1 2453.4V2461.4M1887.2 2453.4V2461.4M1921.4 2453.4V2461.4M1955.5 2453.4V2461.4" fill="none" stroke="#231f20" stroke-width="2" stroke-linecap="butt"/>
<text x="1818.9" y="2489.7">40</text>
<text x="1853.1" y="2489.7">50</text>
<text x="1887.2" y="2489.7">60</text>
<text x="1921.4" y="2489.7">70</text>
<text x="1955.5" y="2489.7">80</text>
<text x="1888.1" y="2247.1" font-style="italic">MAE = 1.60</text>
<text x="1882.6" y="2268.5" font-style="italic">R = 0.53, R<tspan dy="-7" font-size="11">2</tspan><tspan dy="7">= 0.27</tspan></text>
<text x="1910.1" y="2419.7">triple</text>
<text x="1910.1" y="2444">mismatch</text>
<text transform="translate(1172.5,2065) rotate(-90)">Predicted T<tspan dy="5" font-size="12" font-style="normal">m</tspan><tspan dy="-5"> (°C)</tspan></text>
<text x="1596.5" y="2530.8">T<tspan dy="5" font-size="12" font-style="normal">m</tspan><tspan dy="-5"> (°C)</tspan></text>
<path d="M1357.7 1729.5 1343.5 1743.4 1338.4 1746.5 1365.4 1718.6 1358.2 1733.8 1347.4 1745.3 1341.9 1746.7 1347.1 1744.4 1349.4 1746 1353.6 1734.8 1336.3 1756.1 1357.7 1731.8 1356.5 1733.3 1347.1 1745.1 1339.8 1755.2 1343.6 1743.9 1359 1730 1339.4 1755.6 1360.6 1721.7 1357.3 1729.5 1355.2 1736 1357.8 1734.6 1345.8 1743.6 1349.3 1743.7 1359.7 1720.3 1339.1 1756.8" class="m5"/>
<path d="M1517.3 1748.7 1493.5 1763 1514.4 1741.4 1523.5 1754.1 1512.2 1741.4 1505.7 1764.6 1506.1 1771.5 1521.1 1741.4 1500.8 1765.5 1525.3 1749.7 1509.6 1740.5 1522.2 1760.9 1517.4 1739.6 1503.1 1754.8 1494.7 1759.4 1534.4 1734.3 1511.5 1769.1 1502.3 1756.9 1516.8 1749.2 1527.7 1734.3 1499.2 1770 1515.2 1766.9 1512.1 1759.6 1520.7 1755.9 1502.9 1756 1518.7 1754.4 1506 1760.4 1533.8 1729.9 1508.5 1747.2 1528.9 1742.9 1520.3 1760.1 1494.8 1764.6 1507.8 1752.6 1497.7 1774.6 1524.4 1755.1 1519.3 1753.5 1509.9 1745.4 1535.9 1729.8 1521.4 1746.6 1522.3 1738.3 1509 1764.7 1502.7 1757.4 1502.4 1761.9 1482.6 1756.5 1506.3 1754 1504.7 1763.2 1528.5 1745.5 1504.4 1771.1 1527.6 1740.4 1512.2 1752.5 1522.5 1756.3 1526.3 1744.9 1498.6 1769.4 1515.8 1747.3 1492.7 1759 1513.1 1748.4 1522.7 1744.5 1514.9 1756 1514.3 1743.4 1517.4 1740.2 1526.9 1743.7 1496.2 1764.8 1522.1 1753.6 1522.8 1751.7 1505.1 1758.2 1499.5 1759.3 1518.7 1752.4 1503.3 1763.5 1530.8 1752.1 1520.3 1751.4 1515.4 1766.8 1509.2 1764.2 1524 1752.2 1497.8 1759.1 1531.4 1738.4 1518.8 1749.7 1501.9 1752.7 1514.7 1755.8 1506.5 1773.1 1504.3 1762 1505.4 1757.9 1516.3 1751.3 1517.5 1760.6 1514.6 1754.5 1521.5 1750.9 1498.8 1763.5 1513.7 1749 1500.2 1763.5 1518.9 1751.6 1528.5 1740.2 1525.1 1752.5 1531.5 1729.6 1510.8 1770.8 1514.8 1752.6 1513.5 1752.4 1524.7 1747.9 1512.7 1764.5 1502.5 1766.1 1510.9 1753.7 1510.4 1757.7 1499.6 1766 1514.7 1749.1 1496.6 1758.1 1524.6 1746.9 1508.6 1768 1508.5 1746.2 1522.2 1751.9 1507.8 1768.3 1511.1 1740.6 1526.4 1741.9 1513 1760.9 1508.7 1756 1514.3 1760.7 1510.3 1767.9 1522.7 1743.1 1523.4 1761 1511.6 1760.6 1517.8 1762 1526.2 1740.8 1505.8 1752 1500.7 1752.7 1518.5 1759.2 1514.8 1749.3 1524.5 1741.8 1527.9 1734.6 1524.5 1752.4 1519.4 1750.7 1511.6 1766.4 1497.7 1765.4 1520.9 1752.6 1506.5 1752.4 1496.8 1752.8 1514.9 1749.1 1529.4 1743.7 1511.8 1748.7 1519.7 1747.9 1509.5 1764 1506.4 1742.8 1517.8 1761.8 1512.8 1758.3 1521 1754.5 1518.4 1745.8 1511.4 1751.8 1502.2 1770.2 1503 1753.1 1517 1749.3 1528.8 1757.1 1512 1754.1 1524.8 1747.9 1499.8 1756.8 1516.5 1761.5 1515.7 1757.6 1518.1 1758.4 1512 1739.3 1510.4 1764.8 1506 1753.9 1512.5 1746.3 1514.7 1758.7 1507.9 1768.9 1503.8 1772.7 1512.1 1737.9 1510 1747.3 1523 1741.7 1501.3 1769.3 1511.7 1753.3 1505 1753.5 1513.3 1753.9 1524.3 1738.9 1515.9 1756.1 1525.9 1754.2 1494.2 1773.6 1513.2 1765.2 1509.8 1761.1 1516.7 1742.5 1498.2 1767.7 1523.5 1743.4 1525 1737.6 1495.4 1756.2 1524.3 1754.7 1521.6 1765.7 1524.3 1761.5 1512.7 1747.3 1513.5 1741.3 1525.5 1743.3" class="m5"/>
<path d="M1666.7 1788 1675.1 1770.8 1682.8 1780.8 1667 1786.2 1699.3 1770.1 1672.5 1769.1 1681 1760.3 1678 1785.8 1656.8 1780.4 1676.5 1786.8 1678.2 1788.2 1666.4 1771.3 1690.2 1790 1697.1 1770.3 1676.9 1771.3 1691.9 1767.2 1680.7 1772.2 1682.7 1775.5 1672.5 1784.2 1690.7 1765.8 1680.4 1771.6 1665.7 1782.3 1667 1773 1669.1 1773.4 1692.4 1766.9 1695.1 1770.1 1672.6 1770.5 1659.2 1783.9 1665.4 1779.3 1670.1 1767.7 1658.9 1792.2 1684.2 1801.2 1679.2 1772.4 1690 1774.4 1674.5 1771.9 1668.8 1779.8 1676.9 1761.4 1661.9 1776.2 1661.2 1793.9 1663 1771.4 1661.7 1792 1690.2 1762.5 1683.3 1789.4 1663.3 1783.6 1684.1 1784.4 1682.1 1783.9 1668.9 1787.3 1686.6 1787.4 1678.6 1779 1667.8 1783.5 1684.6 1765.2 1686.2 1763.5 1675.2 1777.4 1658.9 1783.2 1672.5 1783.3 1659.6 1792 1681.3 1763.4 1671.1 1771.4 1695.3 1783.1 1665 1788.6 1668.7 1771.7 1684.3 1777.1 1686.8 1780.9 1688.1 1762.9 1691.3 1774.1 1671.5 1784.9 1671.2 1789.9 1673.4 1773 1688.8 1781.1 1684.9 1762.1 1686.5 1783.7 1665.3 1779.6 1660.3 1781 1692.8 1764 1677.1 1779.2 1680.5 1787 1671.2 1785.7 1676.5 1792.4 1680.6 1787.1 1695.6 1766.4 1680.3 1801.2 1662.4 1774.2 1682.2 1769.8 1667.5 1780.4 1676.1 1788.2 1661.5 1788.6 1690.8 1787 1660.1 1791.5 1660.2 1773.3 1673.6 1774.6 1672.4 1789.6 1682.8 1781.4 1676.6 1772.8 1681.9 1768.1 1665.4 1782.7 1654.6 1783.5 1672.6 1779.2 1664 1791.3 1692 1770.9 1673 1779.4 1673.9 1764.9 1672.1 1781 1678.7 1768.9 1671.8 1777.4 1662.5 1785.3 1659.6 1781.4 1680.1 1770.7 1678.3 1779 1658.3 1784.7 1664.8 1776.5 1670.8 1793.1 1661.8 1770.6 1675.8 1786.8 1676.1 1773.8 1659.1 1789.2 1671.8 1776.7 1683 1776.1 1660.5 1784.4 1691.7 1761.4 1665.8 1797.3 1684.7 1766.1 1675.5 1774.1 1666.2 1793.6 1690.5 1760.4 1687.6 1798.4 1679.2 1775 1680.2 1779.7 1662.4 1775 1665.1 1774.7 1677.1 1782.5 1665.8 1782.3 1677 1769.3 1684.3 1782.3 1689.2 1775.8 1673.6 1782.5 1674.7 1796.1 1695.4 1768.1 1668.6 1789.2 1689.5 1758.5 1656.7 1785.5 1668.7 1780.2 1685.9 1759.9 1696 1767 1678.7 1783.1 1685.2 1770.8 1670 1787.5 1696.2 1771.4 1692.1 1773.5 1678.5 1790.9 1695.8 1768.1 1670.9 1776.1 1694.2 1766.3 1677.1 1773.4 1658.8 1781.6 1667.6 1794.3 1685.5 1769.6 1689 1768.8 1685.9 1771.9 1675.2 1793.6 1685.3 1765.7 1686.7 1764.1 1665 1776.1 1681.1 1790.5 1662.5 1785.5 1664.7 1787.4 1681.6 1763.3 1665.1 1776.1 1668 1775.2 1664.1 1782.9 1687.7 1766.1 1668.4 1776 1686.8 1773 1682.9 1793 1670.8 1769.1 1683.6 1789.3 1717.7 1772.2 1672.6 1788.9 1679.2 1788 1688.3 1768.2 1654.6 1775.1 1680.2 1774 1662.5 1777.8 1689.9 1772.9 1678.5 1776.9 1678.2 1771.5 1656.3 1785.1 1677 1781.4 1662.5 1789.9 1675.8 1780.4 1684.2 1769.6 1684.6 1778.1 1690.4 1775.7 1670.8 1783.9 1667.5 1789.5 1685 1790.5 1677.2 1783.3 1679 1777.6 1657.9 1776 1676 1793 1696.1 1766.2 1665.9 1774.7 1682.7 1769 1679.7 1776.7 1659.2 1783 1668.8 1782.3 1690.5 1764.9 1659.4 1777.9 1683 1775.9 1686.4 1769.6 1682.5 1785.4 1673.1 1773.8 1684 1789.4 1695.5 1767.4 1668.4 1791.1" class="m5"/>
<path d="M1850.1 1792.6 1840.1 1796.5 1849.2 1797.3 1837.3 1793.5 1855.6 1795.7 1840 1793.7 1884.3 1794.4 1860.6 1791.5 1847.7 1795.6 1859.5 1797.9 1854.5 1796.4 1863.6 1792.6 1842.1 1796.6 1844.8 1794.3 1860.4 1798.6 1839.3 1797 1857.5 1795.8 1864 1798.9 1834.9 1795.4 1854.2 1796.9 1850.2 1796.8 1860.4 1797.4 1858.1 1799.3 1872.3 1796.9 1859.4 1798.8 1866.5 1797 1868.9 1795.8 1835.3 1796.9 1860.2 1798.6 1857 1796.9 1834.6 1796.5 1839.5 1794.3 1833.5 1796.6 1834.2 1795.2 1850.7 1794.5 1859.7 1792.4 1868.1 1796.9 1861.9 1798.6 1831.4 1793.9 1853.5 1796.8 1862.3 1794.2 1851.8 1794.2 1852.3 1798.6 1837.2 1797.2 1854.7 1793.7 1862.6 1796.5 1844.2 1797 1860.5 1792.6 1852.1 1795.7 1853.1 1799.9 1862.6 1797.4 1837 1793.3 1851.8 1796.5 1865.4 1798.6 1844.9 1793.3 1863.5 1796.4 1864.6 1792.5 1868.5 1796.4 1862.2 1798.4 1848.5 1795.5 1853.5 1795.2 1842.5 1795.1 1864.4 1795.8 1862.5 1796.6 1865 1797.4 1837.9 1795.5 1863.4 1794.7 1864.6 1794 1860.5 1795.5 1838.3 1795.3 1848.8 1798.2 1860.3 1799.3 1863.5 1793.8 1854.3 1793.6 1870.4 1794.6 1846 1794.5 1855 1797.6 1858.8 1791.5 1849.7 1794 1831.6 1796 1854.5 1797.1 1859.4 1795.4 1866.6 1795.1 1837.6 1796.1 1830.8 1795.9 1861.3 1798.5 1853.8 1800.4 1850.1 1794.6 1844.7 1794.1 1846.3 1797.6 1836.9 1798.5 1837.7 1797.4 1861.4 1794.6 1872.7 1796.2 1840.4 1795.5 1843.5 1795.2 1854.9 1793.6 1859 1798.1 1864.1 1795.9 1839.3 1795.6 1852 1798 1849 1796.7 1844.9 1794.9 1839 1794.6 1839.7 1793.5 1845.3 1794.3 1847.5 1795.8 1848 1796.8 1844 1797.5 1862.8 1796.1 1845.9 1796.9 1870.1 1794.7 1858.2 1792.2 1868.7 1796.8 1860.5 1794.2 1841.7 1798.2 1857 1799.7 1864.2 1796.3 1849.4 1795.9 1836.4 1799 1846.8 1796.7" class="m5"/>
<path d="M1360.5 2021.1 1353.2 2035.3 1354.9 2035.1 1350.8 2045.6 1345.8 2043.6 1354.9 2034.5 1346.8 2042.2 1346.1 2044 1347.2 2045.7 1355 2029 1345.8 2046 1356.9 2032.5 1356.6 2034.2 1348.6 2045.6 1338.7 2054.6 1335.6 2055.9 1337.5 2058.9 1362.3 2022.1 1346.2 2046.5 1359.7 2029.1 1365.4 2019.1 1346.6 2044 1352.4 2034.8 1347 2045.2 1335.4 2056 1355.6 2029.8" class="m6"/>
<path d="M1515.8 2046.1 1530.1 2048.5 1511.9 2062.7 1508.3 2080.3 1528.8 2047 1506 2082.4 1502.4 2074 1506.8 2082.7 1511.1 2073.2 1507.9 2069.3 1502.4 2075.2 1518.2 2049.3 1514 2065.9 1494.2 2079.4 1519.9 2052.9 1517.3 2062 1528.9 2044.3 1517.3 2074.7 1506 2083 1517.8 2065.7 1505.8 2079.9 1512.3 2068.3 1494.6 2078.5 1515.8 2067.1 1521.7 2050.7 1525.3 2050.3 1522.7 2053.5 1511.3 2075.4 1518.1 2051.6 1523 2049.2 1514.3 2070.4 1504 2075.9 1501.2 2084.9 1514.4 2064.1 1520 2056.7 1514.4 2071.9 1521.6 2053.7 1523.7 2045 1506.1 2082 1496.1 2078.3 1518.6 2051.2 1516.6 2048.1 1510.7 2058.5 1514.7 2060.2 1503.7 2082.9 1523.5 2058.9 1520.4 2050.5 1530.5 2047.6 1513 2069.9 1501 2081.3 1522.5 2055.3 1507.3 2083.7 1535.9 2050.5 1530.2 2051.2 1496.1 2078.3 1514.8 2058 1526.6 2057.4 1514.3 2072.4 1504.1 2088.6 1532.9 2051.9 1498.7 2083 1516.5 2064.6 1501.5 2079.1 1507.7 2075.9 1499.3 2076.6 1501.3 2076.5 1517.8 2056.3 1505.7 2064.8 1497.2 2075.9 1514.5 2060.9 1515.6 2068.3 1510.1 2076 1515.5 2061.6 1499.8 2077.1 1497 2082.3 1511.3 2072.2 1505.3 2071.7 1513 2074.8 1514.1 2059.2 1528.3 2049 1516 2063.7 1509.5 2066.2 1506.8 2079.1 1522.2 2054.1 1503.9 2085.5 1491.3 2076.5 1524.4 2050.8 1493.3 2080.5 1531.5 2048.8 1517.5 2069.1 1514.6 2055.1 1534.6 2049.1 1514.1 2065.4 1502.1 2076.2 1530 2055.8 1516.2 2057.3 1512.2 2072 1501.8 2083.2 1498.9 2079.8 1518.7 2062.6 1504.3 2079.8 1518 2061.8 1500.2 2086.9 1520.6 2060.1 1515.2 2070.1 1513 2066.5 1525.7 2051.5 1522.7 2064.6 1482.6 2075.1 1493 2077.9 1495.5 2078.2 1513.2 2070.2 1499.7 2074.7 1513.5 2070 1497.6 2087 1520.1 2068.4 1525.2 2044.3 1510.6 2073.9 1511.6 2078.2 1496.3 2078.8 1526.6 2054.9 1503.2 2086.2 1531.9 2043.2 1510.2 2068.1 1524.2 2045.8 1530.7 2038.7 1512.4 2075.9 1522.5 2060.8 1496.1 2083.4 1519.7 2051.6 1502.2 2071.7 1501.1 2075.6 1526.7 2053.5 1496.2 2084 1515.8 2065.8 1520 2061.5 1507.7 2071.7 1504.2 2082.9 1511.6 2070 1527.1 2048.1 1517.5 2051.6 1529.6 2041.8 1516.1 2063.7 1514.1 2059.4 1492 2078.4 1532.8 2048.2 1502.2 2069.4 1513.9 2074.9 1525.7 2049.1 1512 2061.7 1526 2046.2 1509.6 2067.8 1523.6 2058.4 1515.2 2070.5 1525.5 2046.7 1496.6 2076.5 1500.3 2076.9 1512.7 2069 1496 2072.2 1517.1 2056 1516.2 2064.6 1512.2 2058.3 1522.4 2058.4 1492.5 2079.6 1531.2 2045.9 1508.5 2073.2 1499.7 2081 1518.1 2052.1 1503.5 2079.1 1508 2062.5 1500.3 2073.5 1527.6 2051.4 1498.9 2089.6 1495.3 2081.3 1496.5 2079.4 1522.1 2049.7 1511.7 2060.7 1510.8 2079.3 1527.3 2047.8 1515.9 2070.7 1510.9 2059.2 1495.7 2087 1512.1 2067.3 1524.3 2060.4" class="m6"/>
<path d="M1683.7 2102.4 1679.9 2079.4 1678.1 2077.8 1677.7 2078.1 1668 2099 1686.1 2072 1671.4 2109 1680.1 2073.9 1663.8 2093.2 1669.8 2092.1 1664.7 2091.3 1673.9 2084.8 1687.6 2076.2 1681.7 2076.2 1671.8 2084.5 1659.7 2106.8 1665.7 2100.3 1674.3 2099.9 1678.9 2075.6 1678.1 2098.7 1672.6 2097.5 1668.8 2090.9 1683.8 2090.3 1674.8 2113.4 1676.7 2093 1672.2 2080.6 1682 2083.2 1665.6 2090 1665 2095 1665.9 2110.8 1673.5 2097 1675.3 2090.1 1667.7 2105.5 1687.4 2071.2 1680.9 2071.6 1675.7 2089.3 1676.8 2108.6 1664.4 2115.3 1669.8 2083.5 1659.4 2097 1680.6 2082.9 1690.7 2076.3 1693.4 2072.6 1667.7 2100.6 1680.1 2071.4 1658 2108.1 1682.4 2082.3 1660.4 2097.7 1685.6 2081.8 1682.4 2068.1 1675.4 2111.1 1687.1 2086.8 1666.8 2086.4 1659.2 2104 1658.2 2120.7 1658.1 2119.9 1679 2071 1688.1 2067.9 1661.1 2099.9 1667.6 2098.1 1683.2 2072.8 1665.8 2091.9 1684.4 2069.1 1703 2087.7 1673 2076.5 1668.2 2107.7 1686.9 2085.7 1674.4 2090 1685.7 2098.1 1678.8 2101.3 1669.1 2087.9 1671.8 2108.5 1671.9 2104.1 1657.3 2118.6 1676.9 2080.7 1685.5 2079.6 1680.7 2101.7 1662.6 2100.3 1680.1 2071 1670.5 2107.9 1669.4 2083.2 1666.7 2099.5 1665.6 2110.7 1670.1 2095 1663.2 2102.3 1679 2076.2 1687.9 2070 1666.6 2112.5 1661.4 2106.5 1667.3 2105.1 1671.8 2114.6 1664.1 2091.9 1670.5 2080.9 1669.3 2087.5 1661.4 2117.9 1667.4 2107.4 1670.6 2108.7 1690.2 2069.9 1671.1 2102 1663.3 2103 1670.7 2096.9 1665.1 2092.4 1667.8 2086.9 1670.5 2112.6 1677.1 2104.1 1663.2 2114.9 1690.7 2067.6 1666.5 2111.7 1671.2 2109.1 1667.6 2085.7 1700 2082.2 1669 2102.1 1693.6 2083.8 1662.6 2109.1 1687.2 2080.5 1664.5 2082.9 1659.1 2109.9 1672.6 2094.3 1673.5 2082.5 1679.8 2087.2 1679.8 2089.9 1662.3 2107.8 1648.4 2113.4 1675.7 2089.8 1679.8 2071.1 1692.3 2072.7 1689.4 2072.5 1666.3 2103.2 1678.1 2083.3 1675.3 2105.8 1680.2 2107.2 1656.9 2112 1670.5 2090.9 1680.2 2079.5 1664.4 2104 1684.7 2086.6 1678.6 2082.1 1662.9 2092 1686.3 2073.7 1685.1 2082.6 1666.7 2101.7 1671.3 2100 1681.6 2081.9 1665.4 2104.7 1683.5 2074.6 1687.1 2072.3 1688.5 2070.3 1717.7 2069.4 1684.5 2078.9 1676.2 2076.6 1680.1 2089.1 1679.5 2078 1666.5 2095.4 1660.9 2118.5 1683.2 2096 1679 2091 1665.9 2083.7 1681.5 2077.1 1658.5 2088.1 1670.2 2089.6 1686 2076.3 1669 2108.2 1671.8 2105.8 1649.9 2090.8 1663.1 2111.9 1688.9 2070.4 1663.4 2096.5 1672.6 2108.5 1695.5 2072.5 1673 2092.2 1675.6 2093.3 1664.6 2083.9 1660.1 2102.2 1691.3 2072.6 1681.4 2079.4 1673.5 2090.2 1662 2117.9 1684.4 2068.1 1659 2111.4 1672.2 2090.2 1696.2 2074.6 1661 2087.6 1665.8 2105.2 1680.2 2075 1674.9 2088.7 1679.1 2082.3 1667.9 2105 1679.1 2088.9 1675.1 2102.4 1679.1 2075.7 1672.9 2111.8 1669.4 2110.8 1671.3 2085.2 1687.8 2071.1 1675.8 2096.3 1665.7 2098.5 1674.1 2103.7 1699.8 2067.5 1665.4 2110.7 1677.9 2077.8 1663.8 2079.6 1687 2073.5 1678.1 2067.5 1671.5 2097.9 1657.5 2117.7 1674.6 2089.6 1665.8 2088 1663.4 2094.6 1678.3 2080.9 1664.4 2106.5 1678.3 2077 1695.5 2067.8 1657.6 2087.8 1677.7 2088.8 1676.6 2094.7" class="m6"/>
<path d="M1840.8 2095.3 1861.7 2086.3 1857.5 2094 1852.2 2088.6 1862.3 2093.8 1854.1 2102.2 1839.3 2093.2 1849.6 2092.7 1859.7 2086.1 1849.8 2101.7 1837.8 2100.4 1859.6 2090.6 1862.6 2091.9 1848.7 2092.3 1843.8 2093.4 1855.3 2100.8 1869.4 2089.7 1857.2 2090.6 1852.4 2095.4 1850.1 2091.5 1853 2093.1 1855.3 2086.1 1851 2106.7 1861.8 2094.7 1859.8 2100.6 1860.1 2093.2 1852.2 2092.5 1843.4 2096.1 1855.3 2096.8 1859 2090 1851.7 2092.2 1870.5 2099.5 1867.6 2093.4 1847.6 2098.7 1855.6 2100.6 1861.9 2091.5 1857.1 2102.9 1869.1 2089.8 1867.2 2093.7 1858.7 2093.9 1861.8 2094.4 1846.1 2100.4 1866.2 2094.7 1862.7 2086 1884.2 2091.4 1855.4 2091.1 1858.8 2101.2 1863.8 2097.8 1866.9 2099.6 1848.9 2093.4 1854 2102.9 1864.1 2090 1854.2 2096.8 1848.8 2105.5 1858.5 2089.4 1827.3 2103.5 1856.6 2084.6 1866.4 2091 1835.1 2105.6 1833.1 2101.1 1845.3 2099.7 1849 2101.5 1864.5 2090.2 1858.8 2090.5 1846.2 2091.3 1861.2 2099.1 1865.1 2090.1 1852.4 2102 1869.5 2096.7 1853.5 2088.9 1856.3 2092.4 1854.5 2094.7 1857.8 2086.3 1857.3 2101 1850.2 2095.8 1859.1 2101.2 1863.1 2093.6 1858.6 2092.8 1865 2096 1835.8 2097.8 1849.9 2096.2 1862.4 2095.5 1870.3 2097.5 1854.1 2085.7 1831.6 2099.1 1859.8 2092.8 1845.5 2105.4 1863 2090.8 1846 2098 1874.3 2091 1839.2 2093.5 1834.6 2103.6 1850.9 2100.3 1842.7 2095.3 1861.3 2088 1862.7 2096.1 1855 2089.5 1840.7 2096.2 1847.3 2103.9 1837.5 2097.5 1848.2 2099.3 1847.7 2089.4 1839.1 2095.9 1861.1 2103.3 1866.5 2091.2 1853.3 2084.7 1833.7 2102.2 1837.4 2102.4 1835.7 2097.9 1845.7 2090.6 1861.2 2098.7 1843.7 2099 1850.4 2097.4 1855 2093.1 1843.2 2102.1 1847.6 2092.6 1864 2086.6 1841.8 2095.4 1869.8 2089.1 1862.4 2101.3 1866.5 2096.3 1854.2 2091.5 1844.4 2095.8 1857.2 2099.9 1854.7 2101.1 1839.4 2097.8 1864.3 2094.5 1846 2096.2 1829.7 2101.7 1841.2 2101.8 1841.2 2103.7 1838.6 2104.4 1848.9 2087.3 1854.3 2088 1854.6 2099.6 1845.8 2104.7 1852.5 2095.8 1827.3 2100 1839.9 2096.1 1846.1 2099.1 1844.4 2100.8 1850.1 2094.5 1863.1 2095.4 1857.4 2096.6 1860.8 2101.1 1859.4 2091.9 1843.5 2105.6 1874.2 2091.6 1862.5 2089.7 1834.7 2105 1858.9 2103" class="m6"/>
<path d="M1343.7 2366.9 1365.4 2342.8 1345.6 2364.3 1356.7 2353.6 1353.9 2354 1350.2 2357.1 1347.9 2357.9 1342.9 2364.1 1345.2 2365.4 1357.7 2353.2 1338.2 2373.5 1344.6 2362.8 1347.9 2357.9 1345.4 2361.6 1360.3 2346.2 1342.6 2364.9 1339.9 2374.2 1349.8 2364.2 1354.4 2354.1 1355.2 2355 1361.2 2345.5 1338.7 2373.5 1338.9 2373.5 1347.1 2364.5 1335.5 2372.1" class="m2"/>
<path d="M1507 2386.7 1510.8 2372.8 1514 2373.9 1516.3 2370.6 1492.7 2389 1506.8 2378.8 1505.7 2389.9 1516.8 2373 1511.8 2375.7 1519.5 2364.4 1496 2386.4 1494.5 2385.7 1491.8 2390.7 1500.2 2385 1498.3 2394.3 1496.6 2392.4 1502.9 2386.5 1494.4 2389.5 1498.4 2400.1 1521.2 2364.6 1507.4 2379.4 1494.9 2383.1 1505.8 2387.7 1517.1 2374.3 1508.2 2377.5 1505.5 2379.4 1535.9 2355.6 1494.2 2393.2 1509.8 2383.6 1522.2 2366.3 1512.5 2373.6 1491.8 2392 1517.1 2366.4 1510.7 2376.3 1482.6 2380.4 1498.6 2390.2 1506.4 2387.7 1498 2398.3 1506.7 2379.8 1495.8 2384.2 1501.3 2394.6 1508.2 2382.3 1500.9 2392.4 1497.5 2392.3 1510.7 2374.7 1509 2378.6 1508.8 2381.9 1499.1 2394.8 1491.7 2390.5 1531.5 2349.1 1515.9 2371.1 1506 2389.4 1499.1 2384.6 1504.6 2388.4 1500.4 2383.3 1515.3 2373.2 1522.8 2365.2 1491.7 2392.4 1514.3 2372 1498.1 2395 1495.2 2390.1 1505 2382.8 1494.9 2387 1509.9 2379.4 1502.4 2393.4 1512.5 2373.1 1495.7 2394.6 1502.2 2389.2 1502.9 2380.9 1514.8 2369.2 1513.5 2375.7 1517.4 2368.5 1515.2 2375.1 1500.5 2396.1 1509.9 2378.7 1504.8 2389.1 1520.8 2370.1 1500.5 2386 1511.4 2381 1506.3 2389.6 1504.7 2383.9 1508.1 2382.8 1508.6 2379.3 1515.8 2374.8 1503.4 2385.1 1517.4 2370.5 1505.5 2387.3 1501.3 2391.4 1517.8 2371.4 1516.2 2373 1491.8 2386.5 1513.1 2368.5 1503.3 2388.3 1518.7 2367.8 1501.7 2380.3 1500.1 2386.7 1516.8 2377.4 1488.3 2380.4 1508.9 2382.1 1497.5 2390.4 1505.4 2381.3 1504.3 2383.9 1508.4 2380 1496.8 2385.3 1501.7 2384 1497.4 2395.9 1496.8 2384.5 1506.6 2388 1500.9 2384.5 1515.2 2372.9 1493.6 2389 1513.4 2374.2 1497.5 2382.1 1524.5 2362.7 1504.6 2385 1513.8 2380.4 1493 2388.9 1496.4 2383.6 1513.3 2376.8 1513.8 2375.1 1489.3 2388.7 1506.3 2388.9 1504 2385.2 1503.4 2389.4 1505.5 2377.9 1510.9 2372.9 1526.7 2359.8 1529.7 2358.1 1499.5 2386.4 1522.6 2362.8 1496.6 2390.2 1512.4 2380.2 1496.3 2390.6 1503.7 2386.2 1509.8 2382.7 1502.7 2392.8 1499.6 2382 1508.6 2381.6 1497.8 2391.5 1504 2386.3 1512 2372.6 1515.4 2375 1492.4 2385.9 1507.4 2388.6 1513.5 2374.7 1509.2 2379.4 1499 2390.8 1501.9 2386 1507.3 2385.5 1512.8 2375.5 1512.1 2373.1 1497.1 2391.4 1490.3 2388.3 1532.5 2356 1499.5 2388.9 1507.4 2379.6 1502 2385.7 1498.5 2384.5 1507.5 2378.2 1500.4 2387.7 1508.3 2386.2 1498.7 2396.1 1520.1 2367.9 1510.8 2376.8 1514 2372.4 1511.2 2370.3 1492.3 2390.6 1509.6 2380 1501.2 2394.2 1505.3 2392 1518 2376.5 1518.9 2370.6 1495.5 2392.2 1514.2 2372.5 1516.7 2376.2 1500.5 2393.6 1498.8 2390.8 1499.1 2386.1 1497.5 2391.9 1517 2368.1 1506.4 2384.9 1508.8 2382.6 1516.5 2373.1 1522.6 2363.7" class="m2"/>
<path d="M1663.8 2399.7 1656 2416.5 1663.6 2392.3 1659.6 2414.4 1663.1 2408.3 1681.9 2388.6 1685.8 2376.9 1676.3 2391.5 1659.1 2400.4 1681.3 2405.1 1656.7 2406.8 1686.8 2381.9 1681.8 2376.8 1663.4 2389.5 1660.7 2403.2 1684.5 2369.5 1674.8 2386.6 1665.6 2408.9 1669.7 2414.1 1652.4 2407.9 1664.9 2401.1 1677.2 2387.3 1678 2416.4 1677.2 2381.8 1674.3 2406.8 1676.1 2410.2 1665.6 2387.5 1657.7 2411.3 1666.7 2412.3 1679.7 2382 1670.2 2417.9 1668.2 2396.6 1672.1 2384.6 1688.1 2379.7 1658.6 2389.9 1662.7 2417.4 1677.7 2379.4 1678.9 2378.4 1664 2415.8 1672.6 2412 1669 2391.4 1667.7 2411.8 1667.7 2399.8 1677.2 2387 1672.8 2402.5 1669.8 2402.5 1691.6 2369.8 1681.7 2389.7 1660.2 2407.2 1685.3 2369.5 1672.5 2390.3 1688 2384.9 1689.1 2386.2 1673.6 2381.7 1681.7 2381.3 1672.1 2379.1 1668 2388.1 1679.4 2391.5 1681.5 2377.8 1659 2403.4 1678.1 2416.5 1696.2 2365.4 1682.6 2391 1665.5 2407.6 1663.8 2395.3 1670.1 2393.1 1679.9 2391.2 1683.3 2391.4 1667.6 2392.8 1658.1 2413.4 1683.9 2397 1680.9 2382.8 1664 2410.6 1649.8 2402.6 1677.1 2399.5 1694.4 2370.7 1659.4 2396.7 1686.2 2377.7 1658.8 2392.5 1676.2 2403.4 1684.3 2377.4 1671.3 2398.6 1660.4 2421 1654.9 2389.1 1681.8 2369.1 1675.6 2388.3 1668.9 2421.9 1666.5 2402.8 1667.7 2414.1 1655.1 2430.4 1695.4 2375.6 1690.7 2368.9 1688.2 2379.9 1676.1 2388 1676.8 2410.4 1666.2 2412.8 1672 2383 1676.6 2392.7 1683.3 2375.7 1667.6 2380 1677.5 2383 1663.2 2386.5 1665.1 2415.5 1669 2385.9 1665.5 2395.8 1678.7 2378.8 1655.5 2421.9 1671.5 2404.2 1657.2 2401.4 1669.5 2385.1 1664.1 2391.4 1677.9 2394.1 1676 2380.3 1671.5 2395.4 1680.9 2379.2 1678.9 2393.3 1680.5 2393.3 1664.3 2411.3 1668.6 2380.4 1658.2 2395.6 1666.8 2399.9 1664.2 2404.6 1655.3 2404.1 1672.4 2397.9 1685.9 2370.1 1676.5 2384.9 1658 2418.4 1680.4 2388.6 1694.4 2366 1690.8 2373.6 1668.3 2398 1665 2407.7 1675.2 2405.5 1675.1 2412 1657.1 2411.3 1674.7 2376.6 1658.7 2413.8 1667.1 2406.5 1683.4 2390 1660.1 2387.9 1659.9 2408.8 1668.8 2395.6 1674.5 2380.2 1666.6 2414.3 1672.5 2388.4 1662 2403.7 1665.2 2404.2 1660.1 2410.4 1684.4 2390.4 1671.9 2402.6 1666.6 2395.7 1674.5 2404.4 1659.4 2401.6 1688.3 2373.8 1685.6 2379.8 1693.6 2364.1 1659.3 2414.3 1673.4 2404.8 1680.9 2383 1654.2 2412.6 1673.2 2392.1 1665.2 2396.9 1681.9 2398.7 1669.2 2385 1678.8 2398.5 1680.3 2407.1 1659.8 2402.7 1690.4 2385.3 1674.2 2400.1 1662.6 2417.9 1673.3 2381.4 1672.5 2397.4 1670.3 2394.6 1682.8 2379.5 1671.2 2400.2 1679.1 2399 1656.9 2397.8 1684.6 2376.5 1676.6 2393.8 1661.2 2394.5 1667 2412.2 1672.5 2401 1703 2385.8 1685.2 2370 1670.7 2388.2 1655.2 2413.5 1674 2392.8 1671.5 2409.6 1664 2387.8 1676.9 2407.8 1658.9 2394.2 1683.6 2373 1686.7 2376.3 1678.6 2390.2 1666.5 2405.8 1671.2 2392.4 1677.9 2376.8 1660.6 2410 1669.5 2396.7 1682.2 2378.3 1658.3 2407.6 1671.5 2385.9 1655.1 2406.2 1657.3 2418.4 1662.3 2419 1684.7 2374.7 1665.9 2418 1686.6 2379.8 1685.2 2384.1 1660.4 2401.5 1658.7 2400.4 1689.4 2365.6" class="m2"/>
<path d="M1858.9 2395.8 1840.7 2394.9 1854 2382.6 1851.7 2386.2 1829.9 2392.4 1858.1 2390.1 1858.2 2381.3 1837 2394.6 1845.1 2393.3 1852.1 2386 1841.9 2382.5 1848.5 2387.2 1865.5 2381.4 1829.1 2395.8 1866.3 2388.2 1850.1 2386.4 1843.4 2389.8 1852.3 2384.4 1851.1 2377.2 1840.8 2392.5 1847.5 2391.4 1860.5 2381.8 1847.3 2380.8 1862.4 2383.1 1845 2391.9 1861.7 2388.4 1846 2389.8 1845.5 2395.9 1846.8 2379.2 1843.9 2389.1 1858.7 2379.4 1863.1 2382.9 1864.1 2392.2 1850.1 2390.2 1857 2391.8 1849.6 2382.8 1856.8 2390.8 1846.2 2399.8 1844 2395.9 1856.9 2386.2 1846.9 2392.5 1853.3 2381.5 1867.9 2378.8 1852 2384.4 1837.8 2379.2 1838.2 2394.3 1862.7 2380.7 1869 2387.5 1851.6 2382.4 1849.4 2391.6 1839.8 2385.1 1832.6 2386.2 1866.3 2384.5 1865.6 2378.5 1845.5 2394.1 1852 2388.2 1869.4 2377.7 1866.9 2377.2 1871.1 2381.9 1847.3 2392 1843.5 2391.5 1829.6 2392 1856.4 2386.4 1833.4 2391.2 1857.8 2396.5 1852.9 2396.5 1842.6 2388 1865.5 2388.4 1843.6 2388 1844.1 2389.3 1865.6 2376 1862 2379.5 1864.3 2386.8 1829.7 2387.2 1871.7 2380.1 1850 2385.8 1870.2 2377.2 1853.2 2389.7 1866.4 2384.7 1834.9 2388.4 1829.1 2392.9 1841.2 2388.9 1840.8 2384.3 1849.8 2394.5 1859.6 2385.4 1856.6 2375.5 1847.2 2387.1 1849.4 2376.7 1857.7 2390 1840.4 2385 1863.4 2386.9 1862.1 2379.7 1825.7 2389.6 1869.5 2372.1 1867 2380.7 1848.2 2378 1874.4 2376.5 1845.3 2391.5 1871.1 2373.9 1862.4 2380.7 1835.6 2390.5 1853.3 2382.2 1842.4 2395.8 1865.7 2383.1 1856.4 2385.8 1866.4 2381.4 1838.6 2382.8 1848.8 2395.3 1863.1 2388.8 1832.5 2389.4 1839.7 2380.8 1854.8 2393.8 1840.8 2380.3 1857.6 2374.1 1839.1 2384.3 1836 2385.2 1864.6 2374.9 1849.6 2399.8 1859.8 2381.7 1858.4 2388.5 1837 2388.2 1858.7 2383.3 1846.5 2383.9 1837.1 2390.4 1852 2390.6 1846.7 2386.8 1862.9 2386.8 1860.6 2378.6 1842.5 2394.8 1854.7 2379.6 1856.2 2383.4 1864.1 2379.1 1856 2380.9 1844.2 2391 1855.2 2388 1838.1 2381.7 1862 2385.9 1860.2 2388.8 1841.6 2390.6 1863 2390.8 1837.6 2394.8 1837.5 2382.8 1864.5 2376.3 1856.4 2379.6 1846.7 2385.4 1854.1 2389.5 1833.6 2384.3 1859.6 2386.8 1853.2 2387.4 1848.9 2382.6" class="m2"/>
<text x="26" y="1631" font-size="72" text-anchor="start" font-weight="bold" fill="#0d1013">f</text>
<text x="525.5" y="1631" font-size="32" text-anchor="start" font-weight="bold" fill="#0d1013">Variances</text>
<text x="206.7" y="1682.7" font-size="24">All</text>
<text x="496" y="1689" font-size="24">Watson Crick</text>
<text x="739.4" y="1689" font-size="24">Mismatch</text>
<text x="994.5" y="1689" font-size="24">Bulge</text>
<text transform="translate(61.5,1801.6) rotate(-90)">Variances of <tspan font-family="Liberation Serif">Δ</tspan>G<tspan dy="5" font-size="12" font-style="normal">37</tspan><tspan dy="-5"> (kcal</tspan><tspan dy="-7" font-size="12">2</tspan><tspan dy="7">·mol</tspan><tspan dy="-7" font-size="12">-2</tspan><tspan dy="7">)</tspan></text>
<rect x="137.2" y="1720.5" width="20.8" height="130.5" fill="#f5b96b" stroke="#231f20" stroke-width="2"/>
<rect x="137.2" y="1724.7" width="20.8" height="126.3" fill="#e3c1db" stroke="#231f20" stroke-width="2"/>
<rect x="158" y="1827.3" width="19.7" height="23.7" fill="#d42426" stroke="#231f20" stroke-width="2"/>
<rect x="192.9" y="1720.5" width="20.7" height="130.5" fill="#f5b96b" stroke="#231f20" stroke-width="2"/>
<rect x="192.9" y="1724.7" width="20.7" height="126.3" fill="#e3c1db" stroke="#231f20" stroke-width="2"/>
<rect x="213.6" y="1794.1" width="19.7" height="56.9" fill="#36b573" stroke="#231f20" stroke-width="2"/>
<rect x="248.2" y="1720.5" width="21.1" height="130.5" fill="#f5b96b" stroke="#231f20" stroke-width="2"/>
<rect x="248.2" y="1724.7" width="21.1" height="126.3" fill="#e3c1db" stroke="#231f20" stroke-width="2"/>
<rect x="269.3" y="1746.6" width="20" height="104.4" fill="#36b573" stroke="#231f20" stroke-width="2"/>
<path d="M124.2 1851H130.7M124.2 1839.1H130.7M124.2 1827.3H130.7M124.2 1815.4H130.7M124.2 1803.6H130.7M124.2 1791.7H130.7M124.2 1779.8H130.7M124.2 1768H130.7M124.2 1756.1H130.7M124.2 1744.3H130.7M124.2 1732.4H130.7M124.2 1720.5H130.7" fill="none" stroke="#231f20" stroke-width="1.8"/>
<path d="M130.7 1713.8V1851H296.6M121 1732.4H130.7M121 1791.7H130.7M121 1851H130.7M157.3 1851V1860M212.9 1851V1860M268.6 1851V1860" fill="none" stroke="#231f20" stroke-width="2" stroke-linecap="butt"/>
<text x="112.5" y="1737.8" font-size="20.5" text-anchor="end">1.0</text>
<text x="112.5" y="1797.1" font-size="20.5" text-anchor="end">0.5</text>
<text x="112.5" y="1856.4" font-size="20.5" text-anchor="end">0.0</text>
<path d="M121 1851H130.7" fill="none" stroke="#231f20" stroke-width="2"/>
<text transform="translate(168.3,1877.5) rotate(-45)" font-size="20" text-anchor="end" font-style="italic">dna04</text>
<text transform="translate(223.9,1877.5) rotate(-45)" font-size="20" text-anchor="end" font-style="italic">dna24</text>
<text transform="translate(265.1,1878) rotate(-45)" font-size="20" text-anchor="end">rich</text>
<text transform="translate(302.6,1873) rotate(-45)" font-size="20" text-anchor="end">parameter</text>
<rect x="422" y="1720.9" width="20.8" height="130.1" fill="#f5b96b" stroke="#231f20" stroke-width="2"/>
<rect x="422" y="1722.7" width="20.8" height="128.3" fill="#e3c1db" stroke="#231f20" stroke-width="2"/>
<rect x="442.8" y="1765.2" width="20.4" height="85.8" fill="#36b573" stroke="#231f20" stroke-width="2"/>
<rect x="478" y="1720.9" width="20.4" height="130.1" fill="#f5b96b" stroke="#231f20" stroke-width="2"/>
<rect x="478" y="1722.7" width="20.4" height="128.3" fill="#e3c1db" stroke="#231f20" stroke-width="2"/>
<rect x="498.4" y="1755.9" width="20.1" height="95.1" fill="#36b573" stroke="#231f20" stroke-width="2"/>
<rect x="533.7" y="1720.9" width="20.7" height="130.1" fill="#f5b96b" stroke="#231f20" stroke-width="2"/>
<rect x="533.7" y="1722.7" width="20.7" height="128.3" fill="#e3c1db" stroke="#231f20" stroke-width="2"/>
<rect x="554.4" y="1734.7" width="20.1" height="116.3" fill="#36b573" stroke="#231f20" stroke-width="2"/>
<path d="M408.3 1851H414.8M408.3 1841.8H414.8M408.3 1832.5H414.8M408.3 1823.3H414.8M408.3 1814.1H414.8M408.3 1804.8H414.8M408.3 1795.6H414.8M408.3 1786.4H414.8M408.3 1777.2H414.8M408.3 1767.9H414.8M408.3 1758.7H414.8M408.3 1749.5H414.8M408.3 1740.2H414.8M408.3 1731H414.8M408.3 1721.8H414.8" fill="none" stroke="#231f20" stroke-width="1.8"/>
<path d="M414.8 1713.8V1851H582M405.1 1758.7H414.8M405.1 1804.8H414.8M405.1 1851H414.8M442.4 1851V1860M498.4 1851V1860M554.1 1851V1860" fill="none" stroke="#231f20" stroke-width="2" stroke-linecap="butt"/>
<text x="396.9" y="1764.1" font-size="20.5" text-anchor="end">1.0</text>
<text x="396.9" y="1810.2" font-size="20.5" text-anchor="end">0.5</text>
<text x="396.9" y="1856.4" font-size="20.5" text-anchor="end">0.0</text>
<path d="M405.1 1851H414.8" fill="none" stroke="#231f20" stroke-width="2"/>
<text transform="translate(453.4,1877.5) rotate(-45)" font-size="20" text-anchor="end" font-style="italic">dna04</text>
<text transform="translate(509.4,1877.5) rotate(-45)" font-size="20" text-anchor="end" font-style="italic">dna24</text>
<text transform="translate(550.6,1878) rotate(-45)" font-size="20" text-anchor="end">rich</text>
<text transform="translate(588.1,1873) rotate(-45)" font-size="20" text-anchor="end">parameter</text>
<rect x="672.7" y="1720.9" width="20.4" height="130.1" fill="#f5b96b" stroke="#231f20" stroke-width="2"/>
<rect x="672.7" y="1727.1" width="20.4" height="123.9" fill="#e3c1db" stroke="#231f20" stroke-width="2"/>
<rect x="693.1" y="1738.1" width="20" height="112.9" fill="#d42426" stroke="#231f20" stroke-width="2"/>
<rect x="728.3" y="1720.9" width="20.4" height="130.1" fill="#f5b96b" stroke="#231f20" stroke-width="2"/>
<rect x="728.3" y="1727.1" width="20.4" height="123.9" fill="#e3c1db" stroke="#231f20" stroke-width="2"/>
<rect x="748.7" y="1806.8" width="20.1" height="44.2" fill="#36b573" stroke="#231f20" stroke-width="2"/>
<rect x="784" y="1720.9" width="20.4" height="130.1" fill="#f5b96b" stroke="#231f20" stroke-width="2"/>
<rect x="784" y="1727.1" width="20.4" height="123.9" fill="#e3c1db" stroke="#231f20" stroke-width="2"/>
<rect x="804.4" y="1757.7" width="20" height="93.3" fill="#36b573" stroke="#231f20" stroke-width="2"/>
<path d="M659.3 1851H665.8M659.3 1838.7H665.8M659.3 1826.5H665.8M659.3 1814.2H665.8M659.3 1801.9H665.8M659.3 1789.7H665.8M659.3 1777.4H665.8M659.3 1765.1H665.8M659.3 1752.8H665.8M659.3 1740.6H665.8M659.3 1728.3H665.8M659.3 1716H665.8" fill="none" stroke="#231f20" stroke-width="1.8"/>
<path d="M665.8 1713.8V1851H832.4M656.1 1728.3H665.8M656.1 1789.7H665.8M656.1 1851H665.8M692.7 1851V1860M748.4 1851V1860M804 1851V1860" fill="none" stroke="#231f20" stroke-width="2" stroke-linecap="butt"/>
<text x="652.5" y="1733.7" font-size="20.5" text-anchor="end">1.0</text>
<text x="652.5" y="1795.1" font-size="20.5" text-anchor="end">0.5</text>
<text x="652.5" y="1856.4" font-size="20.5" text-anchor="end">0.0</text>
<path d="M656.1 1851H665.8" fill="none" stroke="#231f20" stroke-width="2"/>
<text transform="translate(703.7,1877.5) rotate(-45)" font-size="20" text-anchor="end" font-style="italic">dna04</text>
<text transform="translate(759.4,1877.5) rotate(-45)" font-size="20" text-anchor="end" font-style="italic">dna24</text>
<text transform="translate(800.5,1878) rotate(-45)" font-size="20" text-anchor="end">rich</text>
<text transform="translate(838,1873) rotate(-45)" font-size="20" text-anchor="end">parameter</text>
<rect x="922.3" y="1727.3" width="20.3" height="123.7" fill="#f5b96b" stroke="#231f20" stroke-width="2"/>
<rect x="922.3" y="1738.7" width="20.3" height="112.3" fill="#e3c1db" stroke="#231f20" stroke-width="2"/>
<rect x="942.6" y="1720.6" width="20.4" height="130.4" fill="#d42426" stroke="#231f20" stroke-width="2"/>
<rect x="978.3" y="1727.3" width="20.7" height="123.7" fill="#f5b96b" stroke="#231f20" stroke-width="2"/>
<rect x="978.3" y="1738.7" width="20.7" height="112.3" fill="#e3c1db" stroke="#231f20" stroke-width="2"/>
<rect x="999" y="1769.2" width="20" height="81.8" fill="#d42426" stroke="#231f20" stroke-width="2"/>
<rect x="1034.2" y="1727.3" width="20.4" height="123.7" fill="#f5b96b" stroke="#231f20" stroke-width="2"/>
<rect x="1034.2" y="1738.7" width="20.4" height="112.3" fill="#e3c1db" stroke="#231f20" stroke-width="2"/>
<rect x="1054.6" y="1777" width="20.4" height="74" fill="#36b573" stroke="#231f20" stroke-width="2"/>
<path d="M908.8 1851H915.3M908.8 1823.1H915.3M908.8 1795.2H915.3M908.8 1767.2H915.3M908.8 1739.3H915.3" fill="none" stroke="#231f20" stroke-width="1.8"/>
<path d="M915.3 1713.8V1851H1082.6M905.6 1739.3H915.3M905.6 1795.2H915.3M905.6 1851H915.3M942.3 1851V1860M998.6 1851V1860M1054.3 1851V1860" fill="none" stroke="#231f20" stroke-width="2" stroke-linecap="butt"/>
<text x="902.4" y="1744.7" font-size="20.5" text-anchor="end">0.4</text>
<text x="902.4" y="1800.6" font-size="20.5" text-anchor="end">0.2</text>
<text x="902.4" y="1856.4" font-size="20.5" text-anchor="end">0.0</text>
<path d="M905.6 1851H915.3" fill="none" stroke="#231f20" stroke-width="2"/>
<text transform="translate(953.3,1877.5) rotate(-45)" font-size="20" text-anchor="end" font-style="italic">dna04</text>
<text transform="translate(1009.6,1877.5) rotate(-45)" font-size="20" text-anchor="end" font-style="italic">dna24</text>
<text transform="translate(1050.8,1878) rotate(-45)" font-size="20" text-anchor="end">rich</text>
<text transform="translate(1088.3,1873) rotate(-45)" font-size="20" text-anchor="end">parameter</text>
<text transform="translate(278,1999) rotate(-90)" font-size="24">Data</text>
<rect x="301.9" y="1963.2" width="49.5" height="22.5" fill="#f5b96b" stroke="#231f20" stroke-width="3"/>
<text x="376.8" y="1981" font-size="24" text-anchor="start">Technical</text>
<rect x="301.9" y="2009.5" width="49.5" height="22" fill="#e3c1db" stroke="#231f20" stroke-width="3"/>
<text x="376.8" y="2028.4" font-size="24" text-anchor="start">Biological</text>
<text transform="translate(631.5,1999.7) rotate(-90)" font-size="24">Model</text>
<rect x="664.9" y="1963.2" width="49" height="22" fill="#36b573" stroke="#231f20" stroke-width="3"/>
<text x="739.7" y="1984.5" font-size="24" text-anchor="start">Explained by model</text>
<rect x="664.9" y="2009.5" width="49" height="22.5" fill="#d42426" stroke="#231f20" stroke-width="3"/>
<text x="739.7" y="2030.8" font-size="24" text-anchor="start">Introduced by model</text>
<text x="35.5" y="2109" font-size="72" text-anchor="start" font-weight="bold" fill="#0d1013">h</text>
<text x="412.3" y="2111" font-size="32" text-anchor="start" font-weight="bold" fill="#0d1013">Error on Array Melt test set</text>
<path d="M813 2168.6H414.8V2453.1H813M405.1 2168.6H414.8M407.8 2215.9H414.8M405.1 2263.3H414.8M407.8 2310.8H414.8M405.1 2358.4H414.8M407.8 2405.7H414.8M405.1 2453.1H414.8M448.3 2453.1V2465.6M448.3 2168.6V2154.8M530.9 2453.1V2465.6M530.9 2168.6V2161.6M613.6 2453.1V2465.6M613.6 2168.6V2154.8M696.3 2453.1V2465.6M696.3 2168.6V2161.6M778.8 2453.1V2465.6M778.8 2168.6V2154.8" fill="none" stroke="#231f20" stroke-width="2"/>
<text x="398" y="2175.6" text-anchor="end" font-style="italic">1.2</text>
<text x="398" y="2270.3" text-anchor="end" font-style="italic">0.8</text>
<text x="398" y="2365.4" text-anchor="end" font-style="italic">0.4</text>
<text x="398" y="2460.1" text-anchor="end" font-style="italic">0.0</text>
<text x="444.8" y="2489" font-style="italic">0</text>
<text x="527.4" y="2489" font-style="italic">25</text>
<text x="610.1" y="2489" font-style="italic">50</text>
<text x="692.8" y="2489" font-style="italic">70</text>
<text x="791.3" y="2489" font-style="italic">100%</text>
<text x="446.3" y="2151.3" font-style="italic">0</text>
<text x="610.9" y="2151.3" font-style="italic">12,490</text>
<text x="775.8" y="2151.3" font-style="italic">24,979</text>
<text x="528.9" y="2199.7" text-anchor="start"># Sequence variants</text>
<text x="520.2" y="2530.8" text-anchor="start">% training data used</text>
<text transform="translate(352.5,2318) rotate(-90)">MAE of <tspan font-family="Liberation Serif">Δ</tspan>G<tspan dy="5" font-size="12" font-style="normal">37</tspan><tspan dy="-7"> (kcal/mol)</tspan></text>
<path d="M451.1 2204.2 L453.9 2230 L457 2218.7 L463.2 2256.7 L473.6 2294.1 L490.8 2317.6 L519.2 2345.2 L566.9 2363.7 L646.4 2369.4 L779.2 2372.2" fill="none" stroke="#c445a0" stroke-width="4" stroke-linejoin="round"/>
<rect x="445.9" y="2199" width="10.4" height="10.4" fill="#c445a0"/>
<rect x="451.8" y="2213.5" width="10.4" height="10.4" fill="#c445a0"/>
<rect x="448.7" y="2224.8" width="10.4" height="10.4" fill="#c445a0"/>
<rect x="458" y="2251.5" width="10.4" height="10.4" fill="#c445a0"/>
<rect x="468.4" y="2288.9" width="10.4" height="10.4" fill="#c445a0"/>
<rect x="485.6" y="2312.4" width="10.4" height="10.4" fill="#c445a0"/>
<rect x="514" y="2340" width="10.4" height="10.4" fill="#c445a0"/>
<rect x="561.7" y="2358.5" width="10.4" height="10.4" fill="#c445a0"/>
<rect x="641.2" y="2364.2" width="10.4" height="10.4" fill="#c445a0"/>
<rect x="774" y="2367" width="10.4" height="10.4" fill="#c445a0"/>
<path d="M451.1 2238.1 L453.5 2256 L457.3 2268.1 L463.2 2305.1 L473.6 2306.2 L490.8 2314.8 L519.2 2317.2 L566.9 2319.3 L646.4 2320 L779.2 2320.7" fill="none" stroke="#3d7f8f" stroke-width="4" stroke-linejoin="round"/>
<rect x="445.9" y="2232.9" width="10.4" height="10.4" fill="#3d7f8f"/>
<rect x="448.3" y="2250.8" width="10.4" height="10.4" fill="#3d7f8f"/>
<rect x="452.1" y="2262.9" width="10.4" height="10.4" fill="#3d7f8f"/>
<rect x="458" y="2299.9" width="10.4" height="10.4" fill="#3d7f8f"/>
<rect x="468.4" y="2301" width="10.4" height="10.4" fill="#3d7f8f"/>
<rect x="485.6" y="2309.6" width="10.4" height="10.4" fill="#3d7f8f"/>
<rect x="514" y="2312" width="10.4" height="10.4" fill="#3d7f8f"/>
<rect x="561.7" y="2314.1" width="10.4" height="10.4" fill="#3d7f8f"/>
<rect x="641.2" y="2314.8" width="10.4" height="10.4" fill="#3d7f8f"/>
<rect x="774" y="2315.5" width="10.4" height="10.4" fill="#3d7f8f"/>
<path d="M830.7 2276.4H861.4" fill="none" stroke="#3d7f8f" stroke-width="4" stroke-linecap="round"/>
<rect x="840.9" y="2271.4" width="10" height="10" fill="#3d7f8f"/>
<path d="M830.7 2351.8H861.4" fill="none" stroke="#c445a0" stroke-width="4" stroke-linecap="round"/>
<rect x="840.9" y="2346.8" width="10" height="10" fill="#c445a0"/>
<text x="883.9" y="2282.7" font-size="24" text-anchor="start">Compact model</text>
<text x="883.9" y="2312" font-size="24" text-anchor="start">(178 features)</text>
<text x="883.9" y="2357.7" font-size="24" text-anchor="start">Rich parameter model</text>
<text x="883.9" y="2387" font-size="24" text-anchor="start">(1338 features)</text>
</g></svg></body></html>
